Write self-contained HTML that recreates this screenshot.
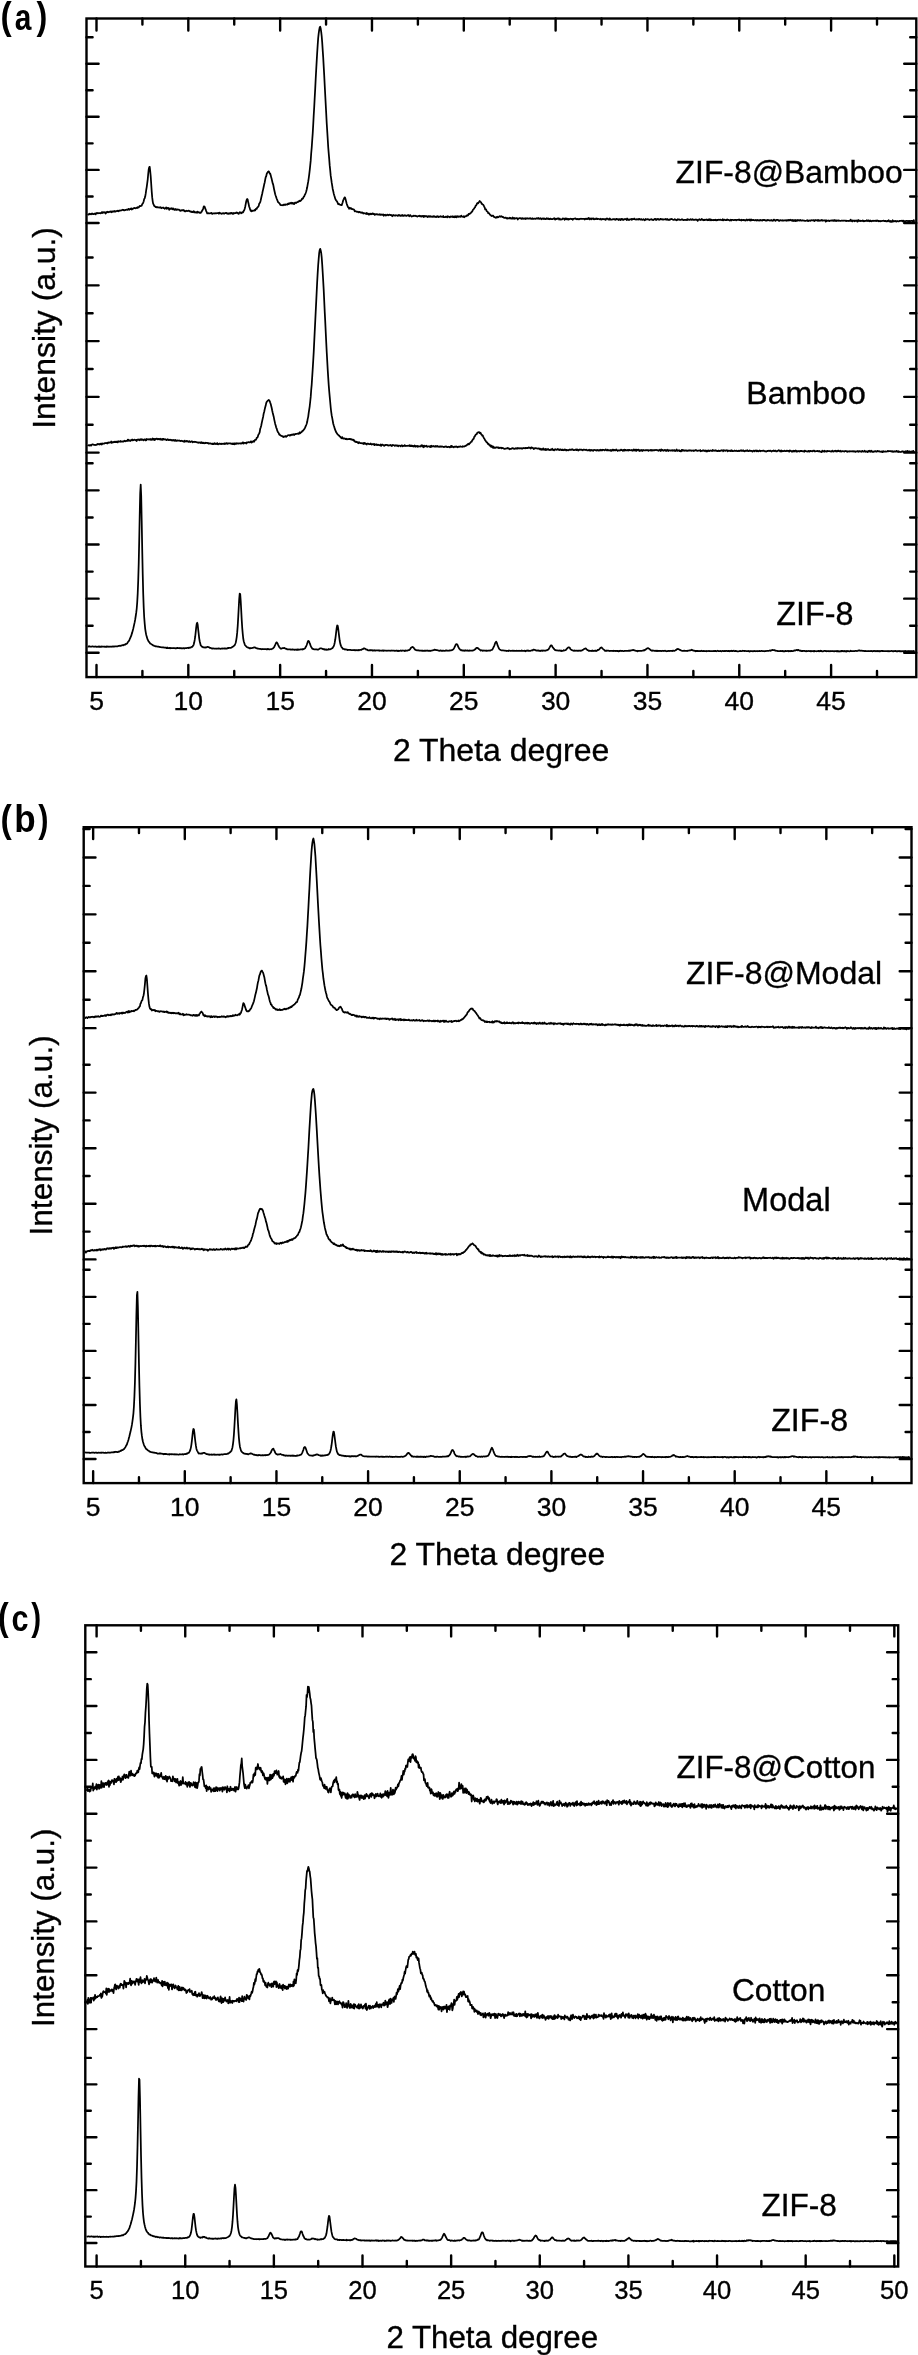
<!DOCTYPE html>
<html><head><meta charset="utf-8"><style>
html,body{margin:0;padding:0;background:#fff;}
svg{display:block;will-change:transform;}
text{font-family:"Liberation Sans",sans-serif;fill:#000;stroke:#000;stroke-width:0.35px;}
.tag{stroke-width:0;}
.tl{font-size:24.2px;text-anchor:middle;}
.ti{font-size:31.2px;}
.lb{font-size:31.2px;}
.tag{font-size:100px;font-weight:bold;}
</style></head><body>
<svg width="918" height="2355" viewBox="0 0 918 2355">
<rect x="86.5" y="18.5" width="829.8" height="658.6" fill="none" stroke="#000" stroke-width="2.4"/>
<path d="M96.5 677.1v-12.1M96.5 18.5v12.1M142.41 677.1v-6.1M142.41 18.5v6.1M188.32 677.1v-12.1M188.32 18.5v12.1M234.24 677.1v-6.1M234.24 18.5v6.1M280.15 677.1v-12.1M280.15 18.5v12.1M326.06 677.1v-6.1M326.06 18.5v6.1M371.97 677.1v-12.1M371.97 18.5v12.1M417.89 677.1v-6.1M417.89 18.5v6.1M463.8 677.1v-12.1M463.8 18.5v12.1M509.71 677.1v-6.1M509.71 18.5v6.1M555.62 677.1v-12.1M555.62 18.5v12.1M601.54 677.1v-6.1M601.54 18.5v6.1M647.45 677.1v-12.1M647.45 18.5v12.1M693.36 677.1v-6.1M693.36 18.5v6.1M739.27 677.1v-12.1M739.27 18.5v12.1M785.19 677.1v-6.1M785.19 18.5v6.1M831.1 677.1v-12.1M831.1 18.5v12.1M877.01 677.1v-6.1M877.01 18.5v6.1M86.5 37.2h6.1M916.3 37.2h-6.1M86.5 63.74h12.1M916.3 63.74h-12.1M86.5 90.28h6.1M916.3 90.28h-6.1M86.5 116.82h12.1M916.3 116.82h-12.1M86.5 143.36h6.1M916.3 143.36h-6.1M86.5 169.9h12.1M916.3 169.9h-12.1M86.5 196.44h6.1M916.3 196.44h-6.1M86.5 222.98h12.1M916.3 222.98h-12.1M86.5 257.5h6.1M916.3 257.5h-6.1M86.5 285.37h12.1M916.3 285.37h-12.1M86.5 313.24h6.1M916.3 313.24h-6.1M86.5 341.11h12.1M916.3 341.11h-12.1M86.5 368.98h6.1M916.3 368.98h-6.1M86.5 396.85h12.1M916.3 396.85h-12.1M86.5 424.72h6.1M916.3 424.72h-6.1M86.5 452.59h12.1M916.3 452.59h-12.1M86.5 463.3h6.1M916.3 463.3h-6.1M86.5 490.37h12.1M916.3 490.37h-12.1M86.5 517.44h6.1M916.3 517.44h-6.1M86.5 544.51h12.1M916.3 544.51h-12.1M86.5 571.58h6.1M916.3 571.58h-6.1M86.5 598.65h12.1M916.3 598.65h-12.1M86.5 625.72h6.1M916.3 625.72h-6.1M86.5 652.79h12.1M916.3 652.79h-12.1" stroke="#000" stroke-width="2.4" fill="none" stroke-linecap="round"/>
<text x="96.5" y="710.1" class="tl" style="font-size:26.5px">5</text>
<text x="188.32" y="710.1" class="tl" style="font-size:26.5px">10</text>
<text x="280.15" y="710.1" class="tl" style="font-size:26.5px">15</text>
<text x="371.97" y="710.1" class="tl" style="font-size:26.5px">20</text>
<text x="463.8" y="710.1" class="tl" style="font-size:26.5px">25</text>
<text x="555.62" y="710.1" class="tl" style="font-size:26.5px">30</text>
<text x="647.45" y="710.1" class="tl" style="font-size:26.5px">35</text>
<text x="739.27" y="710.1" class="tl" style="font-size:26.5px">40</text>
<text x="831.1" y="710.1" class="tl" style="font-size:26.5px">45</text>
<text x="392.9" y="761" class="ti" style="font-size:32.0px">2 Theta degree</text>
<text transform="translate(54.5 428.8) rotate(-90)" class="ti" style="font-size:31.85px">Intensity (a.u.)</text>
<text transform="translate(0.62 28.90) scale(0.3357 0.3856)" class="tag">(</text>
<text transform="translate(14.80 29.74) scale(0.2991 0.3636)" class="tag">a</text>
<text transform="translate(36.44 28.90) scale(0.3250 0.3856)" class="tag">)</text>
<rect x="83.7" y="827.2" width="827.8" height="655.9" fill="none" stroke="#000" stroke-width="2.4"/>
<path d="M93.15 1483.1v-11.8M93.15 827.2v11.8M138.97 1483.1v-5.9M138.97 827.2v5.9M184.8 1483.1v-11.8M184.8 827.2v11.8M230.62 1483.1v-5.9M230.62 827.2v5.9M276.45 1483.1v-11.8M276.45 827.2v11.8M322.27 1483.1v-5.9M322.27 827.2v5.9M368.1 1483.1v-11.8M368.1 827.2v11.8M413.92 1483.1v-5.9M413.92 827.2v5.9M459.75 1483.1v-11.8M459.75 827.2v11.8M505.57 1483.1v-5.9M505.57 827.2v5.9M551.4 1483.1v-11.8M551.4 827.2v11.8M597.22 1483.1v-5.9M597.22 827.2v5.9M643.05 1483.1v-11.8M643.05 827.2v11.8M688.87 1483.1v-5.9M688.87 827.2v5.9M734.7 1483.1v-11.8M734.7 827.2v11.8M780.52 1483.1v-5.9M780.52 827.2v5.9M826.35 1483.1v-11.8M826.35 827.2v11.8M872.17 1483.1v-5.9M872.17 827.2v5.9M83.7 829h5.9M911.5 829h-5.9M83.7 857.45h11.8M911.5 857.45h-11.8M83.7 885.9h5.9M911.5 885.9h-5.9M83.7 914.35h11.8M911.5 914.35h-11.8M83.7 942.8h5.9M911.5 942.8h-5.9M83.7 971.25h11.8M911.5 971.25h-11.8M83.7 999.7h5.9M911.5 999.7h-5.9M83.7 1028.15h11.8M911.5 1028.15h-11.8M83.7 1064.8h5.9M911.5 1064.8h-5.9M83.7 1092.6h11.8M911.5 1092.6h-11.8M83.7 1120.4h5.9M911.5 1120.4h-5.9M83.7 1148.2h11.8M911.5 1148.2h-11.8M83.7 1176h5.9M911.5 1176h-5.9M83.7 1203.8h11.8M911.5 1203.8h-11.8M83.7 1231.6h5.9M911.5 1231.6h-5.9M83.7 1259.4h11.8M911.5 1259.4h-11.8M83.7 1269.8h5.9M911.5 1269.8h-5.9M83.7 1296.83h11.8M911.5 1296.83h-11.8M83.7 1323.86h5.9M911.5 1323.86h-5.9M83.7 1350.89h11.8M911.5 1350.89h-11.8M83.7 1377.92h5.9M911.5 1377.92h-5.9M83.7 1404.95h11.8M911.5 1404.95h-11.8M83.7 1431.98h5.9M911.5 1431.98h-5.9M83.7 1459.01h11.8M911.5 1459.01h-11.8" stroke="#000" stroke-width="2.4" fill="none" stroke-linecap="round"/>
<text x="93.15" y="1515.6" class="tl" style="font-size:26.5px">5</text>
<text x="184.8" y="1515.6" class="tl" style="font-size:26.5px">10</text>
<text x="276.45" y="1515.6" class="tl" style="font-size:26.5px">15</text>
<text x="368.1" y="1515.6" class="tl" style="font-size:26.5px">20</text>
<text x="459.75" y="1515.6" class="tl" style="font-size:26.5px">25</text>
<text x="551.4" y="1515.6" class="tl" style="font-size:26.5px">30</text>
<text x="643.05" y="1515.6" class="tl" style="font-size:26.5px">35</text>
<text x="734.7" y="1515.6" class="tl" style="font-size:26.5px">40</text>
<text x="826.35" y="1515.6" class="tl" style="font-size:26.5px">45</text>
<text x="389.6" y="1565.3" class="ti" style="font-size:31.9px">2 Theta degree</text>
<text transform="translate(51.8 1235.5) rotate(-90)" class="ti" style="font-size:31.6px">Intensity (a.u.)</text>
<text transform="translate(0.60 831.58) scale(0.3393 0.3818)" class="tag">(</text>
<text transform="translate(14.32 832.32) scale(0.3505 0.3837)" class="tag">b</text>
<text transform="translate(38.35 831.58) scale(0.3071 0.3818)" class="tag">)</text>
<rect x="85.3" y="1625.3" width="812.9" height="641.2" fill="none" stroke="#000" stroke-width="2.4"/>
<path d="M96.6 2266.5v-11.1M96.6 1625.3v11.1M140.92 2266.5v-5.5M140.92 1625.3v5.5M185.24 2266.5v-11.1M185.24 1625.3v11.1M229.55 2266.5v-5.5M229.55 1625.3v5.5M273.87 2266.5v-11.1M273.87 1625.3v11.1M318.19 2266.5v-5.5M318.19 1625.3v5.5M362.5 2266.5v-11.1M362.5 1625.3v11.1M406.82 2266.5v-5.5M406.82 1625.3v5.5M451.14 2266.5v-11.1M451.14 1625.3v11.1M495.46 2266.5v-5.5M495.46 1625.3v5.5M539.77 2266.5v-11.1M539.77 1625.3v11.1M584.09 2266.5v-5.5M584.09 1625.3v5.5M628.41 2266.5v-11.1M628.41 1625.3v11.1M672.73 2266.5v-5.5M672.73 1625.3v5.5M717.05 2266.5v-11.1M717.05 1625.3v11.1M761.36 2266.5v-5.5M761.36 1625.3v5.5M805.68 2266.5v-11.1M805.68 1625.3v11.1M850 2266.5v-5.5M850 1625.3v5.5M894.32 2266.5v-11.1M894.32 1625.3v11.1M85.3 1652.22h11.1M898.2 1652.22h-11.1M85.3 1679.14h5.5M898.2 1679.14h-5.5M85.3 1706.06h11.1M898.2 1706.06h-11.1M85.3 1732.98h5.5M898.2 1732.98h-5.5M85.3 1759.9h11.1M898.2 1759.9h-11.1M85.3 1786.82h5.5M898.2 1786.82h-5.5M85.3 1813.74h11.1M898.2 1813.74h-11.1M85.3 1840.66h5.5M898.2 1840.66h-5.5M85.3 1867.58h11.1M898.2 1867.58h-11.1M85.3 1894.5h5.5M898.2 1894.5h-5.5M85.3 1921.42h11.1M898.2 1921.42h-11.1M85.3 1948.34h5.5M898.2 1948.34h-5.5M85.3 1975.26h11.1M898.2 1975.26h-11.1M85.3 2002.18h5.5M898.2 2002.18h-5.5M85.3 2029.1h11.1M898.2 2029.1h-11.1M85.3 2057.9h5.5M898.2 2057.9h-5.5M85.3 2084.35h11.1M898.2 2084.35h-11.1M85.3 2110.8h5.5M898.2 2110.8h-5.5M85.3 2137.25h11.1M898.2 2137.25h-11.1M85.3 2163.7h5.5M898.2 2163.7h-5.5M85.3 2190.15h11.1M898.2 2190.15h-11.1M85.3 2216.6h5.5M898.2 2216.6h-5.5M85.3 2243.05h11.1M898.2 2243.05h-11.1" stroke="#000" stroke-width="2.4" fill="none" stroke-linecap="round"/>
<text x="96.6" y="2299.1" class="tl" style="font-size:25.6px">5</text>
<text x="185.24" y="2299.1" class="tl" style="font-size:25.6px">10</text>
<text x="273.87" y="2299.1" class="tl" style="font-size:25.6px">15</text>
<text x="362.5" y="2299.1" class="tl" style="font-size:25.6px">20</text>
<text x="451.14" y="2299.1" class="tl" style="font-size:25.6px">25</text>
<text x="539.77" y="2299.1" class="tl" style="font-size:25.6px">30</text>
<text x="628.41" y="2299.1" class="tl" style="font-size:25.6px">35</text>
<text x="717.05" y="2299.1" class="tl" style="font-size:25.6px">40</text>
<text x="805.68" y="2299.1" class="tl" style="font-size:25.6px">45</text>
<text x="894.32" y="2299.1" class="tl" style="font-size:25.6px">50</text>
<text x="386.4" y="2348" class="ti" style="font-size:31.3px">2 Theta degree</text>
<text transform="translate(53.6 2026.9) rotate(-90)" class="ti" style="font-size:31.3px">Intensity (a.u.)</text>
<text transform="translate(-2.11 1629.58) scale(0.3214 0.3818)" class="tag">(</text>
<text transform="translate(11.48 1630.63) scale(0.3052 0.3691)" class="tag">c</text>
<text transform="translate(31.15 1629.58) scale(0.2964 0.3818)" class="tag">)</text>
<path d="M87.7 213.92 88.2 214.43 88.7 214.59 89.2 214.01 89.7 213.67 90.2 214.06 90.7 214.19 91.2 214.36 91.7 213.49 92.2 213.41 92.7 214.06 93.2 213.92 93.7 214.24 94.2 213.99 94.7 213.56 95.2 213.44 95.7 214.38 96.2 213.33 96.7 213.1 97.2 212.92 97.7 213.3 98.2 213.26 98.7 213.03 99.2 213.08 99.7 213.14 100.2 213.23 100.7 213.32 101.2 212.96 101.7 212.2 102.2 213.02 102.7 212.21 103.2 212.58 103.7 212.07 104.2 212.52 104.7 212.18 105.2 212.47 105.7 213.49 106.2 212.25 106.7 212.5 107.2 211.68 107.7 211.98 108.2 212.25 108.7 211.92 109.2 212.02 109.7 211.86 110.2 211.41 110.7 211.89 111.2 211.35 111.7 212.23 112.2 211.33 112.7 211.68 113.2 211.38 113.7 211.65 114.2 211.04 114.7 211.54 115.2 211.08 115.7 211.5 116.2 211.21 116.7 210.98 117.2 210.59 117.7 211.07 118.2 210.9 118.7 211.24 119.2 210.47 119.7 210.72 120.2 210.63 120.7 210.47 121.2 210.37 121.7 210.29 122.2 209.94 122.7 209.72 123.2 209.86 123.7 210.13 124.2 210.37 124.7 210.11 125.2 210.06 125.7 209.88 126.2 209.78 126.7 209.52 127.2 209.64 127.7 209.91 128.2 209.09 128.7 208.88 129.2 209.73 129.7 209.04 130.2 209.22 130.7 209.11 131.2 208.33 131.7 209.5 132.2 209.19 132.7 208.54 133.2 208.66 133.7 208.35 134.2 207.91 134.7 208.08 135.2 208.15 135.7 208.3 136.2 208.04 136.7 207.69 137.2 208.01 137.7 207.13 138.2 207.51 138.7 207.44 139.2 206.75 139.7 205.98 140.2 206.02 140.7 206.11 141.2 205.81 141.7 205.66 142.2 204.1 142.7 203.61 143.2 202.79 143.7 201.21 144.2 198.89 144.7 198.18 145.2 196.59 145.7 193.69 146.2 190.2 146.7 187.09 147.2 183.4 147.7 179.61 148.2 173.99 148.7 169.34 149.2 167.17 149.7 166.84 150.2 171.04 150.7 176.3 151.2 183.77 151.7 191.33 152.2 197.44 152.7 201.34 153.2 203.85 153.7 204.62 154.2 205.81 154.7 206.27 155.2 206.54 155.7 207.09 156.2 206.89 156.7 207.38 157.2 207.21 157.7 207.14 158.2 207.36 158.7 207.53 159.2 207.73 159.7 207.31 160.2 207.46 160.7 207.13 161.2 208.24 161.7 208.25 162.2 207.75 162.7 207.7 163.2 207.5 163.7 208.05 164.2 208.12 164.7 208.87 165.2 208.24 165.7 207.94 166.2 207.41 166.7 208.81 167.2 208.43 167.7 207.85 168.2 208.54 168.7 207.98 169.2 209.84 169.7 209.08 170.2 208.96 170.7 208.77 171.2 208.16 171.7 208.93 172.2 208.5 172.7 209.33 173.2 208.44 173.7 208.94 174.2 209.75 174.7 209.97 175.2 209.05 175.7 209 176.2 209.91 176.7 209.97 177.2 209.39 177.7 209.56 178.2 209.63 178.7 209.52 179.2 209.77 179.7 210.51 180.2 210.38 180.7 210.93 181.2 210.25 181.7 210.3 182.2 210.07 182.7 210.43 183.2 210.08 183.7 209.99 184.2 210.92 184.7 211.25 185.2 211.1 185.7 211.34 186.2 211.03 186.7 210.75 187.2 211.1 187.7 211 188.2 210.81 188.7 210.67 189.2 210.81 189.7 211.39 190.2 211.51 190.7 211.36 191.2 212.09 191.7 211.71 192.2 211.92 192.7 212.21 193.2 211.56 193.7 211.22 194.2 212.24 194.7 211.8 195.2 212.56 195.7 212.28 196.2 212.58 196.7 212.56 197.2 211.62 197.7 212.64 198.2 212.19 198.7 212.2 199.2 212.35 199.7 212.81 200.2 212.87 200.7 212.9 201.2 211.83 201.7 211.83 202.2 210.4 202.7 209.89 203.2 208.52 203.7 206.6 204.2 206.32 204.7 206.81 205.2 208.48 205.7 209.56 206.2 211.03 206.7 212.03 207.2 213.44 207.7 213.45 208.2 213.14 208.7 213.32 209.2 213.33 209.7 213.4 210.2 213.28 210.7 213.23 211.2 212.91 211.7 213.13 212.2 213.94 212.7 213.55 213.2 213.39 213.7 213.29 214.2 213.39 214.7 213.5 215.2 213.15 215.7 213.45 216.2 213.46 216.7 213.12 217.2 213.11 217.7 213.04 218.2 213.02 218.7 213.7 219.2 212.57 219.7 213.3 220.2 213.18 220.7 213.18 221.2 213.43 221.7 213.8 222.2 213.43 222.7 213.36 223.2 213.19 223.7 213.36 224.2 213.73 224.7 213.27 225.2 213.01 225.7 212.97 226.2 213.03 226.7 212.93 227.2 213.8 227.7 213.54 228.2 213.34 228.7 213.93 229.2 213.19 229.7 213.69 230.2 213.7 230.7 212.88 231.2 212.88 231.7 213.1 232.2 213.74 232.7 213.88 233.2 212.98 233.7 213.74 234.2 213.19 234.7 213.15 235.2 213.05 235.7 213.09 236.2 212.52 236.7 212.77 237.2 212.64 237.7 213.21 238.2 213.72 238.7 213.91 239.2 212.79 239.7 212.26 240.2 212.67 240.7 212.41 241.2 213.35 241.7 212.78 242.2 212.21 242.7 212.63 243.2 212.19 243.7 210.87 244.2 210.27 244.7 208.81 245.2 206.73 245.7 204.2 246.2 201.51 246.7 199.86 247.2 198.95 247.7 199.59 248.2 202.31 248.7 204.33 249.2 206.73 249.7 207.92 250.2 209.7 250.7 210.77 251.2 210.36 251.7 211.29 252.2 210.74 252.7 210.92 253.2 210.6 253.7 210.56 254.2 210.71 254.7 209.92 255.2 210.33 255.7 209.18 256.2 208.72 256.7 208.81 257.2 207.6 257.7 207.14 258.2 206.76 258.7 205.89 259.2 203.71 259.7 203.2 260.2 202.2 260.7 200.29 261.2 197.95 261.7 195.81 262.2 193.76 262.7 191.18 263.2 189.12 263.7 186.73 264.2 184.33 264.7 182.44 265.2 179.71 265.7 177.21 266.2 176.25 266.7 173.96 267.2 172.95 267.7 172.2 268.2 171.66 268.7 171.36 269.2 171.95 269.7 173.53 270.2 173.63 270.7 175.21 271.2 177.33 271.7 179.11 272.2 181.19 272.7 183.41 273.2 184.65 273.7 187.27 274.2 189.8 274.7 192.02 275.2 194.26 275.7 195.78 276.2 197.17 276.7 198.73 277.2 199.93 277.7 201.19 278.2 202.27 278.7 202.69 279.2 203.15 279.7 203.64 280.2 204.7 280.7 205.05 281.2 205.15 281.7 205.24 282.2 205.3 282.7 205.04 283.2 205.26 283.7 204.62 284.2 204.85 284.7 204.58 285.2 204.99 285.7 204.43 286.2 204.47 286.7 204.52 287.2 204.72 287.7 203.83 288.2 203.63 288.7 204.09 289.2 203.27 289.7 203.65 290.2 203.18 290.7 203.3 291.2 202.65 291.7 203.48 292.2 202.99 292.7 202.78 293.2 203.75 293.7 203.19 294.2 204.08 294.7 202.9 295.2 202.53 295.7 202.57 296.2 202.97 296.7 202.26 297.2 202.27 297.7 202.13 298.2 201.45 298.7 201.61 299.2 201.17 299.7 200.66 300.2 201.12 300.7 200.73 301.2 200.16 301.7 199.41 302.2 198.55 302.7 198.88 303.2 198.04 303.7 196.75 304.2 196.46 304.7 194.94 305.2 194.29 305.7 192.97 306.2 191.43 306.7 189.5 307.2 187.29 307.7 184.3 308.2 181.65 308.7 178.26 309.2 174.55 309.7 170.42 310.2 165.71 310.7 160.68 311.2 153.25 311.7 147.76 312.2 140.45 312.7 133.67 313.2 125.05 313.7 115.55 314.2 107.3 314.7 97.72 315.2 88.85 315.7 78.71 316.2 69.77 316.7 60.84 317.2 52.5 317.7 44.77 318.2 37.82 318.7 33.39 319.2 29.84 319.7 27.37 320.2 26.7 320.7 28.55 321.2 31.81 321.7 36.25 322.2 42.38 322.7 50.11 323.2 57.36 323.7 66.36 324.2 75.13 324.7 85.04 325.2 94.57 325.7 103.94 326.2 113.25 326.7 123.01 327.2 130.78 327.7 138.79 328.2 147.05 328.7 153.16 329.2 158.89 329.7 165.39 330.2 170.11 330.7 175.66 331.2 178.79 331.7 182.68 332.2 185.53 332.7 188.94 333.2 190.99 333.7 193.45 334.2 195.18 334.7 196.68 335.2 198.6 335.7 199.78 336.2 200.51 336.7 201.07 337.2 201.79 337.7 202.94 338.2 204.29 338.7 203.83 339.2 204.19 339.7 204.61 340.2 204.75 340.7 204.92 341.2 205.06 341.7 205.15 342.2 203.74 342.7 202.23 343.2 200.25 343.7 199.33 344.2 198.11 344.7 197.32 345.2 197.91 345.7 199.63 346.2 201.84 346.7 203.65 347.2 205.22 347.7 206.33 348.2 207.4 348.7 207.76 349.2 208.75 349.7 207.68 350.2 208 350.7 208.65 351.2 208.26 351.7 209.07 352.2 208.85 352.7 209.25 353.2 209.42 353.7 209.41 354.2 209.88 354.7 211.3 355.2 211.02 355.7 211.24 356.2 211.58 356.7 211.63 357.2 211.96 357.7 211.66 358.2 211.81 358.7 212.36 359.2 212.02 359.7 211.79 360.2 212.29 360.7 212.29 361.2 212.8 361.7 212.43 362.2 212.41 362.7 212.76 363.2 213.52 363.7 213.05 364.2 213.22 364.7 213.26 365.2 213.44 365.7 213.72 366.2 213.94 366.7 212.93 367.2 214.04 367.7 213.61 368.2 213.56 368.7 214.56 369.2 213.71 369.7 214.5 370.2 214.21 370.7 213.56 371.2 214.14 371.7 214.27 372.2 214.02 372.7 213.3 373.2 214.04 373.7 214.13 374.2 213.86 374.7 214.93 375.2 214.25 375.7 214.24 376.2 214.31 376.7 214.19 377.2 214.23 377.7 214.58 378.2 214.7 378.7 214.45 379.2 214.63 379.7 214.22 380.2 214.92 380.7 214.5 381.2 214.86 381.7 214.49 382.2 214.65 382.7 214.93 383.2 214.46 383.7 215.77 384.2 214.91 384.7 214.92 385.2 214.71 385.7 215.55 386.2 215.49 386.7 215.13 387.2 214.57 387.7 214.89 388.2 215.31 388.7 214.93 389.2 214.72 389.7 214.73 390.2 214.9 390.7 215.19 391.2 214.98 391.7 215.23 392.2 216.22 392.7 215.88 393.2 214.92 393.7 215.42 394.2 215.35 394.7 215.29 395.2 215.72 395.7 215.25 396.2 215.27 396.7 215.27 397.2 215.39 397.7 215.89 398.2 215.73 398.7 215 399.2 215.33 399.7 215.23 400.2 215.81 400.7 215.62 401.2 215.87 401.7 215.55 402.2 214.93 402.7 215.77 403.2 215.71 403.7 215.82 404.2 215.21 404.7 215.71 405.2 215.46 405.7 215.47 406.2 215.86 406.7 215.87 407.2 215.45 407.7 215.18 408.2 214.93 408.7 215.61 409.2 216.22 409.7 215.83 410.2 215.08 410.7 215.58 411.2 216.04 411.7 216.5 412.2 216.34 412.7 216.07 413.2 216.03 413.7 215.6 414.2 215.83 414.7 215.89 415.2 215.75 415.7 216.06 416.2 215.91 416.7 216.18 417.2 216.58 417.7 216.36 418.2 216.26 418.7 216.04 419.2 215.61 419.7 216.12 420.2 216.36 420.7 215.83 421.2 216.64 421.7 216.1 422.2 216.36 422.7 216.13 423.2 215.82 423.7 217 424.2 215.88 424.7 216.62 425.2 216.12 425.7 216.42 426.2 216.06 426.7 216.21 427.2 216.69 427.7 217.06 428.2 216.1 428.7 216.41 429.2 216.75 429.7 216.21 430.2 216.7 430.7 216.19 431.2 216.68 431.7 216.64 432.2 216.92 432.7 216.64 433.2 216.11 433.7 216.77 434.2 216.16 434.7 216.82 435.2 217.1 435.7 216.79 436.2 216.4 436.7 217.03 437.2 216.68 437.7 216.19 438.2 216.52 438.7 217.15 439.2 216.56 439.7 216.72 440.2 216.57 440.7 216.11 441.2 216.53 441.7 216.84 442.2 216.8 442.7 216.67 443.2 216 443.7 217.18 444.2 217.01 444.7 217.13 445.2 217.23 445.7 216.63 446.2 216.58 446.7 216.91 447.2 217.39 447.7 216.22 448.2 216.73 448.7 216.57 449.2 217.02 449.7 217.34 450.2 216.73 450.7 216.4 451.2 216.85 451.7 216.74 452.2 216.3 452.7 217.15 453.2 216.65 453.7 217.08 454.2 216.37 454.7 217.22 455.2 216.32 455.7 217.19 456.2 216.19 456.7 217.3 457.2 216.67 457.7 216.25 458.2 216.7 458.7 216.89 459.2 216.41 459.7 216.56 460.2 216.81 460.7 216.63 461.2 215.59 461.7 216.48 462.2 216.73 462.7 216.64 463.2 216.83 463.7 216.17 464.2 217.22 464.7 216.51 465.2 216.23 465.7 216.37 466.2 216.17 466.7 215.69 467.2 215.23 467.7 215.56 468.2 215.07 468.7 213.94 469.2 213.86 469.7 214.01 470.2 213.43 470.7 212.99 471.2 212.57 471.7 211.8 472.2 211.66 472.7 210.21 473.2 209.55 473.7 209.04 474.2 208.4 474.7 207.61 475.2 207.05 475.7 205.56 476.2 205.36 476.7 204.38 477.2 203.18 477.7 202.91 478.2 203.21 478.7 202.4 479.2 201.75 479.7 201 480.2 201.68 480.7 201.93 481.2 202.58 481.7 203.86 482.2 203.92 482.7 204.47 483.2 204.78 483.7 205.5 484.2 206.66 484.7 207.4 485.2 209.45 485.7 209.07 486.2 209.78 486.7 211.14 487.2 211.48 487.7 211.69 488.2 213.19 488.7 213.2 489.2 213.37 489.7 214.42 490.2 214.9 490.7 214.99 491.2 215.69 491.7 216.03 492.2 215.7 492.7 215.52 493.2 215.6 493.7 216.57 494.2 217.19 494.7 217.24 495.2 217.48 495.7 217.73 496.2 217.15 496.7 217.55 497.2 216.65 497.7 217.4 498.2 217.21 498.7 216.91 499.2 216.61 499.7 216.18 500.2 216.44 500.7 216.74 501.2 216.22 501.7 216.73 502.2 216.57 502.7 217.17 503.2 216.98 503.7 217.67 504.2 217.62 504.7 217.93 505.2 217.69 505.7 217.56 506.2 217.9 506.7 218.42 507.2 218.65 507.7 218.01 508.2 218.44 508.7 218.45 509.2 218.35 509.7 217.7 510.2 218.37 510.7 217.94 511.2 218.7 511.7 218.58 512.2 218.53 512.7 217.44 513.2 218.56 513.7 218.6 514.2 217.91 514.7 218.71 515.2 218.41 515.7 218.33 516.2 218.15 516.7 218.05 517.2 218.27 517.7 219.51 518.2 218.51 518.7 218.52 519.2 218.23 519.7 218.24 520.2 218.27 520.7 218.17 521.2 218.79 521.7 218.4 522.2 218.8 522.7 218.1 523.2 218.84 523.7 218.51 524.2 218.76 524.7 218.49 525.2 218.23 525.7 218.97 526.2 218.4 526.7 218.5 527.2 218.25 527.7 218.64 528.2 218.44 528.7 218.68 529.2 218.7 529.7 218.35 530.2 218.1 530.7 218.75 531.2 218.93 531.7 218.85 532.2 218.21 532.7 218.83 533.2 218.76 533.7 218.73 534.2 218.79 534.7 218.53 535.2 218.72 535.7 218.97 536.2 218.48 536.7 218.16 537.2 218.63 537.7 218.74 538.2 218.03 538.7 218.44 539.2 218.89 539.7 218.63 540.2 218.72 540.7 218.25 541.2 219.02 541.7 219.32 542.2 218.64 542.7 218.46 543.2 218.31 543.7 219.03 544.2 218.76 544.7 218.45 545.2 219.16 545.7 219.01 546.2 218.95 546.7 218.13 547.2 218.71 547.7 218.97 548.2 218.33 548.7 219.09 549.2 219.27 549.7 219.13 550.2 218.52 550.7 218.53 551.2 219.11 551.7 219.13 552.2 219.22 552.7 219.21 553.2 218.76 553.7 218.66 554.2 218.16 554.7 219.08 555.2 219.61 555.7 218.65 556.2 218.65 556.7 219.05 557.2 218.96 557.7 218.35 558.2 218.58 558.7 218.45 559.2 219.55 559.7 218.59 560.2 219.15 560.7 219.52 561.2 219.52 561.7 219.36 562.2 219.43 562.7 218.44 563.2 218.75 563.7 218.62 564.2 218.78 564.7 219.8 565.2 218.3 565.7 219.08 566.2 218.46 566.7 219.36 567.2 219.35 567.7 218.72 568.2 219.63 568.7 218.94 569.2 219.37 569.7 219.03 570.2 218.72 570.7 218.79 571.2 218.89 571.7 219.15 572.2 218.98 572.7 219.76 573.2 218.87 573.7 218.78 574.2 218.7 574.7 218.68 575.2 218.45 575.7 218.61 576.2 219.28 576.7 218.99 577.2 218.91 577.7 219.09 578.2 219.35 578.7 219.19 579.2 219.25 579.7 218.79 580.2 218.9 580.7 218.72 581.2 218.96 581.7 218.71 582.2 218.87 582.7 218.94 583.2 218.93 583.7 218.92 584.2 218.84 584.7 219.48 585.2 218.9 585.7 218.67 586.2 219.1 586.7 218.65 587.2 218.66 587.7 219.07 588.2 218.46 588.7 217.92 589.2 219.15 589.7 219.41 590.2 218.47 590.7 218.74 591.2 219.26 591.7 218.37 592.2 218.76 592.7 218.65 593.2 219 593.7 218.39 594.2 219.39 594.7 219.03 595.2 219.19 595.7 218.98 596.2 218.35 596.7 219.04 597.2 218.63 597.7 219.11 598.2 218.81 598.7 219 599.2 219.04 599.7 219.39 600.2 219.39 600.7 218.77 601.2 219.12 601.7 219.64 602.2 219.31 602.7 218.88 603.2 219.1 603.7 219.02 604.2 219.47 604.7 219.16 605.2 219.28 605.7 219.93 606.2 218.68 606.7 218.81 607.2 218.56 607.7 218.61 608.2 219.47 608.7 219.28 609.2 219.75 609.7 218.49 610.2 218.87 610.7 219.69 611.2 219.55 611.7 219.5 612.2 219.5 612.7 219.21 613.2 219.2 613.7 219.22 614.2 219.5 614.7 219.15 615.2 219.33 615.7 219.73 616.2 218.83 616.7 218.96 617.2 219.42 617.7 219.14 618.2 219.18 618.7 219.97 619.2 219.38 619.7 219.1 620.2 219.63 620.7 220.13 621.2 218.86 621.7 219.02 622.2 219.3 622.7 219.04 623.2 220.02 623.7 219.45 624.2 219.13 624.7 219.45 625.2 219 625.7 219.07 626.2 219.32 626.7 220.12 627.2 218.5 627.7 219.44 628.2 219.77 628.7 219.56 629.2 219.97 629.7 219.46 630.2 219.36 630.7 219.26 631.2 219.01 631.7 219.89 632.2 218.91 632.7 219.28 633.2 219.14 633.7 219.05 634.2 218.55 634.7 219.2 635.2 219.39 635.7 219.39 636.2 219.64 636.7 219.29 637.2 219.13 637.7 219.46 638.2 219.59 638.7 219.04 639.2 218.83 639.7 219.01 640.2 219.74 640.7 219.72 641.2 219.06 641.7 219.42 642.2 219.67 642.7 219.85 643.2 219.16 643.7 219.31 644.2 219.89 644.7 220.24 645.2 219.94 645.7 219 646.2 219.56 646.7 219.3 647.2 219.39 647.7 219.18 648.2 219.25 648.7 219.42 649.2 220.06 649.7 219.67 650.2 219.58 650.7 219.44 651.2 219.17 651.7 219.36 652.2 219.88 652.7 219.74 653.2 220.14 653.7 219.54 654.2 219.45 654.7 218.89 655.2 219.6 655.7 218.86 656.2 220 656.7 219.25 657.2 219.47 657.7 219 658.2 219.31 658.7 219.16 659.2 219.88 659.7 219.57 660.2 219.08 660.7 218.82 661.2 219.47 661.7 219.33 662.2 219.11 662.7 219.71 663.2 219.44 663.7 219.55 664.2 219.31 664.7 219.32 665.2 219.36 665.7 218.96 666.2 219.75 666.7 219.67 667.2 218.93 667.7 219.57 668.2 219.94 668.7 219.63 669.2 220 669.7 219.45 670.2 219.55 670.7 219.1 671.2 219.24 671.7 218.92 672.2 219.25 672.7 219.65 673.2 219.75 673.7 219.98 674.2 219.62 674.7 219.23 675.2 219.73 675.7 219.53 676.2 220.21 676.7 220.28 677.2 219.93 677.7 219.2 678.2 219.42 678.7 219.67 679.2 219.36 679.7 219.79 680.2 219.85 680.7 219.91 681.2 219.7 681.7 219.31 682.2 219.33 682.7 219.59 683.2 220.1 683.7 220.19 684.2 219.98 684.7 219.77 685.2 219.88 685.7 219.94 686.2 220.11 686.7 219.96 687.2 219.12 687.7 220 688.2 219.8 688.7 219.51 689.2 219.86 689.7 219.78 690.2 219.66 690.7 219.09 691.2 219.73 691.7 219.89 692.2 219.68 692.7 219.14 693.2 219.86 693.7 219.96 694.2 219.77 694.7 219.86 695.2 219.59 695.7 219.49 696.2 219.91 696.7 219.6 697.2 219.79 697.7 220.87 698.2 219.99 698.7 219.79 699.2 219.18 699.7 219.78 700.2 220.02 700.7 219.51 701.2 219.68 701.7 218.97 702.2 219.96 702.7 219.56 703.2 220.01 703.7 220.25 704.2 219.72 704.7 220.13 705.2 219.87 705.7 219.72 706.2 219.7 706.7 219.5 707.2 220.25 707.7 220.11 708.2 219.46 708.7 220.11 709.2 219.56 709.7 219.29 710.2 220.24 710.7 219.38 711.2 220.24 711.7 219.9 712.2 220.15 712.7 220.02 713.2 220.25 713.7 219.97 714.2 220.05 714.7 219.94 715.2 220.24 715.7 219.72 716.2 220.22 716.7 220.39 717.2 219.85 717.7 220.03 718.2 219.7 718.7 219.78 719.2 219.98 719.7 219.77 720.2 219.58 720.7 219.88 721.2 219.97 721.7 220.01 722.2 220.15 722.7 219.29 723.2 220.41 723.7 219.86 724.2 219.65 724.7 219.79 725.2 220.08 725.7 220.23 726.2 219.8 726.7 219.99 727.2 219.38 727.7 220 728.2 219.91 728.7 219.8 729.2 220.26 729.7 220.58 730.2 220.32 730.7 219.69 731.2 220.5 731.7 219.85 732.2 219.96 732.7 219.78 733.2 220.14 733.7 220.18 734.2 220.04 734.7 219.92 735.2 219.95 735.7 219.86 736.2 220.34 736.7 219.82 737.2 219.96 737.7 219.94 738.2 219.75 738.7 219.94 739.2 219.51 739.7 220.17 740.2 220.22 740.7 219.93 741.2 220.58 741.7 219.75 742.2 220.24 742.7 220.21 743.2 219.86 743.7 219.97 744.2 220.37 744.7 220.08 745.2 220.16 745.7 220.56 746.2 220.15 746.7 219.49 747.2 219.82 747.7 220.37 748.2 220.04 748.7 219.71 749.2 219.4 749.7 220.21 750.2 220.62 750.7 219.67 751.2 219.35 751.7 220.28 752.2 219.92 752.7 220.01 753.2 220.01 753.7 219.81 754.2 220.28 754.7 220.45 755.2 220.26 755.7 219.94 756.2 220.5 756.7 220.11 757.2 220.35 757.7 219.83 758.2 220.38 758.7 220.42 759.2 220.61 759.7 220.17 760.2 220.32 760.7 219.97 761.2 220.48 761.7 220.45 762.2 220.56 762.7 220.05 763.2 219.77 763.7 220.17 764.2 220.12 764.7 219.94 765.2 220.41 765.7 220.54 766.2 220.35 766.7 220.6 767.2 220.35 767.7 219.88 768.2 220.02 768.7 220.11 769.2 220.47 769.7 220.55 770.2 220.29 770.7 220.59 771.2 219.96 771.7 220.21 772.2 220.77 772.7 220.41 773.2 220.62 773.7 219.61 774.2 219.69 774.7 219.97 775.2 220.62 775.7 220.84 776.2 220.07 776.7 219.94 777.2 219.94 777.7 219.98 778.2 220.49 778.7 220.19 779.2 220.95 779.7 220.55 780.2 220.07 780.7 220.39 781.2 220.26 781.7 220.59 782.2 220.63 782.7 220.2 783.2 220.64 783.7 220.53 784.2 220.31 784.7 220.43 785.2 220.58 785.7 220.24 786.2 220.12 786.7 220.79 787.2 220.36 787.7 220.15 788.2 220.52 788.7 219.86 789.2 220.39 789.7 219.9 790.2 220.23 790.7 219.77 791.2 220.14 791.7 220.7 792.2 220.33 792.7 219.98 793.2 221 793.7 220.18 794.2 220.92 794.7 220.23 795.2 219.91 795.7 221.05 796.2 220.27 796.7 220.68 797.2 220.84 797.7 219.98 798.2 220.46 798.7 220.24 799.2 220.65 799.7 220.44 800.2 220.01 800.7 220.47 801.2 220.72 801.7 220.36 802.2 220.65 802.7 220.28 803.2 220.45 803.7 220.59 804.2 220.52 804.7 220.91 805.2 220.81 805.7 220.77 806.2 220.74 806.7 220.54 807.2 220.1 807.7 220.86 808.2 221.1 808.7 220.58 809.2 220.42 809.7 220.5 810.2 220.93 810.7 220.62 811.2 220.19 811.7 220.47 812.2 220.27 812.7 220.46 813.2 220.23 813.7 220.24 814.2 221.05 814.7 220.91 815.2 220 815.7 220.22 816.2 220.4 816.7 220.43 817.2 220.09 817.7 220.87 818.2 220.02 818.7 220.81 819.2 220.82 819.7 220.46 820.2 220.36 820.7 220.61 821.2 220.64 821.7 219.88 822.2 220.17 822.7 220.78 823.2 220.57 823.7 220.47 824.2 220.27 824.7 220.37 825.2 220.36 825.7 221.58 826.2 220.2 826.7 221.15 827.2 220.8 827.7 220.71 828.2 220.71 828.7 220.51 829.2 221.2 829.7 220.82 830.2 220.64 830.7 220.62 831.2 220.73 831.7 220.27 832.2 220.56 832.7 220.46 833.2 220.89 833.7 220.88 834.2 220.04 834.7 220.61 835.2 221.03 835.7 220.25 836.2 220.29 836.7 221.04 837.2 220.66 837.7 220.55 838.2 220.29 838.7 220.77 839.2 220.53 839.7 220.79 840.2 220.87 840.7 220.97 841.2 220.62 841.7 220.55 842.2 220.75 842.7 220.71 843.2 220.8 843.7 220.57 844.2 220.67 844.7 220.55 845.2 220.56 845.7 220.81 846.2 221.16 846.7 220.58 847.2 220.97 847.7 220.89 848.2 220.82 848.7 221.01 849.2 220.59 849.7 220.98 850.2 220.89 850.7 219.6 851.2 220.92 851.7 221.01 852.2 221.47 852.7 220.45 853.2 220.85 853.7 220.94 854.2 220.49 854.7 221.23 855.2 220.98 855.7 220.56 856.2 220.42 856.7 220.69 857.2 221.65 857.7 221.58 858.2 220 858.7 220.23 859.2 221.08 859.7 220.82 860.2 220.64 860.7 221.07 861.2 220.9 861.7 220.97 862.2 220.96 862.7 220.5 863.2 221.33 863.7 220.73 864.2 221.28 864.7 221.13 865.2 220.91 865.7 220.95 866.2 220.89 866.7 220.27 867.2 220.8 867.7 221.06 868.2 220.36 868.7 220.41 869.2 221.29 869.7 221.2 870.2 220.4 870.7 221.09 871.2 220.92 871.7 221.27 872.2 220.83 872.7 220.87 873.2 220.69 873.7 221.01 874.2 220.91 874.7 220.73 875.2 220.84 875.7 220.71 876.2 221.18 876.7 220.62 877.2 220.44 877.7 220.65 878.2 221.36 878.7 220.81 879.2 221.21 879.7 221.25 880.2 220.82 880.7 221.26 881.2 221.18 881.7 220.99 882.2 220.77 882.7 220.99 883.2 220.58 883.7 220.93 884.2 220.82 884.7 221.18 885.2 221.15 885.7 220.81 886.2 221.34 886.7 221.45 887.2 221.07 887.7 220.79 888.2 221.23 888.7 220.21 889.2 220.86 889.7 221.26 890.2 221.76 890.7 220.81 891.2 221.6 891.7 221.88 892.2 221.73 892.7 220.27 893.2 221.47 893.7 221.16 894.2 221.44 894.7 221.03 895.2 220.89 895.7 221.02 896.2 221.63 896.7 221.4 897.2 221.01 897.7 221.25 898.2 221.42 898.7 221.32 899.2 221.11 899.7 220.9 900.2 220.88 900.7 220.99 901.2 220.95 901.7 220.6 902.2 220.66 902.7 221.45 903.2 220.77 903.7 220.7 904.2 221.15 904.7 221.67 905.2 221.6 905.7 221.03 906.2 220.82 906.7 220.99 907.2 220.87 907.7 220.99 908.2 221.35 908.7 220.82 909.2 220.92 909.7 221.11 910.2 221.19 910.7 220.94 911.2 220.93 911.7 220.82 912.2 220.95 912.7 221.4 913.2 221.14 913.7 220.15 914.2 221.44 914.7 221.21" stroke="#000" stroke-width="1.75" fill="none" stroke-linejoin="round"/>
<path d="M87.7 444.94 88.2 445.46 88.7 445.22 89.2 445.08 89.7 445.53 90.2 445.15 90.7 444.96 91.2 445.62 91.7 444.76 92.2 444.42 92.7 444.32 93.2 444.55 93.7 444.9 94.2 444.9 94.7 444.94 95.2 445.12 95.7 445.01 96.2 444.58 96.7 444.76 97.2 444.46 97.7 443.97 98.2 444.39 98.7 444.06 99.2 443.9 99.7 444.61 100.2 444.12 100.7 443.61 101.2 443.69 101.7 444.48 102.2 443.5 102.7 443.78 103.2 443.68 103.7 443.57 104.2 443.54 104.7 443.09 105.2 443.03 105.7 443.08 106.2 442.94 106.7 443.29 107.2 443.48 107.7 442.56 108.2 443 108.7 442.4 109.2 442.43 109.7 442.53 110.2 442.59 110.7 442.33 111.2 441.5 111.7 442.86 112.2 442.22 112.7 442.04 113.2 442.45 113.7 441.95 114.2 441.6 114.7 442.23 115.2 442.15 115.7 441.65 116.2 442.19 116.7 441.97 117.2 441.38 117.7 442.35 118.2 441.77 118.7 441.22 119.2 441.73 119.7 441.57 120.2 441.81 120.7 440.94 121.2 441.73 121.7 441.64 122.2 441.5 122.7 441.42 123.2 441.61 123.7 441.35 124.2 441.09 124.7 440.69 125.2 441.33 125.7 441.23 126.2 440.93 126.7 440.83 127.2 440.98 127.7 439.78 128.2 440.73 128.7 439.68 129.2 440.59 129.7 440.83 130.2 441.07 130.7 440.18 131.2 440.45 131.7 440.22 132.2 439.4 132.7 440.39 133.2 440.08 133.7 440.05 134.2 439.64 134.7 439.91 135.2 439.9 135.7 440.27 136.2 439.88 136.7 441 137.2 439.61 137.7 439.65 138.2 439.71 138.7 439.43 139.2 440.24 139.7 439.92 140.2 439.23 140.7 439.71 141.2 440.06 141.7 439.14 142.2 439.68 142.7 439.53 143.2 440.43 143.7 439.74 144.2 439.44 144.7 439.37 145.2 440.23 145.7 439.38 146.2 440.34 146.7 438.97 147.2 439.44 147.7 439.41 148.2 439.23 148.7 439.4 149.2 439.7 149.7 439.21 150.2 438.93 150.7 439.9 151.2 439.93 151.7 439.15 152.2 439.49 152.7 438.46 153.2 439.73 153.7 438.87 154.2 439.14 154.7 440.09 155.2 438.86 155.7 439.3 156.2 438.91 156.7 438.62 157.2 438.85 157.7 439.34 158.2 438.77 158.7 439.01 159.2 439.47 159.7 439.14 160.2 438.72 160.7 439.7 161.2 439.23 161.7 439.72 162.2 438.9 162.7 439.91 163.2 438.87 163.7 438.78 164.2 439.29 164.7 439.35 165.2 439.62 165.7 439.37 166.2 439.83 166.7 440.13 167.2 439.46 167.7 439.25 168.2 439.64 168.7 440.11 169.2 440.15 169.7 439.78 170.2 439.6 170.7 439.99 171.2 440.38 171.7 439.82 172.2 440.58 172.7 440.24 173.2 440.31 173.7 440.02 174.2 440.77 174.7 440.35 175.2 439.85 175.7 440.71 176.2 440.31 176.7 440.88 177.2 440.6 177.7 440.36 178.2 440.69 178.7 440.5 179.2 440.42 179.7 440.76 180.2 441.09 180.7 440.87 181.2 440.85 181.7 440.73 182.2 441.17 182.7 441.11 183.2 441.39 183.7 441.22 184.2 441.89 184.7 440.62 185.2 441.2 185.7 441.45 186.2 441.63 186.7 440.81 187.2 440.97 187.7 441.43 188.2 441.86 188.7 441.93 189.2 441.05 189.7 441.68 190.2 442.09 190.7 441.73 191.2 441.4 191.7 441.56 192.2 441.39 192.7 442.33 193.2 441.86 193.7 441.84 194.2 441.73 194.7 442.04 195.2 441.81 195.7 441.83 196.2 442.21 196.7 442.19 197.2 442.48 197.7 442.41 198.2 442.83 198.7 442.44 199.2 442.59 199.7 442.62 200.2 442.3 200.7 443.06 201.2 442.48 201.7 442.17 202.2 443.21 202.7 443.05 203.2 442.66 203.7 443.25 204.2 443.3 204.7 443.25 205.2 442.63 205.7 443.15 206.2 442.77 206.7 442.96 207.2 443.03 207.7 442.97 208.2 443.49 208.7 443.08 209.2 443.63 209.7 443.51 210.2 443.28 210.7 443.6 211.2 443.81 211.7 443.98 212.2 443.49 212.7 444.2 213.2 443.79 213.7 444.04 214.2 443.12 214.7 443.23 215.2 444.04 215.7 443.54 216.2 443.78 216.7 444.05 217.2 443.12 217.7 443.79 218.2 444.32 218.7 443.93 219.2 443.68 219.7 443.85 220.2 443.66 220.7 443.93 221.2 444.13 221.7 443.59 222.2 443.88 222.7 443.78 223.2 443.94 223.7 443.98 224.2 443.31 224.7 444.1 225.2 444 225.7 443.32 226.2 443.6 226.7 443.19 227.2 443.61 227.7 443.83 228.2 443.31 228.7 443.45 229.2 443.42 229.7 443.48 230.2 443.46 230.7 443.36 231.2 443.94 231.7 443.67 232.2 443.46 232.7 444.1 233.2 443.55 233.7 444.07 234.2 443.32 234.7 444.26 235.2 443.6 235.7 443.43 236.2 443.89 236.7 443.22 237.2 443.26 237.7 443.68 238.2 443.37 238.7 443.63 239.2 443.49 239.7 443.48 240.2 443.39 240.7 443.54 241.2 443.24 241.7 443.57 242.2 443.47 242.7 442.39 243.2 442.41 243.7 443.53 244.2 442.77 244.7 442.94 245.2 442.78 245.7 442.86 246.2 443.49 246.7 442.41 247.2 442.62 247.7 442.55 248.2 442.11 248.7 442.12 249.2 442.27 249.7 442.29 250.2 442.36 250.7 441.45 251.2 441.49 251.7 442.5 252.2 441.71 252.7 441.91 253.2 441.28 253.7 440.95 254.2 441.67 254.7 440.16 255.2 439.89 255.7 439.97 256.2 439.18 256.7 437.92 257.2 437.76 257.7 437.04 258.2 435.17 258.7 434.28 259.2 433.35 259.7 432.16 260.2 428.92 260.7 427.57 261.2 425.74 261.7 423.19 262.2 420.85 262.7 418.58 263.2 416.47 263.7 413.45 264.2 411.72 264.7 409.4 265.2 407.26 265.7 405.56 266.2 403.16 266.7 401.95 267.2 401.29 267.7 400.73 268.2 400.35 268.7 399.99 269.2 400.49 269.7 401.08 270.2 402.62 270.7 403.99 271.2 405.92 271.7 407.96 272.2 410.54 272.7 412.8 273.2 414.79 273.7 416.7 274.2 419.34 274.7 421.68 275.2 423.88 275.7 425.56 276.2 427.52 276.7 428.58 277.2 430.44 277.7 431.7 278.2 432.38 278.7 433.13 279.2 434.58 279.7 434.41 280.2 435.49 280.7 435.54 281.2 435.8 281.7 436.05 282.2 436.13 282.7 436.36 283.2 437.04 283.7 436.93 284.2 436.35 284.7 436.52 285.2 436.6 285.7 436.05 286.2 436.75 286.7 436.01 287.2 436.1 287.7 435.42 288.2 435.24 288.7 435.15 289.2 435.13 289.7 435.58 290.2 435 290.7 435.38 291.2 434.87 291.7 434.63 292.2 434.97 292.7 434.71 293.2 434.19 293.7 434.71 294.2 435.03 294.7 434.45 295.2 434 295.7 434.05 296.2 433.77 296.7 433.99 297.2 433.6 297.7 433.74 298.2 433.67 298.7 433.89 299.2 432.82 299.7 432.29 300.2 433.33 300.7 432.64 301.2 432.05 301.7 432.01 302.2 431.11 302.7 430.87 303.2 430.7 303.7 429.75 304.2 429.2 304.7 428.48 305.2 427.39 305.7 426.12 306.2 425.03 306.7 423.71 307.2 421.81 307.7 418.85 308.2 416.85 308.7 412.91 309.2 409.61 309.7 406.26 310.2 401.75 310.7 396.89 311.2 390.02 311.7 384.56 312.2 376.88 312.7 369.15 313.2 361.07 313.7 352.42 314.2 342.09 314.7 331.89 315.2 322.05 315.7 311.82 316.2 301.91 316.7 291.48 317.2 281.58 317.7 272.59 318.2 264.72 318.7 258.67 319.2 252.8 319.7 250.01 320.2 248.8 320.7 250.4 321.2 252.95 321.7 257.44 322.2 264.34 322.7 272.54 323.2 281.07 323.7 289.92 324.2 300.48 324.7 311.4 325.2 320.87 325.7 331.45 326.2 341.82 326.7 351.83 327.2 360.54 327.7 369.48 328.2 377.34 328.7 384.83 329.2 390.95 329.7 396.59 330.2 401.97 330.7 407.53 331.2 411.99 331.7 415.47 332.2 417.92 332.7 420.62 333.2 423.49 333.7 425.3 334.2 426.72 334.7 428.65 335.2 429.86 335.7 431.19 336.2 432.32 336.7 433.07 337.2 433.79 337.7 434.54 338.2 434.88 338.7 435.26 339.2 435.74 339.7 436.69 340.2 436.55 340.7 437.27 341.2 437.89 341.7 438.21 342.2 437.12 342.7 438.18 343.2 438.71 343.7 438.42 344.2 438.53 344.7 438.45 345.2 438.86 345.7 439.2 346.2 438.62 346.7 439.32 347.2 439.04 347.7 439.32 348.2 438.88 348.7 439.22 349.2 439.18 349.7 438.82 350.2 438.82 350.7 439.45 351.2 439.49 351.7 439.23 352.2 439.95 352.7 439.72 353.2 440.27 353.7 439.75 354.2 440.87 354.7 441.57 355.2 441.4 355.7 441.98 356.2 441.73 356.7 442.22 357.2 442.21 357.7 442.04 358.2 443.23 358.7 442.31 359.2 442.23 359.7 442.84 360.2 443.05 360.7 443.09 361.2 443.02 361.7 443.3 362.2 443.54 362.7 443.49 363.2 442.86 363.7 444.01 364.2 443.46 364.7 442.81 365.2 443.88 365.7 443.59 366.2 443.8 366.7 444.45 367.2 443.62 367.7 443.64 368.2 443.57 368.7 444.03 369.2 444.25 369.7 444.2 370.2 444.18 370.7 443.42 371.2 444.31 371.7 444.64 372.2 444.13 372.7 444.17 373.2 444.05 373.7 444.53 374.2 443.94 374.7 445.2 375.2 444.51 375.7 444.41 376.2 444.24 376.7 444.89 377.2 445.08 377.7 444.59 378.2 444.88 378.7 444.95 379.2 445.2 379.7 445.1 380.2 445.34 380.7 444.44 381.2 445.87 381.7 444.8 382.2 444.6 382.7 444.69 383.2 445.17 383.7 445.33 384.2 445.93 384.7 445.53 385.2 444.85 385.7 445.01 386.2 444.99 386.7 444.96 387.2 445.13 387.7 444.99 388.2 445.64 388.7 445.36 389.2 445.48 389.7 445.22 390.2 444.89 390.7 445.47 391.2 445.19 391.7 446.04 392.2 445.79 392.7 444.96 393.2 445.05 393.7 445.22 394.2 445.35 394.7 445.84 395.2 445.4 395.7 445.63 396.2 445.38 396.7 445.43 397.2 445.95 397.7 445.54 398.2 446.24 398.7 445.55 399.2 445.72 399.7 445.73 400.2 445.84 400.7 446.3 401.2 445.4 401.7 445.47 402.2 445.34 402.7 446.31 403.2 445.86 403.7 445.86 404.2 445.88 404.7 445.09 405.2 446.02 405.7 445.8 406.2 445.88 406.7 445.82 407.2 445.77 407.7 445.79 408.2 445.63 408.7 445.76 409.2 446.07 409.7 445.12 410.2 446.16 410.7 446.11 411.2 445.53 411.7 446.09 412.2 446.03 412.7 445.76 413.2 446.54 413.7 446.02 414.2 445.93 414.7 445.53 415.2 446.76 415.7 446.08 416.2 446.13 416.7 445.95 417.2 446.77 417.7 446 418.2 446.62 418.7 446.45 419.2 446.43 419.7 446.32 420.2 446.52 420.7 446.08 421.2 445.41 421.7 445.21 422.2 446.56 422.7 445.46 423.2 446.66 423.7 447.29 424.2 445.56 424.7 446.45 425.2 446.42 425.7 446.02 426.2 445.59 426.7 446.26 427.2 446.9 427.7 446.28 428.2 446.33 428.7 446.38 429.2 446.37 429.7 446.47 430.2 447.18 430.7 446.09 431.2 445.77 431.7 446.72 432.2 446.25 432.7 446.27 433.2 445.97 433.7 446.41 434.2 446.33 434.7 446.65 435.2 446.37 435.7 446.01 436.2 446.7 436.7 446.51 437.2 445.89 437.7 446.45 438.2 446.84 438.7 446.57 439.2 446.48 439.7 446.82 440.2 446.39 440.7 446.39 441.2 446.82 441.7 446.59 442.2 446.44 442.7 446.75 443.2 446.77 443.7 447.01 444.2 447.05 444.7 446.73 445.2 446.7 445.7 446.39 446.2 446.8 446.7 446.61 447.2 447.03 447.7 447.03 448.2 446.98 448.7 446.74 449.2 446.88 449.7 447.3 450.2 447.37 450.7 446.57 451.2 445.8 451.7 447 452.2 446.25 452.7 446.81 453.2 446.95 453.7 447.31 454.2 446.73 454.7 446.75 455.2 446.59 455.7 446.89 456.2 446.35 456.7 446.97 457.2 446.88 457.7 447.22 458.2 446.64 458.7 446.84 459.2 446.78 459.7 446.69 460.2 446.34 460.7 446.45 461.2 446.63 461.7 446.75 462.2 446.89 462.7 446.26 463.2 446.49 463.7 446.54 464.2 446.53 464.7 446.2 465.2 446.06 465.7 445.71 466.2 445.65 466.7 445.36 467.2 444.58 467.7 444.66 468.2 443.75 468.7 444.4 469.2 444.13 469.7 443.24 470.2 442.93 470.7 442.38 471.2 441.64 471.7 441.61 472.2 440.35 472.7 439.81 473.2 438.93 473.7 438.88 474.2 436.84 474.7 436.7 475.2 435.4 475.7 434.88 476.2 434.11 476.7 434.09 477.2 432.92 477.7 432.54 478.2 432.48 478.7 432.12 479.2 432.1 479.7 433.15 480.2 432.66 480.7 433.03 481.2 434.32 481.7 434.5 482.2 435.56 482.7 435.36 483.2 436.62 483.7 437.69 484.2 438.41 484.7 439.33 485.2 440.35 485.7 440.87 486.2 441.77 486.7 442.32 487.2 442.43 487.7 443.35 488.2 444.27 488.7 443.98 489.2 444.94 489.7 445.37 490.2 445.98 490.7 445.25 491.2 446.94 491.7 445.82 492.2 446.57 492.7 447.65 493.2 446.46 493.7 447.86 494.2 447.3 494.7 447.99 495.2 447.92 495.7 447.56 496.2 447.31 496.7 447.54 497.2 447.27 497.7 447.29 498.2 447.96 498.7 447.37 499.2 448.05 499.7 447.94 500.2 447.96 500.7 447.68 501.2 447.64 501.7 448.39 502.2 447.81 502.7 447.97 503.2 448.14 503.7 448.47 504.2 448.95 504.7 448.97 505.2 448.59 505.7 448.57 506.2 448.59 506.7 448.31 507.2 448.34 507.7 447.83 508.2 448.64 508.7 448.3 509.2 448.62 509.7 449.29 510.2 448.83 510.7 448.94 511.2 448.86 511.7 448.37 512.2 448.35 512.7 448.08 513.2 448.4 513.7 448.66 514.2 448.85 514.7 448.82 515.2 448.5 515.7 448.23 516.2 448.64 516.7 448.72 517.2 447.92 517.7 448.63 518.2 448.09 518.7 448.41 519.2 448.5 519.7 448.19 520.2 448.33 520.7 448.48 521.2 448.09 521.7 448.65 522.2 448.6 522.7 448.52 523.2 447.92 523.7 448.17 524.2 448.07 524.7 448.18 525.2 448.35 525.7 447.85 526.2 447.99 526.7 448.22 527.2 447.78 527.7 448.1 528.2 447.81 528.7 447.3 529.2 447.76 529.7 447.82 530.2 447.63 530.7 448.46 531.2 447.68 531.7 447.34 532.2 447.84 532.7 447.88 533.2 448.2 533.7 448.97 534.2 448.21 534.7 448.52 535.2 448.07 535.7 448.07 536.2 448.23 536.7 448.48 537.2 448.47 537.7 448.7 538.2 448.55 538.7 448.43 539.2 448.64 539.7 449.25 540.2 448.64 540.7 449.37 541.2 449.72 541.7 448.88 542.2 449.56 542.7 449.59 543.2 448.41 543.7 449.67 544.2 449.64 544.7 449.17 545.2 450.09 545.7 448.87 546.2 449.97 546.7 449.62 547.2 449.19 547.7 449.6 548.2 449.04 548.7 449.8 549.2 449.79 549.7 450.04 550.2 450.11 550.7 449.39 551.2 449.82 551.7 449.44 552.2 448.65 552.7 450 553.2 450.09 553.7 449.76 554.2 450.3 554.7 449.68 555.2 449.1 555.7 449.55 556.2 449.62 556.7 449.82 557.2 449.59 557.7 448.96 558.2 449.31 558.7 449.7 559.2 450.15 559.7 449.53 560.2 449.31 560.7 449.61 561.2 450.1 561.7 450.22 562.2 449.45 562.7 450.04 563.2 450.27 563.7 450.09 564.2 449.43 564.7 450.03 565.2 449.65 565.7 449.65 566.2 450.51 566.7 449.83 567.2 450.02 567.7 450.28 568.2 450.43 568.7 449.96 569.2 449.65 569.7 449.85 570.2 449.64 570.7 449.84 571.2 449.85 571.7 449.37 572.2 449.62 572.7 449.4 573.2 449.89 573.7 450.19 574.2 450.17 574.7 449.99 575.2 449.59 575.7 449.91 576.2 449.46 576.7 450.14 577.2 449.4 577.7 449.72 578.2 450.56 578.7 450.1 579.2 449.62 579.7 449.89 580.2 449.61 580.7 449.7 581.2 449.83 581.7 449.69 582.2 450.06 582.7 450.37 583.2 449.7 583.7 449.68 584.2 449.72 584.7 449.8 585.2 450.06 585.7 449.79 586.2 449.72 586.7 449.79 587.2 450.38 587.7 450.38 588.2 450.41 588.7 450.11 589.2 449.72 589.7 450.54 590.2 450.84 590.7 449.84 591.2 449.85 591.7 450.45 592.2 450.32 592.7 450.22 593.2 450.82 593.7 450.03 594.2 449.81 594.7 449.97 595.2 450.18 595.7 450.17 596.2 450.55 596.7 450.38 597.2 449.87 597.7 450.38 598.2 450.06 598.7 450.66 599.2 450.54 599.7 449.93 600.2 450.34 600.7 449.69 601.2 450.31 601.7 450.18 602.2 450.31 602.7 449.73 603.2 449.86 603.7 449.97 604.2 450.08 604.7 450.4 605.2 449.88 605.7 449.46 606.2 449.98 606.7 450.45 607.2 450.48 607.7 449.74 608.2 450.41 608.7 450.22 609.2 450.44 609.7 450.25 610.2 450.63 610.7 449.94 611.2 450.96 611.7 450.59 612.2 449.79 612.7 449.66 613.2 450.57 613.7 449.66 614.2 449.94 614.7 450.38 615.2 450.17 615.7 450.27 616.2 449.47 616.7 449.96 617.2 450.41 617.7 450.96 618.2 450.38 618.7 450.25 619.2 450.28 619.7 450.6 620.2 450.46 620.7 449.93 621.2 449.55 621.7 450.16 622.2 450.11 622.7 450.89 623.2 449.95 623.7 450.52 624.2 449.56 624.7 450.53 625.2 449.81 625.7 450.28 626.2 450.2 626.7 450.31 627.2 450.27 627.7 449.87 628.2 450.49 628.7 449.96 629.2 450.26 629.7 449.98 630.2 450.27 630.7 450.25 631.2 450.22 631.7 450.01 632.2 450.72 632.7 450.23 633.2 450.32 633.7 449.53 634.2 450.51 634.7 449.75 635.2 450.23 635.7 449.59 636.2 450.98 636.7 449.69 637.2 450.22 637.7 449.88 638.2 449.87 638.7 449.7 639.2 450.84 639.7 451.08 640.2 450.28 640.7 450.62 641.2 450.16 641.7 449.95 642.2 450.97 642.7 450.56 643.2 449.94 643.7 450.3 644.2 450.34 644.7 450.25 645.2 450.32 645.7 450.12 646.2 450.33 646.7 450.21 647.2 450.24 647.7 450.09 648.2 450.91 648.7 450.21 649.2 450.29 649.7 450.46 650.2 450.38 650.7 449.92 651.2 450.68 651.7 449.95 652.2 450.15 652.7 450.53 653.2 450.31 653.7 450.14 654.2 450.39 654.7 450.09 655.2 450.18 655.7 449.98 656.2 449.96 656.7 450.05 657.2 450.41 657.7 450.22 658.2 450.35 658.7 450.72 659.2 450.25 659.7 449.76 660.2 450.44 660.7 451.04 661.2 449.39 661.7 450.33 662.2 450.03 662.7 449.9 663.2 450.71 663.7 450.41 664.2 450.42 664.7 449.97 665.2 450.26 665.7 450.04 666.2 450.97 666.7 450.42 667.2 449.74 667.7 450.33 668.2 450.97 668.7 450.18 669.2 450.35 669.7 450.43 670.2 450.62 670.7 450.63 671.2 450.24 671.7 450.33 672.2 450.71 672.7 450.11 673.2 450.35 673.7 450.59 674.2 450.39 674.7 450.13 675.2 451.06 675.7 450.54 676.2 450.38 676.7 449.47 677.2 450.88 677.7 450.82 678.2 450.48 678.7 450.51 679.2 450.21 679.7 451.21 680.2 450.82 680.7 451.3 681.2 451.3 681.7 449.88 682.2 450.74 682.7 449.79 683.2 450.65 683.7 450.54 684.2 450.33 684.7 450.76 685.2 450.58 685.7 450.42 686.2 450.45 686.7 450.86 687.2 450.71 687.7 450.84 688.2 450.66 688.7 450.39 689.2 450.38 689.7 450.64 690.2 450.31 690.7 450.34 691.2 450.84 691.7 450.64 692.2 450.49 692.7 450.64 693.2 450.44 693.7 451.03 694.2 450.51 694.7 450.59 695.2 450.17 695.7 450.34 696.2 450.13 696.7 450.74 697.2 450.79 697.7 450.81 698.2 450.48 698.7 450.62 699.2 450.73 699.7 450.48 700.2 450.02 700.7 451.3 701.2 450.78 701.7 450.93 702.2 450.9 702.7 450.36 703.2 450.61 703.7 450.45 704.2 451 704.7 450.69 705.2 450.38 705.7 450.75 706.2 451.6 706.7 450.63 707.2 450.81 707.7 451.38 708.2 450.32 708.7 450.75 709.2 451.08 709.7 450.88 710.2 450.44 710.7 450.65 711.2 450.7 711.7 451 712.2 451.02 712.7 449.98 713.2 450.69 713.7 450.42 714.2 450.78 714.7 450.53 715.2 450.81 715.7 450.16 716.2 450.76 716.7 450.88 717.2 451.12 717.7 451.24 718.2 450.69 718.7 450.49 719.2 451.16 719.7 450.84 720.2 450.82 720.7 450.91 721.2 450.2 721.7 450.4 722.2 450.4 722.7 450.33 723.2 451.26 723.7 450.08 724.2 450.67 724.7 450.7 725.2 450.42 725.7 450.86 726.2 450.44 726.7 450.24 727.2 450.29 727.7 451.21 728.2 450.6 728.7 450.81 729.2 450.95 729.7 450.9 730.2 450.49 730.7 451.04 731.2 451.13 731.7 450.26 732.2 451.05 732.7 450.95 733.2 451.15 733.7 450.98 734.2 450.71 734.7 450.51 735.2 451 735.7 450.91 736.2 450.93 736.7 450.61 737.2 451.19 737.7 451.11 738.2 451.17 738.7 450.59 739.2 451.01 739.7 451.14 740.2 450.34 740.7 450.55 741.2 450.9 741.7 450.3 742.2 450.78 742.7 450.85 743.2 450.3 743.7 451.02 744.2 450.82 744.7 451.26 745.2 450.81 745.7 450.65 746.2 450.81 746.7 450.98 747.2 450.19 747.7 450.73 748.2 451.1 748.7 451.11 749.2 450.97 749.7 450.46 750.2 450.82 750.7 451.01 751.2 450.86 751.7 450.91 752.2 451.51 752.7 451.54 753.2 450.71 753.7 450.53 754.2 450.88 754.7 451.33 755.2 450.51 755.7 450.54 756.2 450.44 756.7 451.27 757.2 450.71 757.7 450.86 758.2 451.45 758.7 451.11 759.2 450.78 759.7 450.45 760.2 451.29 760.7 450.93 761.2 450.79 761.7 450.99 762.2 450.66 762.7 450.98 763.2 450.98 763.7 450.53 764.2 451 764.7 451.13 765.2 451.42 765.7 451.23 766.2 451.66 766.7 451.24 767.2 450.92 767.7 451.06 768.2 450.95 768.7 450.61 769.2 450.86 769.7 451 770.2 450.58 770.7 450.93 771.2 451.15 771.7 451.54 772.2 450.92 772.7 450.84 773.2 450.73 773.7 450.4 774.2 451.16 774.7 450.79 775.2 450.73 775.7 450.58 776.2 451.48 776.7 451.44 777.2 451.14 777.7 450.86 778.2 450.57 778.7 450.22 779.2 450.72 779.7 450.72 780.2 451.5 780.7 450.89 781.2 450.42 781.7 451.48 782.2 451.21 782.7 450.86 783.2 451.13 783.7 451.23 784.2 450.85 784.7 450.71 785.2 451.07 785.7 451.23 786.2 451.2 786.7 450.63 787.2 450.69 787.7 451.01 788.2 450.82 788.7 450.92 789.2 451.67 789.7 450.46 790.2 450.94 790.7 450.67 791.2 451.12 791.7 451.69 792.2 451.17 792.7 451.5 793.2 450.73 793.7 451.15 794.2 451.53 794.7 450.93 795.2 450.79 795.7 450.53 796.2 451.57 796.7 451.02 797.2 451.54 797.7 451.13 798.2 451.08 798.7 451.35 799.2 451.15 799.7 451.48 800.2 450.87 800.7 450.88 801.2 451.1 801.7 450.91 802.2 451.02 802.7 451.37 803.2 451.21 803.7 451.06 804.2 451.7 804.7 450.63 805.2 450.9 805.7 451.03 806.2 451.44 806.7 451.32 807.2 451.29 807.7 451.63 808.2 451.09 808.7 450.85 809.2 451.53 809.7 451.66 810.2 450.78 810.7 450.92 811.2 451.09 811.7 451.25 812.2 451.17 812.7 451.39 813.2 450.58 813.7 450.96 814.2 450.6 814.7 451.43 815.2 451.49 815.7 451.23 816.2 451.15 816.7 451.12 817.2 451.12 817.7 450.87 818.2 451.32 818.7 451.38 819.2 450.92 819.7 451.31 820.2 451.67 820.7 451.72 821.2 451.97 821.7 452.12 822.2 450.67 822.7 451.01 823.2 451.03 823.7 451.35 824.2 451.71 824.7 450.67 825.2 451.39 825.7 451.3 826.2 451.63 826.7 451.37 827.2 450.97 827.7 451.29 828.2 451.03 828.7 451.15 829.2 451.11 829.7 451.21 830.2 451.34 830.7 451.35 831.2 451.62 831.7 451.46 832.2 450.62 832.7 451.44 833.2 451.08 833.7 451.56 834.2 451.08 834.7 450.95 835.2 450.74 835.7 451.19 836.2 451.52 836.7 450.94 837.2 451.36 837.7 451.15 838.2 450.55 838.7 451.19 839.2 451.15 839.7 451.43 840.2 450.68 840.7 451.48 841.2 451.23 841.7 451.58 842.2 451.12 842.7 451.04 843.2 451.19 843.7 451.26 844.2 451.64 844.7 451.02 845.2 451.17 845.7 450.93 846.2 451.16 846.7 451.38 847.2 451.78 847.7 451.25 848.2 451.37 848.7 451.31 849.2 451.66 849.7 451.2 850.2 451.21 850.7 451.41 851.2 451.21 851.7 451.38 852.2 451.28 852.7 451.2 853.2 451.61 853.7 451.24 854.2 451.18 854.7 451.49 855.2 451.95 855.7 451.42 856.2 451.26 856.7 451.59 857.2 451.51 857.7 450.99 858.2 451.74 858.7 451.8 859.2 451.16 859.7 451.22 860.2 451.56 860.7 451.46 861.2 451.4 861.7 451.8 862.2 450.82 862.7 451.18 863.2 451.54 863.7 451.52 864.2 451.17 864.7 450.76 865.2 451.77 865.7 451.69 866.2 451.42 866.7 451.49 867.2 451.73 867.7 452.18 868.2 451.03 868.7 451.39 869.2 450.7 869.7 450.97 870.2 451.79 870.7 451.29 871.2 450.64 871.7 450.94 872.2 451.91 872.7 451.57 873.2 451.83 873.7 451.95 874.2 451.22 874.7 451.42 875.2 451.19 875.7 451.1 876.2 451.74 876.7 451.5 877.2 451.17 877.7 450.86 878.2 451.28 878.7 451.32 879.2 451.18 879.7 451.7 880.2 451.62 880.7 451.59 881.2 451.86 881.7 451.33 882.2 451.42 882.7 452.16 883.2 451.14 883.7 451.54 884.2 451.71 884.7 451.54 885.2 451.43 885.7 451.63 886.2 451.74 886.7 451.53 887.2 451.36 887.7 450.88 888.2 451.36 888.7 451.2 889.2 451.2 889.7 451.15 890.2 451.03 890.7 451.2 891.2 451.51 891.7 451.05 892.2 451.02 892.7 451.9 893.2 451.78 893.7 451.31 894.2 451.59 894.7 451.43 895.2 451.61 895.7 451.7 896.2 451.1 896.7 450.86 897.2 451.78 897.7 451.67 898.2 451.2 898.7 451.97 899.2 451.61 899.7 451.57 900.2 452 900.7 452.03 901.2 451.89 901.7 451.66 902.2 451.35 902.7 451.6 903.2 451.39 903.7 451.82 904.2 451.89 904.7 451.57 905.2 451.89 905.7 451.14 906.2 451.98 906.7 451.66 907.2 450.83 907.7 451.57 908.2 451.83 908.7 451.73 909.2 451.25 909.7 451.87 910.2 451.84 910.7 451.6 911.2 452.06 911.7 451.4 912.2 451.69 912.7 451.58 913.2 450.84 913.7 451.72 914.2 451.78 914.7 451.38" stroke="#000" stroke-width="1.75" fill="none" stroke-linejoin="round"/>
<path d="M87.7 646.48 88.2 646.73 88.7 646.39 89.2 646.25 89.7 646.57 90.2 646.64 90.7 646.61 91.2 646.64 91.7 646.55 92.2 646.49 92.7 646.48 93.2 646.57 93.7 646.55 94.2 646.75 94.7 646.72 95.2 646.44 95.7 646.74 96.2 646.64 96.7 646.82 97.2 646.88 97.7 646.75 98.2 646.4 98.7 646.77 99.2 646.44 99.7 646.92 100.2 646.59 100.7 646.66 101.2 646.97 101.7 646.43 102.2 646.71 102.7 646.54 103.2 646.63 103.7 646.59 104.2 646.81 104.7 646.67 105.2 646.76 105.7 646.81 106.2 646.45 106.7 646.92 107.2 646.67 107.7 646.45 108.2 646.6 108.7 646.83 109.2 646.84 109.7 646.58 110.2 646.68 110.7 646.68 111.2 646.78 111.7 646.58 112.2 646.72 112.7 646.41 113.2 646.4 113.7 646.58 114.2 646.56 114.7 646.41 115.2 646.47 115.7 646.37 116.2 646.42 116.7 646.43 117.2 646.29 117.7 646.28 118.2 646.04 118.7 645.96 119.2 645.62 119.7 645.98 120.2 645.84 120.7 645.84 121.2 645.38 121.7 645.5 122.2 645.38 122.7 645.07 123.2 645.35 123.7 645.24 124.2 644.68 124.7 644.74 125.2 644.7 125.7 643.99 126.2 644.01 126.7 643.73 127.2 643.33 127.7 642.31 128.2 641.75 128.7 641.23 129.2 640.55 129.7 639.22 130.2 638.21 130.7 636.93 131.2 635.89 131.7 634.11 132.2 632.61 132.7 630.79 133.2 628.9 133.7 626.68 134.2 624.41 134.7 622.13 135.2 619.42 135.7 616.25 136.2 612.92 136.7 608.74 137.2 602.53 137.7 593.66 138.2 581.07 138.7 563.99 139.2 540.93 139.7 515.48 140.2 493.26 140.7 484.65 141.2 496.07 141.7 520.85 142.2 548.77 142.7 573.29 143.2 593.19 143.7 607.38 144.2 617.23 144.7 623.68 145.2 628.83 145.7 632.04 146.2 634.72 146.7 636.64 147.2 638.15 147.7 639.7 148.2 640.61 148.7 641.65 149.2 642.04 149.7 642.77 150.2 643.54 150.7 643.83 151.2 644.06 151.7 644.37 152.2 644.72 152.7 645.06 153.2 645.42 153.7 645.55 154.2 645.84 154.7 646.02 155.2 646.07 155.7 646.4 156.2 646.45 156.7 646.43 157.2 646.54 157.7 646.67 158.2 646.66 158.7 646.66 159.2 646.96 159.7 646.95 160.2 647.2 160.7 647.09 161.2 647.26 161.7 647.34 162.2 647.3 162.7 647.46 163.2 647.38 163.7 647.47 164.2 647.71 164.7 647.7 165.2 647.68 165.7 647.61 166.2 647.88 166.7 648.12 167.2 647.51 167.7 648.05 168.2 647.96 168.7 648.13 169.2 648.17 169.7 647.87 170.2 648.32 170.7 647.98 171.2 648.05 171.7 648.2 172.2 648.11 172.7 648.18 173.2 648.07 173.7 648 174.2 648.18 174.7 648.02 175.2 648.4 175.7 648.25 176.2 648.43 176.7 648.03 177.2 647.91 177.7 647.89 178.2 648.19 178.7 648.05 179.2 648.31 179.7 648.03 180.2 648.05 180.7 648.3 181.2 648.2 181.7 648.36 182.2 648.38 182.7 648.3 183.2 648.05 183.7 648.1 184.2 648.57 184.7 648.17 185.2 648.23 185.7 648.18 186.2 648.13 186.7 648.08 187.2 647.98 187.7 647.94 188.2 647.66 188.7 648.16 189.2 647.81 189.7 647.53 190.2 647.69 190.7 647.57 191.2 647.07 191.7 646.97 192.2 646.95 192.7 646.32 193.2 645.57 193.7 644.51 194.2 642.58 194.7 639.97 195.2 636.73 195.7 632.08 196.2 627.44 196.7 623.86 197.2 622.76 197.7 624.82 198.2 629.59 198.7 633.95 199.2 638.31 199.7 641.26 200.2 643.28 200.7 645.15 201.2 645.85 201.7 646.36 202.2 646.89 202.7 646.84 203.2 647.42 203.7 647.37 204.2 647.51 204.7 647.42 205.2 647.6 205.7 647.43 206.2 647.37 206.7 647.28 207.2 646.92 207.7 646.86 208.2 647.01 208.7 647.07 209.2 647.38 209.7 647.85 210.2 647.83 210.7 647.84 211.2 648.22 211.7 648.41 212.2 648.66 212.7 648.37 213.2 648.37 213.7 648.55 214.2 648.53 214.7 648.61 215.2 648.51 215.7 648.63 216.2 648.52 216.7 648.76 217.2 648.66 217.7 648.71 218.2 648.55 218.7 648.4 219.2 648.62 219.7 648.61 220.2 648.78 220.7 648.76 221.2 648.59 221.7 648.58 222.2 648.43 222.7 648.56 223.2 648.58 223.7 648.47 224.2 648.34 224.7 648.68 225.2 648.32 225.7 648.68 226.2 648.57 226.7 648.59 227.2 648.17 227.7 648.35 228.2 647.98 228.7 648.06 229.2 647.8 229.7 647.83 230.2 647.76 230.7 647.86 231.2 647.73 231.7 647.33 232.2 647.13 232.7 646.78 233.2 646.44 233.7 645.96 234.2 645.7 234.7 645.15 235.2 643.99 235.7 642.75 236.2 640.36 236.7 637.12 237.2 632.44 237.7 626.12 238.2 617.58 238.7 608.3 239.2 599.17 239.7 593.57 240.2 594.1 240.7 600.79 241.2 609.99 241.7 619.63 242.2 627.56 242.7 633.42 243.2 638.23 243.7 641.2 244.2 642.67 244.7 644.27 245.2 645.36 245.7 645.72 246.2 646.33 246.7 646.9 247.2 647.16 247.7 647.44 248.2 647.67 248.7 647.62 249.2 648.25 249.7 648.08 250.2 648.41 250.7 648.09 251.2 648.22 251.7 648.14 252.2 647.97 252.7 647.9 253.2 647.7 253.7 647.6 254.2 647.4 254.7 647.36 255.2 647.56 255.7 647.95 256.2 648.02 256.7 648.37 257.2 648.52 257.7 648.38 258.2 648.67 258.7 648.76 259.2 648.75 259.7 648.92 260.2 648.78 260.7 649.12 261.2 649.03 261.7 649.31 262.2 649.21 262.7 648.97 263.2 649.15 263.7 649.2 264.2 649.1 264.7 649.16 265.2 649.06 265.7 649.11 266.2 649.27 266.7 649.18 267.2 649.41 267.7 648.9 268.2 649.1 268.7 649.15 269.2 649.41 269.7 649.33 270.2 649.25 270.7 649.24 271.2 649.27 271.7 649.04 272.2 648.76 272.7 648.59 273.2 648.1 273.7 647.65 274.2 647.01 274.7 645.93 275.2 644.92 275.7 643.71 276.2 642.68 276.7 642.31 277.2 642.98 277.7 643.78 278.2 645.03 278.7 645.99 279.2 646.93 279.7 647.68 280.2 648.07 280.7 648.61 281.2 648.66 281.7 648.55 282.2 648.22 282.7 648.13 283.2 648.07 283.7 648.11 284.2 647.95 284.7 648.11 285.2 648.44 285.7 648.65 286.2 648.86 286.7 648.92 287.2 649.43 287.7 649.35 288.2 649.36 288.7 649.48 289.2 649.33 289.7 649.31 290.2 649.32 290.7 649.66 291.2 649.42 291.7 649.65 292.2 649.46 292.7 649.38 293.2 649.57 293.7 649.55 294.2 649.57 294.7 649.93 295.2 649.71 295.7 649.59 296.2 649.81 296.7 649.63 297.2 649.86 297.7 649.44 298.2 649.83 298.7 649.49 299.2 649.54 299.7 649.66 300.2 649.45 300.7 649.34 301.2 649.49 301.7 649.47 302.2 649.21 302.7 649.53 303.2 649.16 303.7 649.05 304.2 648.87 304.7 648.56 305.2 648.17 305.7 646.9 306.2 646.17 306.7 644.99 307.2 643.42 307.7 641.99 308.2 640.91 308.7 641.04 309.2 641.7 309.7 643.12 310.2 644.42 310.7 645.89 311.2 647.02 311.7 647.66 312.2 648.63 312.7 648.84 313.2 648.92 313.7 649.24 314.2 649.4 314.7 649.4 315.2 649.34 315.7 649.49 316.2 649.32 316.7 649.26 317.2 649.64 317.7 649.64 318.2 649.53 318.7 649.41 319.2 649.05 319.7 648.47 320.2 648.32 320.7 648.47 321.2 648.28 321.7 648.47 322.2 648.76 322.7 649.06 323.2 649 323.7 649.37 324.2 649.55 324.7 649.23 325.2 649.75 325.7 649.71 326.2 649.47 326.7 649.85 327.2 649.61 327.7 649.58 328.2 649.7 328.7 649.02 329.2 649.34 329.7 649.41 330.2 649.36 330.7 649.01 331.2 648.82 331.7 648.52 332.2 648.28 332.7 647.78 333.2 646.93 333.7 646.24 334.2 644.72 334.7 642.67 335.2 639.77 335.7 636.06 336.2 631.92 336.7 627.9 337.2 625.41 337.7 625.67 338.2 628.63 338.7 632.74 339.2 636.95 339.7 640.75 340.2 643.34 340.7 645.23 341.2 646.33 341.7 647.31 342.2 647.67 342.7 648.65 343.2 648.98 343.7 648.97 344.2 649.13 344.7 649.41 345.2 649.54 345.7 649.29 346.2 649.6 346.7 649.66 347.2 649.58 347.7 650.04 348.2 649.98 348.7 649.82 349.2 649.94 349.7 649.9 350.2 649.93 350.7 649.98 351.2 650.21 351.7 650.08 352.2 650.03 352.7 650.02 353.2 650.17 353.7 650.02 354.2 649.92 354.7 650.15 355.2 650.42 355.7 650.09 356.2 650.22 356.7 650.17 357.2 650.39 357.7 650.27 358.2 650 358.7 650.44 359.2 650.16 359.7 649.99 360.2 649.98 360.7 649.96 361.2 649.96 361.7 649.54 362.2 649.2 362.7 649.19 363.2 648.92 363.7 648.41 364.2 648.42 364.7 648.61 365.2 648.79 365.7 649.03 366.2 649.64 366.7 649.59 367.2 649.68 367.7 650.19 368.2 650.38 368.7 650.4 369.2 650.2 369.7 650.31 370.2 650.21 370.7 650.32 371.2 650.04 371.7 650.3 372.2 650.65 372.7 650.27 373.2 650.72 373.7 650.5 374.2 650.18 374.7 650.63 375.2 650.35 375.7 650.59 376.2 650.48 376.7 650.46 377.2 650.5 377.7 650.33 378.2 650.42 378.7 650.48 379.2 650.82 379.7 650.47 380.2 650.61 380.7 650.63 381.2 650.76 381.7 650.54 382.2 650.61 382.7 650.45 383.2 650.97 383.7 650.37 384.2 650.64 384.7 650.55 385.2 650.64 385.7 650.54 386.2 650.55 386.7 650.77 387.2 650.77 387.7 650.62 388.2 650.62 388.7 650.67 389.2 650.63 389.7 650.72 390.2 650.77 390.7 650.73 391.2 650.42 391.7 650.66 392.2 650.51 392.7 650.74 393.2 650.63 393.7 650.72 394.2 650.67 394.7 650.83 395.2 650.89 395.7 650.72 396.2 650.47 396.7 650.7 397.2 651 397.7 650.6 398.2 650.69 398.7 651.07 399.2 650.96 399.7 650.8 400.2 650.74 400.7 650.5 401.2 650.94 401.7 650.83 402.2 650.43 402.7 650.66 403.2 650.65 403.7 650.65 404.2 650.55 404.7 651.01 405.2 650.49 405.7 650.82 406.2 650.67 406.7 650.54 407.2 650.56 407.7 650.53 408.2 650.19 408.7 650.07 409.2 650.05 409.7 649.64 410.2 649.06 410.7 648.22 411.2 647.5 411.7 647.38 412.2 647.02 412.7 646.92 413.2 647.32 413.7 647.83 414.2 648.6 414.7 649.29 415.2 649.7 415.7 649.85 416.2 650.23 416.7 650.26 417.2 650.43 417.7 650.34 418.2 650.2 418.7 650.43 419.2 650.64 419.7 650.52 420.2 650.73 420.7 650.58 421.2 650.72 421.7 650.62 422.2 650.91 422.7 650.64 423.2 650.71 423.7 650.88 424.2 650.94 424.7 650.54 425.2 650.94 425.7 650.56 426.2 650.58 426.7 650.6 427.2 650.87 427.7 650.56 428.2 650.81 428.7 650.78 429.2 650.68 429.7 650.77 430.2 651 430.7 650.91 431.2 650.51 431.7 650.63 432.2 650.46 432.7 650.4 433.2 650.21 433.7 650.22 434.2 649.85 434.7 649.65 435.2 649.77 435.7 649.85 436.2 650.1 436.7 650.17 437.2 650.1 437.7 650.23 438.2 650.53 438.7 650.6 439.2 650.73 439.7 650.85 440.2 650.34 440.7 650.59 441.2 650.78 441.7 650.54 442.2 650.95 442.7 650.69 443.2 650.79 443.7 650.67 444.2 650.75 444.7 650.75 445.2 650.77 445.7 650.47 446.2 650.38 446.7 650.65 447.2 650.76 447.7 650.59 448.2 650.59 448.7 650.75 449.2 650.66 449.7 650.38 450.2 650.51 450.7 650.39 451.2 650.35 451.7 650.21 452.2 650.13 452.7 649.76 453.2 649.39 453.7 648.73 454.2 647.87 454.7 646.8 455.2 645.78 455.7 644.73 456.2 644.18 456.7 644.24 457.2 644.38 457.7 645.41 458.2 646.81 458.7 647.65 459.2 648.6 459.7 649.04 460.2 649.78 460.7 649.78 461.2 650.34 461.7 650.2 462.2 650.44 462.7 650.61 463.2 650.39 463.7 650.53 464.2 650.89 464.7 650.39 465.2 650.63 465.7 650.33 466.2 650.69 466.7 650.62 467.2 650.49 467.7 650.48 468.2 650.85 468.7 650.76 469.2 650.47 469.7 650.77 470.2 650.5 470.7 650.51 471.2 650.67 471.7 650.56 472.2 650.61 472.7 650.63 473.2 650.26 473.7 650.27 474.2 649.99 474.7 649.36 475.2 649.31 475.7 648.86 476.2 648.03 476.7 647.83 477.2 647.93 477.7 648.13 478.2 648.36 478.7 648.87 479.2 649.32 479.7 649.57 480.2 650.06 480.7 650.57 481.2 650.18 481.7 650.48 482.2 650.4 482.7 650.8 483.2 650.35 483.7 650.74 484.2 650.68 484.7 650.49 485.2 650.57 485.7 650.62 486.2 650.86 486.7 650.64 487.2 650.76 487.7 650.72 488.2 650.55 488.7 650.51 489.2 650.45 489.7 650.66 490.2 650.53 490.7 650.39 491.2 649.99 491.7 649.82 492.2 649.61 492.7 648.93 493.2 647.97 493.7 646.89 494.2 645.87 494.7 644.45 495.2 643.03 495.7 642.26 496.2 641.7 496.7 642.45 497.2 644.06 497.7 645.65 498.2 646.75 498.7 648.03 499.2 648.89 499.7 649.36 500.2 649.7 500.7 650.03 501.2 650.23 501.7 650.47 502.2 650.4 502.7 650.36 503.2 650.39 503.7 650.52 504.2 650.7 504.7 650.52 505.2 650.62 505.7 650.77 506.2 650.75 506.7 651.03 507.2 650.81 507.7 650.84 508.2 651.08 508.7 650.49 509.2 650.52 509.7 650.67 510.2 650.81 510.7 650.97 511.2 650.91 511.7 650.73 512.2 650.6 512.7 650.87 513.2 650.78 513.7 650.68 514.2 650.64 514.7 650.93 515.2 650.79 515.7 650.86 516.2 650.82 516.7 650.72 517.2 650.77 517.7 650.75 518.2 650.83 518.7 650.74 519.2 650.94 519.7 650.7 520.2 650.88 520.7 650.87 521.2 650.94 521.7 650.4 522.2 650.94 522.7 650.9 523.2 650.78 523.7 650.79 524.2 650.78 524.7 650.62 525.2 651.28 525.7 650.8 526.2 650.9 526.7 650.65 527.2 650.76 527.7 650.46 528.2 650.79 528.7 650.67 529.2 650.79 529.7 650.83 530.2 650.94 530.7 650.69 531.2 650.45 531.7 650.44 532.2 650.47 532.7 650.5 533.2 649.69 533.7 649.73 534.2 649.74 534.7 649.85 535.2 650.09 535.7 650.36 536.2 650.4 536.7 650.66 537.2 650.46 537.7 650.51 538.2 650.44 538.7 650.6 539.2 650.84 539.7 650.74 540.2 651.05 540.7 650.7 541.2 650.59 541.7 650.82 542.2 650.42 542.7 650.84 543.2 650.76 543.7 650.47 544.2 650.73 544.7 650.67 545.2 650.78 545.7 650.5 546.2 650.39 546.7 650.36 547.2 650.17 547.7 649.77 548.2 649.68 548.7 649.14 549.2 648.17 549.7 647.34 550.2 646.37 550.7 645.69 551.2 645.28 551.7 645.55 552.2 646.29 552.7 647.29 553.2 647.81 553.7 648.61 554.2 649.16 554.7 649.77 555.2 650.2 555.7 650.15 556.2 650.41 556.7 650.35 557.2 650.34 557.7 650.51 558.2 650.74 558.7 650.59 559.2 650.39 559.7 650.51 560.2 650.62 560.7 650.97 561.2 650.49 561.7 651.09 562.2 650.8 562.7 650.82 563.2 650.74 563.7 650.17 564.2 650.51 564.7 650.39 565.2 650.23 565.7 650.07 566.2 649.48 566.7 648.88 567.2 648.51 567.7 647.91 568.2 647.54 568.7 647.3 569.2 647.61 569.7 647.64 570.2 648.71 570.7 649.38 571.2 649.69 571.7 650.01 572.2 650.36 572.7 650.39 573.2 650.51 573.7 650.87 574.2 650.92 574.7 650.42 575.2 650.62 575.7 650.77 576.2 650.85 576.7 650.56 577.2 650.66 577.7 650.84 578.2 650.92 578.7 650.59 579.2 650.67 579.7 650.65 580.2 650.83 580.7 650.67 581.2 650.56 581.7 650.64 582.2 650.26 582.7 649.87 583.2 649.73 583.7 649.33 584.2 648.92 584.7 648.72 585.2 648.48 585.7 648.33 586.2 648.95 586.7 649.45 587.2 649.79 587.7 650.22 588.2 650.38 588.7 650.8 589.2 650.7 589.7 650.82 590.2 650.9 590.7 650.97 591.2 650.69 591.7 651 592.2 650.78 592.7 650.48 593.2 651.05 593.7 650.83 594.2 650.96 594.7 650.6 595.2 650.84 595.7 650.61 596.2 651.04 596.7 650.84 597.2 650.49 597.7 649.97 598.2 650.1 598.7 649.8 599.2 649.29 599.7 648.81 600.2 648.14 600.7 647.8 601.2 647.53 601.7 647.45 602.2 648.11 602.7 648.62 603.2 649.08 603.7 649.49 604.2 649.85 604.7 650.63 605.2 650.83 605.7 650.73 606.2 650.62 606.7 650.86 607.2 650.67 607.7 650.65 608.2 650.53 608.7 650.76 609.2 650.76 609.7 651.04 610.2 650.94 610.7 650.79 611.2 650.85 611.7 650.89 612.2 650.9 612.7 650.92 613.2 651.1 613.7 650.7 614.2 650.96 614.7 650.95 615.2 651.06 615.7 650.93 616.2 650.82 616.7 651.07 617.2 651.12 617.7 650.83 618.2 651.11 618.7 651.34 619.2 650.87 619.7 651.05 620.2 650.56 620.7 650.99 621.2 650.81 621.7 651.02 622.2 650.92 622.7 650.99 623.2 651.12 623.7 651.09 624.2 651.08 624.7 650.84 625.2 650.91 625.7 650.93 626.2 650.86 626.7 650.79 627.2 650.9 627.7 650.95 628.2 650.81 628.7 650.62 629.2 650.9 629.7 650.57 630.2 650.84 630.7 650.52 631.2 650.41 631.7 650.46 632.2 650.21 632.7 649.99 633.2 650.22 633.7 649.96 634.2 650.42 634.7 650.48 635.2 650.65 635.7 650.65 636.2 651 636.7 650.8 637.2 650.75 637.7 651.29 638.2 650.86 638.7 650.99 639.2 650.85 639.7 650.83 640.2 650.86 640.7 650.77 641.2 650.84 641.7 650.79 642.2 650.73 642.7 650.64 643.2 650.66 643.7 650.25 644.2 650.52 644.7 649.87 645.2 649.91 645.7 649.56 646.2 649.01 646.7 648.62 647.2 648.49 647.7 648.02 648.2 648.02 648.7 648.5 649.2 648.81 649.7 649.12 650.2 649.71 650.7 650.25 651.2 650.37 651.7 650.66 652.2 650.79 652.7 650.46 653.2 650.58 653.7 650.7 654.2 650.66 654.7 650.97 655.2 650.75 655.7 650.73 656.2 651.12 656.7 650.71 657.2 650.73 657.7 651.12 658.2 650.95 658.7 650.92 659.2 651.03 659.7 650.85 660.2 650.9 660.7 650.9 661.2 651.14 661.7 650.95 662.2 650.75 662.7 650.77 663.2 651.03 663.7 650.75 664.2 650.74 664.7 650.86 665.2 650.72 665.7 651 666.2 651.27 666.7 651.25 667.2 650.99 667.7 651.18 668.2 650.99 668.7 650.96 669.2 651.05 669.7 650.96 670.2 650.87 670.7 650.92 671.2 650.88 671.7 650.96 672.2 651.05 672.7 650.69 673.2 650.76 673.7 650.61 674.2 650.95 674.7 650.7 675.2 650.44 675.7 650.03 676.2 650.03 676.7 649.39 677.2 649.01 677.7 648.93 678.2 649.21 678.7 649.18 679.2 649.42 679.7 649.72 680.2 650.25 680.7 650.23 681.2 650.46 681.7 650.76 682.2 650.86 682.7 650.81 683.2 650.93 683.7 650.94 684.2 650.59 684.7 650.91 685.2 650.82 685.7 650.89 686.2 650.9 686.7 650.95 687.2 651.01 687.7 650.71 688.2 650.72 688.7 650.68 689.2 650.65 689.7 650.29 690.2 650.39 690.7 650.33 691.2 649.99 691.7 649.74 692.2 650.15 692.7 650.37 693.2 650.39 693.7 650.72 694.2 650.8 694.7 650.73 695.2 650.79 695.7 651.24 696.2 651.03 696.7 650.89 697.2 651.16 697.7 650.86 698.2 650.92 698.7 651.2 699.2 651.15 699.7 650.93 700.2 651.15 700.7 651.13 701.2 650.69 701.7 650.99 702.2 651.16 702.7 651.06 703.2 650.87 703.7 651.15 704.2 650.94 704.7 651.15 705.2 651.08 705.7 651.2 706.2 650.92 706.7 651.32 707.2 651 707.7 651 708.2 650.96 708.7 651.02 709.2 651.06 709.7 650.99 710.2 651.14 710.7 651.13 711.2 651.02 711.7 651.03 712.2 651.08 712.7 651.18 713.2 651.24 713.7 650.91 714.2 651.15 714.7 651.15 715.2 650.85 715.7 651.11 716.2 651.3 716.7 650.98 717.2 650.87 717.7 650.72 718.2 651.06 718.7 651.02 719.2 651.03 719.7 651.18 720.2 650.87 720.7 651.03 721.2 651.32 721.7 651.28 722.2 650.96 722.7 650.78 723.2 651.1 723.7 651.11 724.2 651.09 724.7 650.91 725.2 651.17 725.7 650.93 726.2 650.89 726.7 650.92 727.2 651.05 727.7 651.05 728.2 650.88 728.7 651.12 729.2 651.26 729.7 650.81 730.2 651.14 730.7 650.94 731.2 650.65 731.7 651.08 732.2 650.89 732.7 651.01 733.2 650.96 733.7 650.63 734.2 650.92 734.7 651.19 735.2 651.18 735.7 650.86 736.2 651.17 736.7 651.16 737.2 651.28 737.7 651.37 738.2 651.32 738.7 651.26 739.2 651.18 739.7 651.07 740.2 650.88 740.7 651.06 741.2 651.22 741.7 651.2 742.2 650.97 742.7 650.73 743.2 650.93 743.7 650.8 744.2 651.1 744.7 650.85 745.2 650.91 745.7 651.02 746.2 651.02 746.7 651.09 747.2 651.2 747.7 651.11 748.2 651.27 748.7 650.95 749.2 651.15 749.7 651.51 750.2 651.13 750.7 650.98 751.2 651.09 751.7 651.04 752.2 651.02 752.7 651.3 753.2 651.36 753.7 651.01 754.2 650.95 754.7 651.24 755.2 651.26 755.7 651.08 756.2 651.21 756.7 651.04 757.2 651.28 757.7 651.08 758.2 651.12 758.7 651.18 759.2 650.92 759.7 651.11 760.2 651.11 760.7 651.22 761.2 650.97 761.7 650.76 762.2 650.97 762.7 651.13 763.2 651.07 763.7 651.12 764.2 651.28 764.7 651.2 765.2 651.17 765.7 651.08 766.2 650.89 766.7 651 767.2 650.97 767.7 650.85 768.2 650.98 768.7 650.85 769.2 650.73 769.7 650.63 770.2 650.43 770.7 650.84 771.2 650.35 771.7 650.23 772.2 649.85 772.7 650.1 773.2 650.11 773.7 650.18 774.2 650.08 774.7 650.15 775.2 650.78 775.7 650.53 776.2 650.75 776.7 650.81 777.2 650.86 777.7 651.14 778.2 651.04 778.7 651.1 779.2 651.22 779.7 651.15 780.2 651.04 780.7 650.88 781.2 651.18 781.7 651.04 782.2 650.83 782.7 651.16 783.2 651.34 783.7 651.22 784.2 651.12 784.7 651.31 785.2 651.15 785.7 650.91 786.2 651.09 786.7 651.17 787.2 651.02 787.7 650.93 788.2 650.87 788.7 651.29 789.2 651.17 789.7 650.92 790.2 651.25 790.7 651.04 791.2 650.89 791.7 650.89 792.2 651.08 792.7 651.11 793.2 651.02 793.7 650.78 794.2 650.38 794.7 650.48 795.2 650.6 795.7 650.24 796.2 650.08 796.7 649.98 797.2 649.79 797.7 650.33 798.2 649.87 798.7 650.13 799.2 650.5 799.7 650.65 800.2 650.84 800.7 650.64 801.2 650.85 801.7 651.2 802.2 650.84 802.7 651.06 803.2 650.91 803.7 650.78 804.2 650.91 804.7 650.91 805.2 651.2 805.7 651.2 806.2 651.41 806.7 650.94 807.2 651.02 807.7 651.17 808.2 651 808.7 650.95 809.2 651.07 809.7 651.24 810.2 651 810.7 651.37 811.2 651.01 811.7 651.26 812.2 651.24 812.7 651.02 813.2 651.12 813.7 651.31 814.2 650.92 814.7 651.28 815.2 651.08 815.7 651.25 816.2 651.29 816.7 651.18 817.2 651.02 817.7 651.13 818.2 650.95 818.7 650.8 819.2 651.4 819.7 650.99 820.2 650.74 820.7 651.17 821.2 650.84 821.7 651.18 822.2 651.36 822.7 651.33 823.2 651.27 823.7 651.07 824.2 650.98 824.7 650.79 825.2 650.94 825.7 651.08 826.2 651.01 826.7 651.38 827.2 651.07 827.7 651.08 828.2 651.28 828.7 651.04 829.2 651.26 829.7 651.21 830.2 651.01 830.7 651.25 831.2 651.09 831.7 651.05 832.2 651.23 832.7 651.15 833.2 651.06 833.7 651.28 834.2 651.36 834.7 651.13 835.2 651.05 835.7 651.09 836.2 651.16 836.7 651.31 837.2 650.88 837.7 651.39 838.2 651.2 838.7 651.14 839.2 651.56 839.7 651.34 840.2 651.43 840.7 651.08 841.2 651.32 841.7 650.88 842.2 651.05 842.7 650.98 843.2 651.34 843.7 651.2 844.2 650.92 844.7 651.29 845.2 651.19 845.7 651.22 846.2 651.62 846.7 650.86 847.2 651.28 847.7 651.03 848.2 651.19 848.7 651.22 849.2 651.35 849.7 651.26 850.2 651.23 850.7 650.76 851.2 651.05 851.7 651.15 852.2 651.06 852.7 651.01 853.2 651.23 853.7 651.1 854.2 651.01 854.7 651.02 855.2 650.92 855.7 650.89 856.2 650.87 856.7 651.03 857.2 651.08 857.7 650.81 858.2 650.52 858.7 650.48 859.2 650.56 859.7 650.36 860.2 650.59 860.7 650.77 861.2 650.84 861.7 650.59 862.2 650.83 862.7 650.86 863.2 651.02 863.7 650.84 864.2 651.06 864.7 651.1 865.2 650.95 865.7 651.12 866.2 651.2 866.7 651.09 867.2 651.04 867.7 651.16 868.2 651.18 868.7 651 869.2 651.1 869.7 651.13 870.2 651 870.7 651.21 871.2 651.05 871.7 650.96 872.2 651.32 872.7 651.33 873.2 650.95 873.7 651.08 874.2 650.99 874.7 650.85 875.2 651.31 875.7 651.08 876.2 651.29 876.7 651.08 877.2 650.98 877.7 651.27 878.2 651.08 878.7 651.27 879.2 650.94 879.7 651.38 880.2 651.41 880.7 651.05 881.2 650.83 881.7 650.86 882.2 651.12 882.7 650.85 883.2 651.09 883.7 651.2 884.2 651.07 884.7 651.23 885.2 651.11 885.7 651.03 886.2 651.16 886.7 651.05 887.2 651.21 887.7 651.09 888.2 651.4 888.7 651.02 889.2 651.28 889.7 651.22 890.2 651.24 890.7 651.12 891.2 651.03 891.7 650.87 892.2 651.04 892.7 651.27 893.2 651.23 893.7 651.3 894.2 650.98 894.7 651.2 895.2 651.09 895.7 650.91 896.2 651.3 896.7 651.41 897.2 651.13 897.7 651.31 898.2 651.15 898.7 651 899.2 650.87 899.7 651.28 900.2 651.35 900.7 651.11 901.2 651.35 901.7 651.3 902.2 651.07 902.7 651.31 903.2 651.3 903.7 651.08 904.2 651.12 904.7 651.22 905.2 651.06 905.7 650.99 906.2 651.21 906.7 651.5 907.2 651.24 907.7 651.1 908.2 651.1 908.7 651.4 909.2 651.05 909.7 651.04 910.2 651.08 910.7 651.15 911.2 651.09 911.7 651.15 912.2 651.19 912.7 651.38 913.2 651.25 913.7 650.9 914.2 651.14 914.7 651.03" stroke="#000" stroke-width="1.75" fill="none" stroke-linejoin="round"/>
<path d="M84.9 1017.91 85.4 1018.1 85.9 1017.34 86.4 1017.25 86.9 1017.63 87.4 1018.06 87.9 1017.55 88.4 1016.96 88.9 1017.04 89.4 1017.24 89.9 1017.54 90.4 1017.16 90.9 1016.99 91.4 1016.98 91.9 1017.07 92.4 1016.71 92.9 1016.91 93.4 1016.95 93.9 1017.38 94.4 1016.74 94.9 1017.04 95.4 1016.31 95.9 1016.91 96.4 1016.62 96.9 1016.33 97.4 1016.45 97.9 1016.72 98.4 1016.25 98.9 1016.66 99.4 1016.78 99.9 1016.75 100.4 1016.68 100.9 1015.62 101.4 1016.11 101.9 1015.69 102.4 1016.18 102.9 1015.82 103.4 1015.8 103.9 1015.81 104.4 1015.39 104.9 1015.55 105.4 1015.21 105.9 1016.1 106.4 1015.16 106.9 1015.26 107.4 1014.58 107.9 1014.61 108.4 1014.76 108.9 1015.26 109.4 1015.18 109.9 1014.94 110.4 1014.56 110.9 1015.35 111.4 1014.29 111.9 1014.28 112.4 1014.67 112.9 1014.09 113.4 1014.46 113.9 1014.63 114.4 1014.21 114.9 1014.3 115.4 1014.11 115.9 1013.79 116.4 1012.85 116.9 1013.44 117.4 1013.77 117.9 1013.13 118.4 1013.42 118.9 1013.6 119.4 1013.91 119.9 1012.89 120.4 1013.1 120.9 1013.27 121.4 1013.29 121.9 1012.55 122.4 1013.58 122.9 1012.58 123.4 1013.15 123.9 1012.62 124.4 1012.74 124.9 1013.09 125.4 1012.67 125.9 1012.38 126.4 1011.9 126.9 1011.93 127.4 1011.57 127.9 1012.66 128.4 1011.33 128.9 1010.88 129.4 1012.24 129.9 1012.01 130.4 1011.33 130.9 1011.64 131.4 1010.95 131.9 1010.92 132.4 1011.2 132.9 1011.06 133.4 1010.66 133.9 1011.27 134.4 1010.84 134.9 1010.49 135.4 1009.86 135.9 1010.13 136.4 1009.74 136.9 1009.53 137.4 1009.47 137.9 1008.54 138.4 1008.27 138.9 1007.74 139.4 1006.73 139.9 1006.37 140.4 1003.82 140.9 1003.13 141.4 1001.4 141.9 1000.47 142.4 1000.1 142.9 997.34 143.4 996.03 143.9 993.58 144.4 989.24 144.9 984.34 145.4 978.43 145.9 976.09 146.4 975.53 146.9 979.18 147.4 986.06 147.9 993.04 148.4 998.84 148.9 1003.43 149.4 1006.59 149.9 1008.31 150.4 1009.14 150.9 1009.31 151.4 1009.11 151.9 1010.54 152.4 1010.28 152.9 1009.91 153.4 1009.9 153.9 1010.29 154.4 1010.48 154.9 1009.97 155.4 1011.27 155.9 1011.01 156.4 1010.82 156.9 1011.12 157.4 1011.14 157.9 1011.49 158.4 1011.24 158.9 1011.68 159.4 1011.84 159.9 1011.25 160.4 1011.25 160.9 1011.16 161.4 1011.44 161.9 1011.32 162.4 1011.62 162.9 1011.78 163.4 1011.91 163.9 1011.37 164.4 1012.2 164.9 1011.77 165.4 1011.91 165.9 1011.84 166.4 1011.39 166.9 1012.25 167.4 1011.61 167.9 1012.68 168.4 1012.38 168.9 1012.98 169.4 1012.73 169.9 1012.81 170.4 1013.12 170.9 1012.69 171.4 1013.31 171.9 1012.79 172.4 1013 172.9 1012.74 173.4 1013.23 173.9 1013.34 174.4 1013 174.9 1012.79 175.4 1013.29 175.9 1013.52 176.4 1013.38 176.9 1013.16 177.4 1013.32 177.9 1013.54 178.4 1012.79 178.9 1013.56 179.4 1014.33 179.9 1013.45 180.4 1013.88 180.9 1014.61 181.4 1014.33 181.9 1014.46 182.4 1014.14 182.9 1013.79 183.4 1015.31 183.9 1014.46 184.4 1014.5 184.9 1015.04 185.4 1014.8 185.9 1014.6 186.4 1014.25 186.9 1014.63 187.4 1014.69 187.9 1014.55 188.4 1014.54 188.9 1014.55 189.4 1014.91 189.9 1014.79 190.4 1015.19 190.9 1015.46 191.4 1015.26 191.9 1015.21 192.4 1015.79 192.9 1015.53 193.4 1014.83 193.9 1015.14 194.4 1015.5 194.9 1015.17 195.4 1015.77 195.9 1014.93 196.4 1014.9 196.9 1015.91 197.4 1015.75 197.9 1014.89 198.4 1015.29 198.9 1015.41 199.4 1014.07 199.9 1013.41 200.4 1012.68 200.9 1012.12 201.4 1011.55 201.9 1012.18 202.4 1012.45 202.9 1013.76 203.4 1015.28 203.9 1014.76 204.4 1015.9 204.9 1016.3 205.4 1015.29 205.9 1016.25 206.4 1016.27 206.9 1016.2 207.4 1016.63 207.9 1016.23 208.4 1016.53 208.9 1016.29 209.4 1016.4 209.9 1016.19 210.4 1017.27 210.9 1016.47 211.4 1016.12 211.9 1017.2 212.4 1017.08 212.9 1016.47 213.4 1016.32 213.9 1016.3 214.4 1017 214.9 1016.46 215.4 1016.34 215.9 1016.88 216.4 1016.5 216.9 1016.58 217.4 1017.28 217.9 1016.92 218.4 1017.05 218.9 1016.77 219.4 1017.08 219.9 1016.57 220.4 1016.97 220.9 1017 221.4 1016.49 221.9 1016.19 222.4 1016.8 222.9 1016.54 223.4 1016.77 223.9 1016.32 224.4 1016.68 224.9 1016.8 225.4 1017.26 225.9 1017.02 226.4 1016.5 226.9 1016.83 227.4 1016.08 227.9 1016.67 228.4 1016.27 228.9 1016.64 229.4 1016.25 229.9 1016.02 230.4 1015.8 230.9 1016.44 231.4 1015.98 231.9 1016.16 232.4 1016.03 232.9 1015.09 233.4 1015.95 233.9 1015.53 234.4 1015.72 234.9 1015.67 235.4 1014.79 235.9 1015.21 236.4 1015.21 236.9 1015.26 237.4 1015.33 237.9 1014.64 238.4 1014.65 238.9 1014.77 239.4 1013.68 239.9 1014.6 240.4 1013.07 240.9 1012.97 241.4 1011.23 241.9 1010.02 242.4 1007.57 242.9 1005.08 243.4 1003.05 243.9 1003.54 244.4 1004.75 244.9 1006.65 245.4 1007.86 245.9 1009.5 246.4 1010.5 246.9 1011.39 247.4 1011.14 247.9 1011.32 248.4 1011.43 248.9 1010.6 249.4 1010.75 249.9 1009.83 250.4 1008.99 250.9 1008.69 251.4 1007.59 251.9 1006.3 252.4 1005.04 252.9 1003.92 253.4 1002.6 253.9 1001.25 254.4 999.15 254.9 996.89 255.4 994.53 255.9 992.83 256.4 990.51 256.9 988.29 257.4 985.19 257.9 982.38 258.4 980.63 258.9 977.91 259.4 975.37 259.9 974.48 260.4 972.7 260.9 971.36 261.4 970.9 261.9 970.56 262.4 971.72 262.9 972.29 263.4 973.78 263.9 975.7 264.4 977.53 264.9 980.6 265.4 983.23 265.9 985.36 266.4 986.8 266.9 989.77 267.4 991.9 267.9 994.38 268.4 995.49 268.9 997.3 269.4 999.55 269.9 1001.55 270.4 1002.48 270.9 1004.49 271.4 1004.46 271.9 1005.66 272.4 1006.37 272.9 1006.79 273.4 1008.02 273.9 1007.63 274.4 1008.11 274.9 1008.67 275.4 1008.89 275.9 1009.66 276.4 1009.25 276.9 1009.74 277.4 1009.5 277.9 1010.18 278.4 1009.77 278.9 1009.9 279.4 1009.25 279.9 1010.06 280.4 1009.57 280.9 1010.07 281.4 1009.89 281.9 1009.85 282.4 1009.98 282.9 1009.64 283.4 1009.12 283.9 1009.38 284.4 1009.27 284.9 1008.69 285.4 1009.2 285.9 1009.39 286.4 1008.84 286.9 1008.67 287.4 1008.64 287.9 1008.7 288.4 1007.96 288.9 1008.29 289.4 1007.5 289.9 1007.72 290.4 1007.48 290.9 1006.6 291.4 1007 291.9 1006.55 292.4 1005.57 292.9 1005.64 293.4 1005.2 293.9 1004.7 294.4 1004.7 294.9 1003.79 295.4 1003.54 295.9 1002.55 296.4 1002.17 296.9 1002.16 297.4 1000.84 297.9 999.23 298.4 998.39 298.9 997.48 299.4 995.61 299.9 994.97 300.4 992.85 300.9 990.82 301.4 988.56 301.9 985.67 302.4 982.52 302.9 978.43 303.4 975.1 303.9 971.41 304.4 966.71 304.9 961 305.4 954.45 305.9 948.41 306.4 941.39 306.9 933.2 307.4 925.85 307.9 916.22 308.4 907.44 308.9 897.59 309.4 888.68 309.9 878.39 310.4 869.3 310.9 861.4 311.4 852.94 311.9 846.88 312.4 842.61 312.9 839.83 313.4 838.5 313.9 840.88 314.4 844.17 314.9 850.14 315.4 856.07 315.9 865.06 316.4 873.87 316.9 883.03 317.4 892.64 317.9 902.52 318.4 911.53 318.9 920.69 319.4 929.14 319.9 937.53 320.4 945.23 320.9 951.38 321.4 958.28 321.9 964.14 322.4 969.75 322.9 973.63 323.4 978.48 323.9 981.58 324.4 985.16 324.9 987.93 325.4 990.47 325.9 992.47 326.4 994.19 326.9 996.75 327.4 998.23 327.9 999 328.4 1000.15 328.9 1001.17 329.4 1001.7 329.9 1002.6 330.4 1003.9 330.9 1004.79 331.4 1005.03 331.9 1005.38 332.4 1005.87 332.9 1006.54 333.4 1007.47 333.9 1007.69 334.4 1007.59 334.9 1008.07 335.4 1008.95 335.9 1009.27 336.4 1010.07 336.9 1010.17 337.4 1009.8 337.9 1009.34 338.4 1009.2 338.9 1008 339.4 1007.27 339.9 1007.12 340.4 1006.69 340.9 1007.12 341.4 1008.23 341.9 1008.77 342.4 1010.41 342.9 1011.15 343.4 1011.92 343.9 1012.28 344.4 1012.59 344.9 1012 345.4 1012.02 345.9 1012.53 346.4 1012.67 346.9 1012.37 347.4 1012.59 347.9 1012.29 348.4 1013.33 348.9 1013.41 349.4 1014.06 349.9 1013.68 350.4 1014.06 350.9 1014.37 351.4 1015.05 351.9 1014.97 352.4 1015.1 352.9 1014.56 353.4 1014.97 353.9 1014.89 354.4 1015.46 354.9 1015.93 355.4 1015.75 355.9 1015.51 356.4 1016.63 356.9 1015.64 357.4 1016.58 357.9 1016.59 358.4 1016.36 358.9 1016.82 359.4 1016.05 359.9 1016.31 360.4 1016.48 360.9 1016.79 361.4 1016.67 361.9 1017.39 362.4 1016.74 362.9 1016.86 363.4 1016.59 363.9 1017.24 364.4 1017.42 364.9 1016.95 365.4 1016.83 365.9 1016.85 366.4 1017.8 366.9 1017.73 367.4 1017.62 367.9 1017.84 368.4 1017.81 368.9 1017.86 369.4 1017.19 369.9 1017.99 370.4 1018.1 370.9 1018.29 371.4 1018.27 371.9 1017.74 372.4 1018.11 372.9 1017.56 373.4 1018.59 373.9 1017.66 374.4 1018.41 374.9 1017.93 375.4 1017.96 375.9 1017.97 376.4 1018.2 376.9 1018.48 377.4 1018.77 377.9 1018.31 378.4 1018.75 378.9 1018.79 379.4 1019.23 379.9 1018.34 380.4 1018.69 380.9 1018.86 381.4 1018.7 381.9 1018.9 382.4 1018.48 382.9 1018.62 383.4 1018.56 383.9 1018.58 384.4 1018.53 384.9 1018.83 385.4 1018.47 385.9 1018.73 386.4 1019.16 386.9 1018.44 387.4 1018.65 387.9 1018.9 388.4 1018.7 388.9 1018.75 389.4 1019.78 389.9 1019.27 390.4 1019.03 390.9 1018.96 391.4 1018.7 391.9 1018.87 392.4 1018.49 392.9 1019.52 393.4 1019.17 393.9 1019.69 394.4 1019.4 394.9 1018.74 395.4 1020.12 395.9 1019.66 396.4 1019.82 396.9 1019.34 397.4 1019.37 397.9 1019.53 398.4 1020.24 398.9 1019.2 399.4 1019.29 399.9 1019.87 400.4 1019.03 400.9 1020.26 401.4 1019.37 401.9 1020.2 402.4 1019.76 402.9 1019.72 403.4 1019.47 403.9 1020.39 404.4 1019.82 404.9 1019.47 405.4 1020.19 405.9 1019.94 406.4 1020.19 406.9 1019.89 407.4 1020.18 407.9 1020.23 408.4 1020.1 408.9 1019.54 409.4 1020.3 409.9 1020.63 410.4 1020.32 410.9 1020.51 411.4 1020.48 411.9 1020.13 412.4 1020.62 412.9 1020.19 413.4 1019.94 413.9 1019.87 414.4 1020.69 414.9 1020.59 415.4 1020.59 415.9 1020.19 416.4 1019.78 416.9 1020.7 417.4 1020.41 417.9 1020.25 418.4 1020.27 418.9 1020.3 419.4 1019.88 419.9 1020.76 420.4 1020.8 420.9 1020.88 421.4 1020.47 421.9 1020.18 422.4 1020.16 422.9 1020.54 423.4 1021.27 423.9 1021.01 424.4 1020.71 424.9 1020.89 425.4 1021.02 425.9 1020.78 426.4 1020.86 426.9 1020.87 427.4 1020.61 427.9 1020.43 428.4 1020.65 428.9 1021.26 429.4 1020.33 429.9 1020.74 430.4 1020.77 430.9 1020.94 431.4 1020.79 431.9 1021.23 432.4 1020.85 432.9 1020.99 433.4 1021.26 433.9 1020.53 434.4 1021.42 434.9 1021.41 435.4 1020.62 435.9 1021.05 436.4 1020.84 436.9 1020.99 437.4 1021.4 437.9 1020.49 438.4 1021.45 438.9 1021.32 439.4 1021.18 439.9 1021.96 440.4 1021.04 440.9 1020.7 441.4 1021.37 441.9 1021.3 442.4 1021.04 442.9 1020.53 443.4 1020.63 443.9 1021.86 444.4 1020.78 444.9 1021.79 445.4 1021.6 445.9 1020.56 446.4 1021.39 446.9 1021.55 447.4 1021.71 447.9 1021.79 448.4 1021.77 448.9 1021.32 449.4 1021.24 449.9 1021.26 450.4 1021.51 450.9 1021 451.4 1020.94 451.9 1022.1 452.4 1021.63 452.9 1021.65 453.4 1021.19 453.9 1020.96 454.4 1021.08 454.9 1020.93 455.4 1020.96 455.9 1020.59 456.4 1021.3 456.9 1021.15 457.4 1021.24 457.9 1020.91 458.4 1020.54 458.9 1021.37 459.4 1020.85 459.9 1020.56 460.4 1020.48 460.9 1019.84 461.4 1019.93 461.9 1019.12 462.4 1019.38 462.9 1018.97 463.4 1018.5 463.9 1017.86 464.4 1017.24 464.9 1016.69 465.4 1016.24 465.9 1015.18 466.4 1014.89 466.9 1014.2 467.4 1012.77 467.9 1011.89 468.4 1011.87 468.9 1010.98 469.4 1010.21 469.9 1009.52 470.4 1009.12 470.9 1008.62 471.4 1008.89 471.9 1008.44 472.4 1008.5 472.9 1009.31 473.4 1010.27 473.9 1010.68 474.4 1010.79 474.9 1011.65 475.4 1012.15 475.9 1012.93 476.4 1013.46 476.9 1014.48 477.4 1014.84 477.9 1015.66 478.4 1016.53 478.9 1017.18 479.4 1018.5 479.9 1018.03 480.4 1018.44 480.9 1019.49 481.4 1019.86 481.9 1020.25 482.4 1020.28 482.9 1020.08 483.4 1020.71 483.9 1020.6 484.4 1021.2 484.9 1021.98 485.4 1021.4 485.9 1021.66 486.4 1022.1 486.9 1021.35 487.4 1022.14 487.9 1021.83 488.4 1021.77 488.9 1021.93 489.4 1021.76 489.9 1022.43 490.4 1022.21 490.9 1022.04 491.4 1022.39 491.9 1021.72 492.4 1021.29 492.9 1022.68 493.4 1021.99 493.9 1022.37 494.4 1021.67 494.9 1021.19 495.4 1021.23 495.9 1021.71 496.4 1021.34 496.9 1020.91 497.4 1021.42 497.9 1021.28 498.4 1021.69 498.9 1021.52 499.4 1021.33 499.9 1022.33 500.4 1022.66 500.9 1022.22 501.4 1023.14 501.9 1022.74 502.4 1023.28 502.9 1022.94 503.4 1023.16 503.9 1022.67 504.4 1022.26 504.9 1023.55 505.4 1023.25 505.9 1023.06 506.4 1022.51 506.9 1023.15 507.4 1022.5 507.9 1023.05 508.4 1023.19 508.9 1023.07 509.4 1022.56 509.9 1023.12 510.4 1022.98 510.9 1023.12 511.4 1023.38 511.9 1022.72 512.4 1022.67 512.9 1022.24 513.4 1023.5 513.9 1022.71 514.4 1023.44 514.9 1023.13 515.4 1023.42 515.9 1023.1 516.4 1023.19 516.9 1022.95 517.4 1023.2 517.9 1022.68 518.4 1023.41 518.9 1022.48 519.4 1022.89 519.9 1022.94 520.4 1023.12 520.9 1023.05 521.4 1022.76 521.9 1023.13 522.4 1022.18 522.9 1022.87 523.4 1023.1 523.9 1022.89 524.4 1023.48 524.9 1023.1 525.4 1023.32 525.9 1022.77 526.4 1023.49 526.9 1023.43 527.4 1022.66 527.9 1023.68 528.4 1022.8 528.9 1022.8 529.4 1023.5 529.9 1023.83 530.4 1023.45 530.9 1023.18 531.4 1022.99 531.9 1022.99 532.4 1023.32 532.9 1023.38 533.4 1022.93 533.9 1023.45 534.4 1022.52 534.9 1023.37 535.4 1022.98 535.9 1022.86 536.4 1024.04 536.9 1023.52 537.4 1023.21 537.9 1022.95 538.4 1023.83 538.9 1023.37 539.4 1023.08 539.9 1022.53 540.4 1023.68 540.9 1023.63 541.4 1023.55 541.9 1023.01 542.4 1022.75 542.9 1023.79 543.4 1023.29 543.9 1023.66 544.4 1022.53 544.9 1023.32 545.4 1023.67 545.9 1023.42 546.4 1024.07 546.9 1023.75 547.4 1023.81 547.9 1023.69 548.4 1023.39 548.9 1023.2 549.4 1023.19 549.9 1023.92 550.4 1023.42 550.9 1022.76 551.4 1023.57 551.9 1023.54 552.4 1023.35 552.9 1023.68 553.4 1023.24 553.9 1024.46 554.4 1023.42 554.9 1023.24 555.4 1023.63 555.9 1023.66 556.4 1023.91 556.9 1023.7 557.4 1023.86 557.9 1023.65 558.4 1023.56 558.9 1023.3 559.4 1023.42 559.9 1023.66 560.4 1023.26 560.9 1023.98 561.4 1023.61 561.9 1024.13 562.4 1024.01 562.9 1023.64 563.4 1024.81 563.9 1024.26 564.4 1023.55 564.9 1023.94 565.4 1023.59 565.9 1023.49 566.4 1023.87 566.9 1023.66 567.4 1024.14 567.9 1023.36 568.4 1023.95 568.9 1024.32 569.4 1023.97 569.9 1024.55 570.4 1024.58 570.9 1023.49 571.4 1023.79 571.9 1023.73 572.4 1024.46 572.9 1023.78 573.4 1023.24 573.9 1023.75 574.4 1023.87 574.9 1023.93 575.4 1023.94 575.9 1024.02 576.4 1023.74 576.9 1024.02 577.4 1023.88 577.9 1023.9 578.4 1023.96 578.9 1024.36 579.4 1024.17 579.9 1024.31 580.4 1023.84 580.9 1023.52 581.4 1024.06 581.9 1024.42 582.4 1024.13 582.9 1023.96 583.4 1023.61 583.9 1024.28 584.4 1023.89 584.9 1023.61 585.4 1024.32 585.9 1024.23 586.4 1024.65 586.9 1023.8 587.4 1023.76 587.9 1024.29 588.4 1024.8 588.9 1024.34 589.4 1024.5 589.9 1023.81 590.4 1024.4 590.9 1023.79 591.4 1023.69 591.9 1024.58 592.4 1024.73 592.9 1024.11 593.4 1024.42 593.9 1024.56 594.4 1024.31 594.9 1024.41 595.4 1024.53 595.9 1024.12 596.4 1024.04 596.9 1024.59 597.4 1025.24 597.9 1024.32 598.4 1024.31 598.9 1025.14 599.4 1024.26 599.9 1024.24 600.4 1025.17 600.9 1024.76 601.4 1024.78 601.9 1023.79 602.4 1024.99 602.9 1024.47 603.4 1024.92 603.9 1024.77 604.4 1025.23 604.9 1024.89 605.4 1025.25 605.9 1024.4 606.4 1025.02 606.9 1024.85 607.4 1024.47 607.9 1024.19 608.4 1024.6 608.9 1024.38 609.4 1024.54 609.9 1024.53 610.4 1024.48 610.9 1024.76 611.4 1024.78 611.9 1024.4 612.4 1024.48 612.9 1024.84 613.4 1024.59 613.9 1024.62 614.4 1024.46 614.9 1024.16 615.4 1024.72 615.9 1024.46 616.4 1024.8 616.9 1024.73 617.4 1024.71 617.9 1025.17 618.4 1024.58 618.9 1025.28 619.4 1025.01 619.9 1025.83 620.4 1024.6 620.9 1024.69 621.4 1025.07 621.9 1025.22 622.4 1024.85 622.9 1025.24 623.4 1025.01 623.9 1024.48 624.4 1025.1 624.9 1025.3 625.4 1025.15 625.9 1024.99 626.4 1024.73 626.9 1025.3 627.4 1025.56 627.9 1024.58 628.4 1025.29 628.9 1024.46 629.4 1025.17 629.9 1024.17 630.4 1025.05 630.9 1025.35 631.4 1024.63 631.9 1024.67 632.4 1025.19 632.9 1025.07 633.4 1025.28 633.9 1025.67 634.4 1024.78 634.9 1025.29 635.4 1024.53 635.9 1024.16 636.4 1024.89 636.9 1024.28 637.4 1025.43 637.9 1025.57 638.4 1025.45 638.9 1024.71 639.4 1025.02 639.9 1024.7 640.4 1025.24 640.9 1024.96 641.4 1025.72 641.9 1025.49 642.4 1024.91 642.9 1025.88 643.4 1025.45 643.9 1025.69 644.4 1025.4 644.9 1025.86 645.4 1025.81 645.9 1025.7 646.4 1025.93 646.9 1025.66 647.4 1025.56 647.9 1025.2 648.4 1024.73 648.9 1025.92 649.4 1025.71 649.9 1025.12 650.4 1025.81 650.9 1025.59 651.4 1025.57 651.9 1026.2 652.4 1025.91 652.9 1025.09 653.4 1025.61 653.9 1025.94 654.4 1025.99 654.9 1025.8 655.4 1025.48 655.9 1025.76 656.4 1024.97 656.9 1026.1 657.4 1025.64 657.9 1025.47 658.4 1025.42 658.9 1025.75 659.4 1025.4 659.9 1025.36 660.4 1025.37 660.9 1026.34 661.4 1025.69 661.9 1025.93 662.4 1025.88 662.9 1025.55 663.4 1026.05 663.9 1025.72 664.4 1025.52 664.9 1025.43 665.4 1025.66 665.9 1025.63 666.4 1026.28 666.9 1024.92 667.4 1026.22 667.9 1026.34 668.4 1026.38 668.9 1025.59 669.4 1025.55 669.9 1026.3 670.4 1026.1 670.9 1025.97 671.4 1025.57 671.9 1025.78 672.4 1025.47 672.9 1026.48 673.4 1026.27 673.9 1025.75 674.4 1026.28 674.9 1025.97 675.4 1025.21 675.9 1026.13 676.4 1025.67 676.9 1026.06 677.4 1025.78 677.9 1025.6 678.4 1025.84 678.9 1026.34 679.4 1025.55 679.9 1025.63 680.4 1025.45 680.9 1025.77 681.4 1026.31 681.9 1026.26 682.4 1026.2 682.9 1026.19 683.4 1026.56 683.9 1026.56 684.4 1026.6 684.9 1025.73 685.4 1025.82 685.9 1026.33 686.4 1026.32 686.9 1025.88 687.4 1025.99 687.9 1026.4 688.4 1026.03 688.9 1025.83 689.4 1026.21 689.9 1025.9 690.4 1026.31 690.9 1026.2 691.4 1026.01 691.9 1025.81 692.4 1026.49 692.9 1025.83 693.4 1026.18 693.9 1026.03 694.4 1026.17 694.9 1026.03 695.4 1026.52 695.9 1026.21 696.4 1025.81 696.9 1025.75 697.4 1026.45 697.9 1026.13 698.4 1026.64 698.9 1026.38 699.4 1026.67 699.9 1025.73 700.4 1026.11 700.9 1026.68 701.4 1025.8 701.9 1026.5 702.4 1026.24 702.9 1026.63 703.4 1026.16 703.9 1026.02 704.4 1026.57 704.9 1027.05 705.4 1025.88 705.9 1026.4 706.4 1026.03 706.9 1026.48 707.4 1026.48 707.9 1026.07 708.4 1025.85 708.9 1026.36 709.4 1026.35 709.9 1026.67 710.4 1026.34 710.9 1026.74 711.4 1026.47 711.9 1026.9 712.4 1026.75 712.9 1025.91 713.4 1026.3 713.9 1026.56 714.4 1026.32 714.9 1026.54 715.4 1027.02 715.9 1026.13 716.4 1026.19 716.9 1026.13 717.4 1026.82 717.9 1027.25 718.4 1026.16 718.9 1027.3 719.4 1025.98 719.9 1026.53 720.4 1026.54 720.9 1026.61 721.4 1026.26 721.9 1026.11 722.4 1026.45 722.9 1026.88 723.4 1026.45 723.9 1026.68 724.4 1026.7 724.9 1027.06 725.4 1026.17 725.9 1027.12 726.4 1027.24 726.9 1026.17 727.4 1026.97 727.9 1025.93 728.4 1026.3 728.9 1026.5 729.4 1026.59 729.9 1025.95 730.4 1026.36 730.9 1026.05 731.4 1026.96 731.9 1026.31 732.4 1026.73 732.9 1026.47 733.4 1026.83 733.9 1025.76 734.4 1026.65 734.9 1026.15 735.4 1026.34 735.9 1026.81 736.4 1026.98 736.9 1026.38 737.4 1026.52 737.9 1027.4 738.4 1026.74 738.9 1027.06 739.4 1027.08 739.9 1027 740.4 1026.69 740.9 1026.69 741.4 1027.05 741.9 1025.8 742.4 1026.49 742.9 1026.91 743.4 1026.97 743.9 1026.99 744.4 1026.6 744.9 1026.5 745.4 1026.3 745.9 1026.87 746.4 1026.8 746.9 1026.85 747.4 1026.03 747.9 1026.68 748.4 1026.45 748.9 1027.17 749.4 1027.09 749.9 1027.08 750.4 1027.04 750.9 1027.26 751.4 1026.95 751.9 1026.58 752.4 1026.93 752.9 1026.9 753.4 1027.01 753.9 1027.07 754.4 1026.93 754.9 1026.99 755.4 1026.9 755.9 1026.83 756.4 1026.54 756.9 1026.67 757.4 1026.78 757.9 1027.57 758.4 1026.87 758.9 1026.64 759.4 1027.17 759.9 1027.14 760.4 1026.87 760.9 1027.32 761.4 1026.63 761.9 1026.59 762.4 1026.82 762.9 1026.87 763.4 1026.92 763.9 1027.01 764.4 1027.34 764.9 1027.05 765.4 1027.17 765.9 1026.95 766.4 1026.69 766.9 1027.03 767.4 1026.71 767.9 1027.3 768.4 1026.97 768.9 1026.71 769.4 1027.05 769.9 1027.13 770.4 1026.91 770.9 1026.73 771.4 1026.99 771.9 1026.93 772.4 1026.94 772.9 1026.14 773.4 1026.86 773.9 1027.88 774.4 1027.7 774.9 1027.52 775.4 1027.07 775.9 1027.52 776.4 1027.36 776.9 1027.19 777.4 1027.17 777.9 1027.19 778.4 1026.58 778.9 1027.55 779.4 1027.52 779.9 1027.3 780.4 1027.34 780.9 1026.93 781.4 1027.19 781.9 1027 782.4 1026.88 782.9 1027.35 783.4 1028.03 783.9 1027.89 784.4 1027.29 784.9 1027.12 785.4 1028.01 785.9 1026.98 786.4 1027.04 786.9 1027.44 787.4 1027.97 787.9 1027.86 788.4 1026.62 788.9 1026.64 789.4 1026.9 789.9 1027.74 790.4 1027.02 790.9 1027.09 791.4 1027.75 791.9 1027 792.4 1027.89 792.9 1026.7 793.4 1027.14 793.9 1027.83 794.4 1027.02 794.9 1027.48 795.4 1027.7 795.9 1027.67 796.4 1027.57 796.9 1027.58 797.4 1027.67 797.9 1027.48 798.4 1027.26 798.9 1028.13 799.4 1027.06 799.9 1027.49 800.4 1027.2 800.9 1027.37 801.4 1027.84 801.9 1026.89 802.4 1026.94 802.9 1027.64 803.4 1027.51 803.9 1027.53 804.4 1027.44 804.9 1027.69 805.4 1027.38 805.9 1027.92 806.4 1027.47 806.9 1027.02 807.4 1027.14 807.9 1027.71 808.4 1027.23 808.9 1026.96 809.4 1027.72 809.9 1027.56 810.4 1027.88 810.9 1028.08 811.4 1027.07 811.9 1027.75 812.4 1027.32 812.9 1027.52 813.4 1027.75 813.9 1027.68 814.4 1027.53 814.9 1027.67 815.4 1027.71 815.9 1026.54 816.4 1027.96 816.9 1027.9 817.4 1027.78 817.9 1027.61 818.4 1028.22 818.9 1027.55 819.4 1027.86 819.9 1027.43 820.4 1027 820.9 1027.77 821.4 1027.82 821.9 1027.04 822.4 1028.18 822.9 1027.91 823.4 1027.81 823.9 1027.38 824.4 1027.28 824.9 1027.66 825.4 1027.8 825.9 1027.62 826.4 1027.73 826.9 1027.89 827.4 1027.84 827.9 1027.94 828.4 1027.74 828.9 1027.16 829.4 1027.91 829.9 1027.92 830.4 1028.16 830.9 1027.95 831.4 1027.4 831.9 1027.99 832.4 1028.26 832.9 1028.5 833.4 1027.84 833.9 1027.94 834.4 1027.86 834.9 1028.27 835.4 1028.03 835.9 1028.79 836.4 1027.97 836.9 1027.79 837.4 1028.34 837.9 1028.18 838.4 1027.67 838.9 1027.95 839.4 1027.73 839.9 1027.41 840.4 1028.14 840.9 1027.73 841.4 1028 841.9 1028.17 842.4 1027.72 842.9 1028.24 843.4 1027.82 843.9 1028.07 844.4 1027.84 844.9 1027.61 845.4 1027.24 845.9 1027.76 846.4 1027.76 846.9 1028.93 847.4 1027.92 847.9 1028.15 848.4 1027.82 848.9 1028.46 849.4 1028.31 849.9 1028.15 850.4 1028.16 850.9 1027.28 851.4 1027.79 851.9 1028 852.4 1028.74 852.9 1028.91 853.4 1027.9 853.9 1028.28 854.4 1028.21 854.9 1029 855.4 1027.88 855.9 1028.24 856.4 1028.34 856.9 1028.11 857.4 1028 857.9 1028.32 858.4 1028.29 858.9 1027.88 859.4 1028.02 859.9 1028.3 860.4 1028.02 860.9 1028.69 861.4 1027.83 861.9 1027.87 862.4 1028.55 862.9 1028.14 863.4 1028.07 863.9 1028.58 864.4 1028.08 864.9 1027.56 865.4 1028.19 865.9 1028.53 866.4 1028.3 866.9 1028.83 867.4 1028.39 867.9 1028.39 868.4 1028.83 868.9 1028.06 869.4 1027.17 869.9 1028.46 870.4 1028.64 870.9 1028.41 871.4 1027.96 871.9 1028.57 872.4 1028.81 872.9 1028.45 873.4 1027.98 873.9 1028.22 874.4 1028.49 874.9 1027.81 875.4 1028.75 875.9 1027.85 876.4 1029.07 876.9 1028.14 877.4 1028.71 877.9 1028.54 878.4 1027.65 878.9 1028.62 879.4 1028.12 879.9 1028.25 880.4 1028.49 880.9 1027.81 881.4 1028.29 881.9 1028.56 882.4 1028.74 882.9 1028.82 883.4 1028.63 883.9 1027.42 884.4 1028.61 884.9 1028.11 885.4 1027.81 885.9 1028.62 886.4 1028.87 886.9 1028.47 887.4 1028.39 887.9 1028.08 888.4 1028.32 888.9 1028.77 889.4 1028.58 889.9 1028.6 890.4 1028.35 890.9 1028.33 891.4 1028.29 891.9 1028.03 892.4 1029.04 892.9 1028.01 893.4 1029.03 893.9 1028.79 894.4 1028.2 894.9 1028.87 895.4 1028.81 895.9 1028.89 896.4 1028.55 896.9 1028.44 897.4 1028.52 897.9 1028.59 898.4 1028.12 898.9 1029.02 899.4 1028.37 899.9 1029.15 900.4 1029.08 900.9 1027.94 901.4 1028.3 901.9 1028.39 902.4 1028.67 902.9 1028.29 903.4 1028.87 903.9 1028.56 904.4 1028.26 904.9 1029.01 905.4 1028.41 905.9 1028.94 906.4 1029.42 906.9 1028.71 907.4 1028.57 907.9 1028.11 908.4 1028.94 908.9 1028.62 909.4 1028.71 909.9 1029.17" stroke="#000" stroke-width="1.75" fill="none" stroke-linejoin="round"/>
<path d="M84.9 1251.57 85.4 1251.33 85.9 1252.59 86.4 1251.46 86.9 1251.28 87.4 1251.31 87.9 1250.9 88.4 1250.76 88.9 1251.16 89.4 1250.74 89.9 1251.14 90.4 1250.7 90.9 1250.06 91.4 1250.17 91.9 1250.28 92.4 1249.8 92.9 1250.44 93.4 1250.3 93.9 1250.69 94.4 1249.96 94.9 1250.13 95.4 1250.37 95.9 1250.37 96.4 1249.66 96.9 1250.53 97.4 1249.68 97.9 1250.29 98.4 1249.68 98.9 1249.57 99.4 1249.2 99.9 1249.55 100.4 1250.41 100.9 1249.24 101.4 1249.98 101.9 1249.84 102.4 1249.14 102.9 1249.64 103.4 1249.67 103.9 1248.99 104.4 1248.84 104.9 1249.39 105.4 1249.05 105.9 1249.63 106.4 1248.95 106.9 1248.31 107.4 1248.65 107.9 1248.17 108.4 1248.83 108.9 1248.76 109.4 1248.29 109.9 1248.07 110.4 1248.67 110.9 1248.15 111.4 1248.68 111.9 1247.82 112.4 1248.02 112.9 1247.87 113.4 1247.64 113.9 1248.96 114.4 1248.53 114.9 1247.63 115.4 1248.1 115.9 1247.09 116.4 1248.16 116.9 1248.04 117.4 1247.47 117.9 1247.41 118.4 1247.57 118.9 1247.6 119.4 1247.24 119.9 1247.01 120.4 1247.18 120.9 1247.06 121.4 1247.45 121.9 1247.14 122.4 1247.15 122.9 1246.39 123.4 1246.81 123.9 1246.75 124.4 1246.65 124.9 1246.75 125.4 1246.63 125.9 1246.13 126.4 1246.98 126.9 1246.92 127.4 1246.34 127.9 1246.7 128.4 1246.08 128.9 1245.9 129.4 1246.24 129.9 1246.83 130.4 1246.17 130.9 1245.59 131.4 1246.19 131.9 1245.84 132.4 1245.73 132.9 1246.07 133.4 1245.29 133.9 1245.28 134.4 1245.4 134.9 1246.34 135.4 1245.98 135.9 1245.72 136.4 1245.7 136.9 1246.19 137.4 1246.41 137.9 1245.69 138.4 1246.06 138.9 1246.83 139.4 1246.19 139.9 1245.85 140.4 1246.09 140.9 1246.01 141.4 1246.22 141.9 1246.11 142.4 1245.8 142.9 1245.94 143.4 1246.12 143.9 1245.73 144.4 1246.01 144.9 1245.65 145.4 1246.45 145.9 1246.57 146.4 1245.68 146.9 1246.31 147.4 1246.06 147.9 1246.04 148.4 1245.91 148.9 1246.11 149.4 1246.38 149.9 1245.56 150.4 1246.39 150.9 1245.92 151.4 1245.61 151.9 1246 152.4 1246.25 152.9 1245.99 153.4 1246.13 153.9 1245.9 154.4 1245.83 154.9 1246.4 155.4 1245.69 155.9 1246.4 156.4 1246.16 156.9 1245.94 157.4 1245.96 157.9 1245.94 158.4 1246.06 158.9 1246.1 159.4 1246.11 159.9 1245.49 160.4 1245.47 160.9 1246.4 161.4 1246.09 161.9 1246.15 162.4 1246.34 162.9 1246.04 163.4 1247.05 163.9 1246.52 164.4 1246.5 164.9 1246.22 165.4 1246.97 165.9 1246.95 166.4 1247.27 166.9 1247.1 167.4 1246.51 167.9 1246.39 168.4 1247.39 168.9 1246.69 169.4 1246.93 169.9 1246.96 170.4 1247.24 170.9 1247.29 171.4 1246.76 171.9 1246.94 172.4 1246.59 172.9 1247.46 173.4 1247.24 173.9 1246.73 174.4 1247.76 174.9 1247.42 175.4 1247.09 175.9 1247.35 176.4 1247.33 176.9 1247.62 177.4 1247.7 177.9 1247.45 178.4 1247.86 178.9 1246.8 179.4 1247.66 179.9 1248.06 180.4 1248.21 180.9 1248.2 181.4 1247.57 181.9 1247.38 182.4 1247.9 182.9 1248.89 183.4 1248.2 183.9 1247.87 184.4 1247.56 184.9 1248.25 185.4 1248.07 185.9 1248.44 186.4 1248.37 186.9 1247.48 187.4 1248.32 187.9 1248.68 188.4 1248.21 188.9 1248.03 189.4 1248.07 189.9 1248.05 190.4 1249.35 190.9 1249.1 191.4 1248.4 191.9 1249.15 192.4 1248.3 192.9 1248.52 193.4 1248.48 193.9 1248.72 194.4 1249.05 194.9 1249.58 195.4 1249.15 195.9 1248.87 196.4 1249 196.9 1248.9 197.4 1249.14 197.9 1248.73 198.4 1249.17 198.9 1249.27 199.4 1249.48 199.9 1248.87 200.4 1249.36 200.9 1249.34 201.4 1248.98 201.9 1248.59 202.4 1249.13 202.9 1249.68 203.4 1249.3 203.9 1250.24 204.4 1249.66 204.9 1249.23 205.4 1249.49 205.9 1249.72 206.4 1249.76 206.9 1249.53 207.4 1249.82 207.9 1250.74 208.4 1250.01 208.9 1249.73 209.4 1249.49 209.9 1249.01 210.4 1249.7 210.9 1249.48 211.4 1249.6 211.9 1249.41 212.4 1249.87 212.9 1249.96 213.4 1249.32 213.9 1249.07 214.4 1249.66 214.9 1250.03 215.4 1249.67 215.9 1249.68 216.4 1249 216.9 1249.29 217.4 1249.68 217.9 1249.59 218.4 1249.45 218.9 1249.64 219.4 1249.73 219.9 1249.45 220.4 1249.15 220.9 1248.89 221.4 1249.45 221.9 1249.31 222.4 1249.29 222.9 1249.74 223.4 1249.09 223.9 1249.22 224.4 1249.54 224.9 1248.98 225.4 1248.51 225.9 1249.07 226.4 1249.54 226.9 1249.03 227.4 1249.14 227.9 1248.55 228.4 1249.63 228.9 1248.57 229.4 1248.94 229.9 1249.1 230.4 1249.84 230.9 1249.17 231.4 1248.86 231.9 1248.57 232.4 1248.98 232.9 1248.64 233.4 1248.82 233.9 1249.01 234.4 1249.38 234.9 1248.51 235.4 1249.34 235.9 1248.11 236.4 1249.45 236.9 1248.48 237.4 1248.53 237.9 1248.44 238.4 1248.65 238.9 1248.49 239.4 1248.34 239.9 1248.16 240.4 1248.15 240.9 1248.31 241.4 1248.03 241.9 1247.91 242.4 1247.56 242.9 1247.99 243.4 1248.05 243.9 1247.4 244.4 1247.97 244.9 1247.44 245.4 1247.28 245.9 1246.4 246.4 1246.94 246.9 1246.83 247.4 1246.67 247.9 1245.28 248.4 1244.91 248.9 1244.53 249.4 1243.69 249.9 1242.38 250.4 1241.61 250.9 1240.79 251.4 1239.35 251.9 1237.69 252.4 1236.51 252.9 1233.9 253.4 1232.75 253.9 1230.41 254.4 1228.48 254.9 1226.79 255.4 1224.97 255.9 1222.36 256.4 1220.13 256.9 1218.62 257.4 1216.36 257.9 1213.53 258.4 1212.49 258.9 1211.1 259.4 1209.97 259.9 1208.85 260.4 1209.06 260.9 1208.67 261.4 1209.32 261.9 1209.01 262.4 1209.87 262.9 1210.55 263.4 1212.42 263.9 1213.98 264.4 1215.79 264.9 1217.38 265.4 1218.75 265.9 1221.38 266.4 1222.66 266.9 1224.8 267.4 1226.94 267.9 1229.66 268.4 1230.51 268.9 1232.13 269.4 1234.16 269.9 1235.95 270.4 1237.05 270.9 1238.22 271.4 1238.77 271.9 1239.83 272.4 1241.18 272.9 1241.42 273.4 1241.69 273.9 1242.24 274.4 1243.18 274.9 1243.59 275.4 1243.34 275.9 1243.06 276.4 1244.03 276.9 1243.28 277.4 1243.57 277.9 1243.67 278.4 1243.5 278.9 1243.39 279.4 1243.95 279.9 1243.42 280.4 1242.72 280.9 1242.92 281.4 1243.48 281.9 1242.85 282.4 1242.43 282.9 1242.98 283.4 1242.7 283.9 1242.41 284.4 1242.45 284.9 1241.97 285.4 1242.01 285.9 1241.99 286.4 1241.43 286.9 1241.88 287.4 1240.9 287.9 1241.8 288.4 1240.9 288.9 1240.79 289.4 1240.02 289.9 1240.49 290.4 1239.76 290.9 1240.06 291.4 1239.71 291.9 1239.23 292.4 1239.92 292.9 1239.13 293.4 1238.64 293.9 1238.42 294.4 1238.35 294.9 1237.91 295.4 1237.8 295.9 1236.88 296.4 1236.66 296.9 1235.86 297.4 1235.15 297.9 1234.95 298.4 1233.54 298.9 1232.27 299.4 1231.93 299.9 1230.19 300.4 1229.01 300.9 1227.19 301.4 1225.09 301.9 1222.5 302.4 1220.21 302.9 1216.08 303.4 1213.17 303.9 1208.54 304.4 1204 304.9 1198.5 305.4 1193.14 305.9 1186.63 306.4 1179.38 306.9 1172.09 307.4 1164.31 307.9 1155.75 308.4 1148.02 308.9 1138.55 309.4 1129.4 309.9 1121.27 310.4 1112.85 310.9 1105.14 311.4 1098.81 311.9 1093.31 312.4 1090.68 312.9 1089.31 313.4 1089.04 313.9 1090.98 314.4 1094.61 314.9 1100.3 315.4 1107.5 315.9 1115.02 316.4 1123.59 316.9 1132.15 317.4 1141.32 317.9 1150.2 318.4 1159.03 318.9 1167.36 319.4 1175.33 319.9 1182.43 320.4 1189.52 320.9 1195.55 321.4 1201.58 321.9 1206.97 322.4 1211.81 322.9 1215.36 323.4 1219.17 323.9 1222.54 324.4 1225.13 324.9 1227.91 325.4 1230.08 325.9 1231.75 326.4 1234.16 326.9 1234.84 327.4 1236.28 327.9 1236.64 328.4 1238.46 328.9 1239.1 329.4 1239.78 329.9 1239.62 330.4 1240.92 330.9 1241.23 331.4 1242.08 331.9 1242.37 332.4 1242.6 332.9 1243 333.4 1243.93 333.9 1244.21 334.4 1243.54 334.9 1244.26 335.4 1244.88 335.9 1244.74 336.4 1245.19 336.9 1245.15 337.4 1245.97 337.9 1245.77 338.4 1245.54 338.9 1246.14 339.4 1245.88 339.9 1246.22 340.4 1245.43 340.9 1245.01 341.4 1245.76 341.9 1245.48 342.4 1244.91 342.9 1244.32 343.4 1245.89 343.9 1246.17 344.4 1246.19 344.9 1246.65 345.4 1247.18 345.9 1246.98 346.4 1248.18 346.9 1247.56 347.4 1248.25 347.9 1248.44 348.4 1248.44 348.9 1248.5 349.4 1249.21 349.9 1248.48 350.4 1249.14 350.9 1249.8 351.4 1249.07 351.9 1248.9 352.4 1249.34 352.9 1248.58 353.4 1249.41 353.9 1249.34 354.4 1249.54 354.9 1249.59 355.4 1250.17 355.9 1250.05 356.4 1249.74 356.9 1250.59 357.4 1249.85 357.9 1250.74 358.4 1250.1 358.9 1249.99 359.4 1250.2 359.9 1250.89 360.4 1250.47 360.9 1250.46 361.4 1249.93 361.9 1250.53 362.4 1250.47 362.9 1250.48 363.4 1250.37 363.9 1250.13 364.4 1251.15 364.9 1250.41 365.4 1250.98 365.9 1251 366.4 1250.89 366.9 1250.91 367.4 1251.12 367.9 1250.8 368.4 1250.92 368.9 1251.09 369.4 1251.07 369.9 1250.93 370.4 1250.13 370.9 1251.08 371.4 1250.68 371.9 1251.54 372.4 1251.59 372.9 1251.26 373.4 1251.28 373.9 1250.5 374.4 1251.17 374.9 1250.98 375.4 1251.9 375.9 1250.82 376.4 1252.08 376.9 1251.26 377.4 1250.63 377.9 1251.99 378.4 1251.3 378.9 1251.52 379.4 1251.79 379.9 1250.87 380.4 1251.27 380.9 1251.5 381.4 1251.91 381.9 1251.43 382.4 1251.71 382.9 1250.9 383.4 1251.72 383.9 1251.23 384.4 1251.44 384.9 1251.61 385.4 1251.9 385.9 1251.37 386.4 1251.77 386.9 1251.53 387.4 1251.87 387.9 1251.5 388.4 1252.16 388.9 1251.33 389.4 1251.34 389.9 1252.16 390.4 1251.47 390.9 1251.97 391.4 1252 391.9 1251.18 392.4 1251.68 392.9 1251.62 393.4 1251.76 393.9 1251.29 394.4 1251.89 394.9 1251.91 395.4 1251.46 395.9 1251.87 396.4 1251.95 396.9 1251.29 397.4 1251.87 397.9 1252.22 398.4 1252.18 398.9 1251.55 399.4 1251.67 399.9 1251.95 400.4 1252.1 400.9 1252.25 401.4 1252.01 401.9 1252.27 402.4 1251.77 402.9 1252.65 403.4 1251.96 403.9 1251.7 404.4 1251.84 404.9 1251.42 405.4 1251.8 405.9 1251.98 406.4 1252.29 406.9 1252.54 407.4 1251.88 407.9 1251.95 408.4 1252.49 408.9 1252.64 409.4 1252.57 409.9 1252.43 410.4 1251.97 410.9 1252.21 411.4 1251.89 411.9 1252.22 412.4 1252.93 412.9 1253.07 413.4 1252.46 413.9 1252.8 414.4 1253.09 414.9 1252.28 415.4 1252.21 415.9 1252.49 416.4 1252.01 416.9 1253.01 417.4 1252.77 417.9 1252.73 418.4 1252.88 418.9 1253.07 419.4 1252.92 419.9 1252.53 420.4 1253.21 420.9 1252.83 421.4 1253.15 421.9 1252.83 422.4 1253.11 422.9 1252.59 423.4 1253.21 423.9 1253.09 424.4 1253.6 424.9 1252.97 425.4 1252.98 425.9 1253.56 426.4 1252.65 426.9 1253.59 427.4 1253.37 427.9 1253.27 428.4 1253.49 428.9 1253.39 429.4 1253.2 429.9 1253.8 430.4 1253.26 430.9 1253.64 431.4 1253.56 431.9 1253.4 432.4 1253.47 432.9 1253.81 433.4 1253.62 433.9 1254.24 434.4 1254.1 434.9 1253.67 435.4 1254.21 435.9 1253.06 436.4 1254.51 436.9 1253.49 437.4 1253.52 437.9 1254.38 438.4 1253.45 438.9 1253.79 439.4 1254.19 439.9 1253.38 440.4 1254.07 440.9 1254.47 441.4 1253.93 441.9 1254.72 442.4 1253.92 442.9 1254.75 443.4 1254.42 443.9 1254.35 444.4 1254.24 444.9 1254 445.4 1254.72 445.9 1253.95 446.4 1254.37 446.9 1254.62 447.4 1254.55 447.9 1254.63 448.4 1254.17 448.9 1253.95 449.4 1254.48 449.9 1254.35 450.4 1254.78 450.9 1253.72 451.4 1254.4 451.9 1254.55 452.4 1254.24 452.9 1253.84 453.4 1254.4 453.9 1254.75 454.4 1254.14 454.9 1254.04 455.4 1254 455.9 1253.98 456.4 1253.68 456.9 1255.36 457.4 1254.15 457.9 1254.59 458.4 1254.53 458.9 1253.84 459.4 1254.15 459.9 1254.48 460.4 1254.18 460.9 1253.92 461.4 1253.13 461.9 1252.95 462.4 1252.95 462.9 1253.19 463.4 1252.09 463.9 1252.22 464.4 1251.99 464.9 1251.43 465.4 1250.67 465.9 1249.92 466.4 1249.84 466.9 1248.9 467.4 1248.54 467.9 1247.61 468.4 1246.98 468.9 1246.38 469.4 1245.6 469.9 1245.73 470.4 1244.43 470.9 1244.64 471.4 1244.04 471.9 1244.16 472.4 1243.34 472.9 1243.97 473.4 1244.17 473.9 1244.94 474.4 1245.21 474.9 1245.48 475.4 1245.88 475.9 1246.53 476.4 1247.51 476.9 1248.26 477.4 1248.67 477.9 1249.52 478.4 1249.2 478.9 1250.65 479.4 1251.58 479.9 1251.46 480.4 1251.7 480.9 1252.83 481.4 1252.1 481.9 1253.53 482.4 1253.03 482.9 1253.89 483.4 1253.58 483.9 1254.72 484.4 1254.42 484.9 1254.36 485.4 1254.7 485.9 1255.31 486.4 1255.47 486.9 1255.11 487.4 1255.03 487.9 1255.7 488.4 1255.28 488.9 1255.09 489.4 1256 489.9 1254.82 490.4 1255.53 490.9 1256.01 491.4 1255.64 491.9 1255.61 492.4 1255.87 492.9 1255.23 493.4 1255.59 493.9 1255.61 494.4 1255.99 494.9 1255.82 495.4 1255.71 495.9 1256.14 496.4 1256.19 496.9 1255.32 497.4 1256.65 497.9 1255.91 498.4 1255.63 498.9 1256.4 499.4 1254.97 499.9 1255.41 500.4 1255.95 500.9 1255.63 501.4 1255.47 501.9 1255.79 502.4 1256.41 502.9 1255.92 503.4 1256.21 503.9 1256.18 504.4 1255.93 504.9 1255.96 505.4 1255.72 505.9 1256.03 506.4 1256.23 506.9 1255.89 507.4 1255.94 507.9 1256.13 508.4 1255.98 508.9 1256.06 509.4 1255.31 509.9 1256.07 510.4 1255.37 510.9 1256.13 511.4 1255.85 511.9 1255.73 512.4 1255.44 512.9 1256.16 513.4 1255.67 513.9 1255.64 514.4 1255.11 514.9 1256.25 515.4 1255.5 515.9 1255.36 516.4 1256.01 516.9 1255.76 517.4 1254.68 517.9 1255.44 518.4 1255.96 518.9 1255.31 519.4 1255.1 519.9 1255.6 520.4 1255.54 520.9 1254.95 521.4 1255 521.9 1255.02 522.4 1255.03 522.9 1254.77 523.4 1254.98 523.9 1255.46 524.4 1254.72 524.9 1255.64 525.4 1255.5 525.9 1255.63 526.4 1255.69 526.9 1255.2 527.4 1255 527.9 1255.98 528.4 1255.63 528.9 1255.86 529.4 1256.1 529.9 1255.38 530.4 1255.86 530.9 1255.92 531.4 1255.65 531.9 1255.74 532.4 1256.08 532.9 1256.25 533.4 1256.6 533.9 1256.51 534.4 1256.73 534.9 1256.12 535.4 1256.39 535.9 1256.31 536.4 1256.25 536.9 1256.2 537.4 1256.86 537.9 1256.93 538.4 1256.46 538.9 1255.54 539.4 1256.08 539.9 1256.21 540.4 1257.08 540.9 1256.9 541.4 1256.45 541.9 1256.8 542.4 1256.67 542.9 1256.54 543.4 1256.54 543.9 1256.27 544.4 1256.25 544.9 1256.55 545.4 1256.25 545.9 1256.75 546.4 1256.53 546.9 1256.35 547.4 1256.76 547.9 1256.39 548.4 1256.54 548.9 1256.35 549.4 1256.89 549.9 1256.73 550.4 1256.62 550.9 1256.63 551.4 1256.87 551.9 1256.55 552.4 1256.1 552.9 1257.3 553.4 1256.77 553.9 1257 554.4 1256.45 554.9 1256.21 555.4 1256.38 555.9 1256.96 556.4 1256.63 556.9 1256.71 557.4 1256.62 557.9 1256.26 558.4 1257.35 558.9 1256.48 559.4 1256.47 559.9 1256.42 560.4 1256.92 560.9 1257.23 561.4 1256.88 561.9 1256.96 562.4 1256.74 562.9 1257.29 563.4 1256.92 563.9 1256.98 564.4 1256.49 564.9 1257.26 565.4 1257.08 565.9 1256.69 566.4 1256.63 566.9 1257.01 567.4 1256.44 567.9 1256.91 568.4 1256.6 568.9 1256.52 569.4 1257.25 569.9 1256.53 570.4 1256.28 570.9 1257.4 571.4 1256.68 571.9 1257.27 572.4 1256.91 572.9 1256.58 573.4 1256.36 573.9 1256.85 574.4 1257.01 574.9 1256.7 575.4 1256.79 575.9 1256.66 576.4 1256.89 576.9 1256.98 577.4 1256.86 577.9 1256.25 578.4 1256.67 578.9 1256.81 579.4 1256.78 579.9 1256.31 580.4 1256.75 580.9 1256.43 581.4 1256.39 581.9 1257.09 582.4 1256.64 582.9 1257.34 583.4 1257.34 583.9 1256.33 584.4 1257.05 584.9 1256.45 585.4 1257.17 585.9 1257.35 586.4 1257.45 586.9 1257.41 587.4 1256.51 587.9 1257.08 588.4 1256.48 588.9 1257.15 589.4 1257.28 589.9 1256.95 590.4 1257.3 590.9 1256.73 591.4 1256.85 591.9 1256.62 592.4 1256.41 592.9 1257.06 593.4 1257.03 593.9 1256.68 594.4 1256.75 594.9 1256.53 595.4 1257.28 595.9 1257.24 596.4 1256.88 596.9 1256.92 597.4 1256.91 597.9 1256.76 598.4 1257.19 598.9 1257.4 599.4 1256.38 599.9 1257.37 600.4 1256.77 600.9 1256.96 601.4 1256.6 601.9 1256.91 602.4 1257.05 602.9 1257 603.4 1257.97 603.9 1256.96 604.4 1257.01 604.9 1257 605.4 1257.27 605.9 1257.36 606.4 1257.37 606.9 1257.11 607.4 1257.2 607.9 1256.33 608.4 1257.16 608.9 1256.8 609.4 1257.23 609.9 1256.95 610.4 1257.34 610.9 1257.05 611.4 1257.36 611.9 1256.46 612.4 1257.5 612.9 1256.69 613.4 1257.71 613.9 1256.68 614.4 1257.18 614.9 1256.84 615.4 1257.22 615.9 1257.54 616.4 1256.88 616.9 1257.31 617.4 1257.48 617.9 1256.85 618.4 1257.49 618.9 1257.01 619.4 1257.4 619.9 1256.85 620.4 1258.27 620.9 1257.18 621.4 1256.53 621.9 1257.38 622.4 1257.11 622.9 1256.69 623.4 1257.11 623.9 1256.81 624.4 1257.28 624.9 1256.92 625.4 1256.89 625.9 1257.31 626.4 1257.36 626.9 1257.25 627.4 1257.36 627.9 1257.23 628.4 1257.36 628.9 1257.68 629.4 1257.59 629.9 1257.47 630.4 1257.81 630.9 1256.71 631.4 1257.62 631.9 1256.63 632.4 1257.05 632.9 1256.98 633.4 1257.47 633.9 1257.79 634.4 1257.08 634.9 1256.68 635.4 1257.63 635.9 1257.26 636.4 1256.83 636.9 1258.05 637.4 1257.46 637.9 1257.39 638.4 1257.38 638.9 1257.22 639.4 1257.54 639.9 1257.37 640.4 1257.76 640.9 1256.83 641.4 1257.35 641.9 1257.72 642.4 1256.96 642.9 1257.62 643.4 1257.1 643.9 1257.7 644.4 1257.82 644.9 1257.6 645.4 1257.38 645.9 1257.13 646.4 1257.16 646.9 1257.48 647.4 1257.39 647.9 1257.08 648.4 1257.45 648.9 1257.02 649.4 1257.83 649.9 1257.7 650.4 1257.42 650.9 1257.8 651.4 1257.35 651.9 1257.91 652.4 1257.47 652.9 1256.99 653.4 1256.77 653.9 1258.08 654.4 1256.88 654.9 1257.42 655.4 1257.76 655.9 1257.35 656.4 1257.15 656.9 1257.39 657.4 1257.53 657.9 1257.53 658.4 1257.65 658.9 1257.1 659.4 1257.87 659.9 1257.58 660.4 1257.75 660.9 1257.8 661.4 1257.67 661.9 1257.09 662.4 1257.25 662.9 1257.24 663.4 1257.16 663.9 1257.3 664.4 1256.92 664.9 1257.52 665.4 1257.5 665.9 1257.88 666.4 1257.35 666.9 1258.11 667.4 1257.5 667.9 1257.42 668.4 1257.55 668.9 1258.03 669.4 1257.88 669.9 1257.65 670.4 1257.54 670.9 1257.39 671.4 1257.09 671.9 1257.49 672.4 1257.43 672.9 1258.11 673.4 1257.4 673.9 1258.01 674.4 1257.59 674.9 1257.44 675.4 1257.79 675.9 1256.81 676.4 1256.91 676.9 1258.19 677.4 1257.7 677.9 1257.71 678.4 1257.52 678.9 1257.63 679.4 1257.55 679.9 1257.55 680.4 1257.66 680.9 1257.69 681.4 1257.79 681.9 1257.25 682.4 1257.46 682.9 1258.18 683.4 1257.49 683.9 1257.73 684.4 1257.67 684.9 1257.5 685.4 1258.25 685.9 1257.83 686.4 1256.99 686.9 1258 687.4 1257.2 687.9 1257 688.4 1257.39 688.9 1257.92 689.4 1257.06 689.9 1257.95 690.4 1257.34 690.9 1258.06 691.4 1257.9 691.9 1257.39 692.4 1256.84 692.9 1257.64 693.4 1256.91 693.9 1257.92 694.4 1257.5 694.9 1258.07 695.4 1257.46 695.9 1257.32 696.4 1257.82 696.9 1257.31 697.4 1257.68 697.9 1257.63 698.4 1257.42 698.9 1257.22 699.4 1257.88 699.9 1258.24 700.4 1257.59 700.9 1257.37 701.4 1257.58 701.9 1257.27 702.4 1257.03 702.9 1258.05 703.4 1257.74 703.9 1257.58 704.4 1258.3 704.9 1257.7 705.4 1257.69 705.9 1258 706.4 1257.5 706.9 1257.83 707.4 1257.85 707.9 1257.97 708.4 1257.85 708.9 1258.21 709.4 1258.01 709.9 1257.98 710.4 1258.02 710.9 1257.54 711.4 1257.43 711.9 1257.65 712.4 1258.12 712.9 1257.31 713.4 1257.87 713.9 1257.5 714.4 1257.6 714.9 1257.47 715.4 1257.14 715.9 1258.24 716.4 1257.67 716.9 1257.77 717.4 1257.79 717.9 1256.82 718.4 1258.23 718.9 1258.33 719.4 1257.75 719.9 1257.87 720.4 1258.01 720.9 1258 721.4 1258.1 721.9 1258.03 722.4 1257.73 722.9 1257.98 723.4 1257.4 723.9 1257.77 724.4 1258.19 724.9 1258.28 725.4 1257.98 725.9 1258.07 726.4 1257.65 726.9 1258.11 727.4 1257.77 727.9 1257.5 728.4 1258.26 728.9 1257.85 729.4 1257.93 729.9 1257.43 730.4 1257.84 730.9 1257.96 731.4 1258.03 731.9 1258.02 732.4 1258 732.9 1258.15 733.4 1258.27 733.9 1258.22 734.4 1257.56 734.9 1257.92 735.4 1258.31 735.9 1258.19 736.4 1257.78 736.9 1257.87 737.4 1257.84 737.9 1257.95 738.4 1257.19 738.9 1257.17 739.4 1257.69 739.9 1257.39 740.4 1257.54 740.9 1257.55 741.4 1257.92 741.9 1257.84 742.4 1258.35 742.9 1257.92 743.4 1257.81 743.9 1257.86 744.4 1257.83 744.9 1257.57 745.4 1257.48 745.9 1258.36 746.4 1257.67 746.9 1257.62 747.4 1257.49 747.9 1257.68 748.4 1257.45 748.9 1257.65 749.4 1257.32 749.9 1257.4 750.4 1258.62 750.9 1257.98 751.4 1258.04 751.9 1258.37 752.4 1258.09 752.9 1258.06 753.4 1257.82 753.9 1258.27 754.4 1257.69 754.9 1257.85 755.4 1257.79 755.9 1258.36 756.4 1257.95 756.9 1258 757.4 1258.46 757.9 1258.46 758.4 1258.12 758.9 1258.08 759.4 1257.83 759.9 1257.98 760.4 1258.27 760.9 1258.16 761.4 1258.45 761.9 1258.15 762.4 1257.65 762.9 1257.75 763.4 1257.29 763.9 1258.15 764.4 1257.7 764.9 1258.19 765.4 1257.88 765.9 1258.08 766.4 1257.89 766.9 1257.95 767.4 1258.17 767.9 1257.87 768.4 1257.96 768.9 1257.87 769.4 1257.9 769.9 1257.85 770.4 1257.68 770.9 1257.97 771.4 1258.22 771.9 1258.06 772.4 1257.82 772.9 1257.67 773.4 1258.74 773.9 1258.47 774.4 1257.68 774.9 1257.63 775.4 1257.55 775.9 1258.41 776.4 1257.5 776.9 1258.08 777.4 1257.71 777.9 1258.09 778.4 1257.73 778.9 1258.01 779.4 1258.05 779.9 1258.38 780.4 1258.53 780.9 1258.23 781.4 1258.18 781.9 1258.62 782.4 1257.57 782.9 1258.71 783.4 1258 783.9 1257.96 784.4 1258.56 784.9 1257.97 785.4 1258.1 785.9 1258.38 786.4 1258.53 786.9 1257.72 787.4 1258.34 787.9 1258.25 788.4 1258.07 788.9 1258.66 789.4 1258.94 789.9 1258.39 790.4 1258.36 790.9 1257.88 791.4 1258.05 791.9 1257.99 792.4 1258.29 792.9 1258.24 793.4 1257.92 793.9 1258.09 794.4 1257.78 794.9 1258.02 795.4 1258.16 795.9 1258.21 796.4 1258.13 796.9 1258.22 797.4 1258.12 797.9 1257.9 798.4 1258.44 798.9 1257.97 799.4 1258.01 799.9 1258.51 800.4 1258.18 800.9 1258.3 801.4 1258.75 801.9 1257.94 802.4 1257.8 802.9 1258.9 803.4 1258 803.9 1257.95 804.4 1258.91 804.9 1258.3 805.4 1258.14 805.9 1257.51 806.4 1258.17 806.9 1257.96 807.4 1258.41 807.9 1257.55 808.4 1258.29 808.9 1258.74 809.4 1258.27 809.9 1258.01 810.4 1257.39 810.9 1258.07 811.4 1258.02 811.9 1257.91 812.4 1257.79 812.9 1258.67 813.4 1258.7 813.9 1257.88 814.4 1257.98 814.9 1257.97 815.4 1257.87 815.9 1258.38 816.4 1258.43 816.9 1258.58 817.4 1258.28 817.9 1258.37 818.4 1258.74 818.9 1258.43 819.4 1258.39 819.9 1257.67 820.4 1258.22 820.9 1258.17 821.4 1258.31 821.9 1258.7 822.4 1258.1 822.9 1258.8 823.4 1258 823.9 1258.84 824.4 1257.94 824.9 1258.3 825.4 1257.61 825.9 1257.88 826.4 1257.48 826.9 1258.5 827.4 1258.22 827.9 1257.49 828.4 1258.44 828.9 1258.12 829.4 1257.9 829.9 1258.21 830.4 1258.41 830.9 1258.3 831.4 1258.36 831.9 1258.54 832.4 1258.68 832.9 1257.88 833.4 1258.52 833.9 1257.86 834.4 1258.04 834.9 1257.79 835.4 1258.1 835.9 1258.75 836.4 1258.46 836.9 1258.91 837.4 1258.16 837.9 1258.83 838.4 1257.57 838.9 1258.6 839.4 1258.73 839.9 1258.62 840.4 1258.18 840.9 1258.17 841.4 1258.37 841.9 1259.08 842.4 1258.73 842.9 1258.35 843.4 1257.8 843.9 1258.76 844.4 1258.13 844.9 1258.74 845.4 1257.9 845.9 1258.04 846.4 1258.52 846.9 1258.53 847.4 1258.78 847.9 1258.47 848.4 1258.35 848.9 1258.65 849.4 1258.36 849.9 1258.14 850.4 1258.43 850.9 1258.91 851.4 1258.55 851.9 1258.6 852.4 1258.77 852.9 1258.64 853.4 1258.12 853.9 1258.35 854.4 1258.61 854.9 1259.09 855.4 1258.53 855.9 1258.17 856.4 1258.49 856.9 1258.49 857.4 1258.04 857.9 1258.59 858.4 1259.36 858.9 1258.21 859.4 1258.65 859.9 1258.85 860.4 1258.44 860.9 1257.84 861.4 1258.63 861.9 1258.33 862.4 1258.28 862.9 1258.62 863.4 1258.54 863.9 1258.86 864.4 1258.96 864.9 1258.2 865.4 1258.82 865.9 1258.49 866.4 1258.61 866.9 1259.03 867.4 1258.47 867.9 1258.34 868.4 1258.07 868.9 1259.15 869.4 1258.73 869.9 1258.71 870.4 1258.35 870.9 1259.11 871.4 1257.84 871.9 1258.91 872.4 1259.23 872.9 1259.11 873.4 1258.71 873.9 1258.74 874.4 1258.53 874.9 1258.49 875.4 1258.58 875.9 1258.45 876.4 1258.54 876.9 1258.34 877.4 1258.58 877.9 1258.76 878.4 1259.06 878.9 1258.59 879.4 1258.78 879.9 1258.5 880.4 1258.92 880.9 1258.38 881.4 1258.18 881.9 1258.12 882.4 1258.34 882.9 1258.53 883.4 1259.12 883.9 1258.75 884.4 1258.66 884.9 1258.14 885.4 1258.41 885.9 1258.44 886.4 1259.6 886.9 1259.1 887.4 1259.04 887.9 1258.17 888.4 1258.5 888.9 1258.52 889.4 1258.69 889.9 1258.14 890.4 1258.83 890.9 1258.61 891.4 1257.99 891.9 1258.51 892.4 1259.04 892.9 1258.92 893.4 1258.9 893.9 1258.11 894.4 1258.95 894.9 1258.75 895.4 1258.72 895.9 1258.22 896.4 1258.23 896.9 1259.14 897.4 1258.9 897.9 1259.07 898.4 1259.23 898.9 1258.52 899.4 1258.5 899.9 1258.2 900.4 1259.15 900.9 1258.78 901.4 1258.66 901.9 1258.53 902.4 1258.77 902.9 1259.53 903.4 1258.51 903.9 1258.11 904.4 1259.03 904.9 1258.69 905.4 1259.38 905.9 1258.83 906.4 1258.99 906.9 1258.15 907.4 1258.61 907.9 1258.56 908.4 1258.75 908.9 1258.93 909.4 1258.77 909.9 1258.63" stroke="#000" stroke-width="1.75" fill="none" stroke-linejoin="round"/>
<path d="M84.9 1452.93 85.4 1452.44 85.9 1452.67 86.4 1452.59 86.9 1452.5 87.4 1452.56 87.9 1452.58 88.4 1452.65 88.9 1452.73 89.4 1452.83 89.9 1452.72 90.4 1452.86 90.9 1452.76 91.4 1452.72 91.9 1452.68 92.4 1452.57 92.9 1452.49 93.4 1452.72 93.9 1452.71 94.4 1452.79 94.9 1452.79 95.4 1452.56 95.9 1452.65 96.4 1452.59 96.9 1452.91 97.4 1452.75 97.9 1452.79 98.4 1452.64 98.9 1452.59 99.4 1452.69 99.9 1452.77 100.4 1452.85 100.9 1452.56 101.4 1452.83 101.9 1452.66 102.4 1452.71 102.9 1452.73 103.4 1452.72 103.9 1452.85 104.4 1452.9 104.9 1452.82 105.4 1452.68 105.9 1452.82 106.4 1452.81 106.9 1452.86 107.4 1452.75 107.9 1452.45 108.4 1452.55 108.9 1452.58 109.4 1452.75 109.9 1452.56 110.4 1452.68 110.9 1452.56 111.4 1452.31 111.9 1452.45 112.4 1452.49 112.9 1452.42 113.4 1452.1 113.9 1452.33 114.4 1452.13 114.9 1451.85 115.4 1452.02 115.9 1451.75 116.4 1451.78 116.9 1452.11 117.4 1452.18 117.9 1451.88 118.4 1451.69 118.9 1451.8 119.4 1451.44 119.9 1451.11 120.4 1450.73 120.9 1451.04 121.4 1450.36 121.9 1450.03 122.4 1450.08 122.9 1449.86 123.4 1449.34 123.9 1449.16 124.4 1448.45 124.9 1447.86 125.4 1447.16 125.9 1446.15 126.4 1445.28 126.9 1444.48 127.4 1442.73 127.9 1441.48 128.4 1439.97 128.9 1438.09 129.4 1436.3 129.9 1434.05 130.4 1432.09 130.9 1429.87 131.4 1427.57 131.9 1424.88 132.4 1421.63 132.9 1417.92 133.4 1413.6 133.9 1406.77 134.4 1396.65 134.9 1383 135.4 1363.98 135.9 1340.33 136.4 1314.63 136.9 1295.16 137.4 1291.81 137.9 1307.77 138.4 1334.64 138.9 1362.09 139.4 1385.34 139.9 1403.27 140.4 1416.44 140.9 1425.69 141.4 1431.83 141.9 1435.91 142.4 1439.28 142.9 1441.52 143.4 1443.19 143.9 1444.82 144.4 1445.94 144.9 1446.78 145.4 1447.7 145.9 1448.48 146.4 1449.24 146.9 1449.39 147.4 1450.02 147.9 1450.36 148.4 1450.68 148.9 1450.79 149.4 1451.42 149.9 1451.66 150.4 1451.91 150.9 1451.92 151.4 1452.25 151.9 1452.26 152.4 1452.47 152.9 1452.4 153.4 1452.61 153.9 1452.63 154.4 1452.63 154.9 1452.82 155.4 1452.81 155.9 1452.89 156.4 1453.08 156.9 1453.12 157.4 1453.59 157.9 1453.62 158.4 1453.58 158.9 1453.59 159.4 1453.4 159.9 1453.63 160.4 1453.42 160.9 1453.59 161.4 1453.66 161.9 1453.72 162.4 1453.95 162.9 1453.74 163.4 1454.27 163.9 1453.86 164.4 1454.11 164.9 1453.78 165.4 1454.19 165.9 1453.9 166.4 1454.14 166.9 1454.14 167.4 1454.28 167.9 1454.27 168.4 1454.25 168.9 1454.18 169.4 1454.52 169.9 1454.17 170.4 1454.25 170.9 1454.19 171.4 1454.29 171.9 1454.14 172.4 1454.23 172.9 1454.38 173.4 1454.22 173.9 1454.39 174.4 1454.23 174.9 1454.54 175.4 1454.31 175.9 1454.6 176.4 1454.41 176.9 1454.32 177.4 1454.48 177.9 1454.51 178.4 1454.57 178.9 1454.54 179.4 1454.46 179.9 1454.14 180.4 1454.45 180.9 1454.28 181.4 1454.34 181.9 1454.45 182.4 1454.12 182.9 1454.4 183.4 1454.53 183.9 1454.21 184.4 1454.03 184.9 1454.23 185.4 1453.98 185.9 1454.03 186.4 1453.95 186.9 1453.41 187.4 1453.52 187.9 1453.04 188.4 1452.88 188.9 1452.69 189.4 1451.84 189.9 1451 190.4 1449.63 190.9 1447.61 191.4 1444.59 191.9 1440.63 192.4 1435.86 192.9 1431.41 193.4 1429 193.9 1429.43 194.4 1432.92 194.9 1437.79 195.4 1442.02 195.9 1445.65 196.4 1448.65 196.9 1450.31 197.4 1451.19 197.9 1452.18 198.4 1453.09 198.9 1453.55 199.4 1453.31 199.9 1453.62 200.4 1453.72 200.9 1453.69 201.4 1453.33 201.9 1453.67 202.4 1453.41 202.9 1453.15 203.4 1452.77 203.9 1452.83 204.4 1452.95 204.9 1453.12 205.4 1453.45 205.9 1453.63 206.4 1454.09 206.9 1454.23 207.4 1454.12 207.9 1454.31 208.4 1454.55 208.9 1454.45 209.4 1454.79 209.9 1454.52 210.4 1454.66 210.9 1454.73 211.4 1454.49 211.9 1454.86 212.4 1454.65 212.9 1454.58 213.4 1454.59 213.9 1454.44 214.4 1454.49 214.9 1454.93 215.4 1454.68 215.9 1454.65 216.4 1454.72 216.9 1454.77 217.4 1454.56 217.9 1454.64 218.4 1454.7 218.9 1454.8 219.4 1454.67 219.9 1454.87 220.4 1454.56 220.9 1454.52 221.4 1454.34 221.9 1454.51 222.4 1454.58 222.9 1454.41 223.4 1454.38 223.9 1454.2 224.4 1454.2 224.9 1454.16 225.4 1454.14 225.9 1454.22 226.4 1454.04 226.9 1453.98 227.4 1453.88 227.9 1453.47 228.4 1453.54 228.9 1453.11 229.4 1452.62 229.9 1452.37 230.4 1452 230.9 1451.18 231.4 1450.93 231.9 1449.35 232.4 1447.64 232.9 1444.52 233.4 1440.54 233.9 1434.68 234.4 1426.81 234.9 1417.76 235.4 1408.28 235.9 1401.22 236.4 1399.31 236.9 1404.26 237.4 1412.82 237.9 1422.3 238.4 1430.67 238.9 1437.81 239.4 1442.79 239.9 1446.67 240.4 1448.43 240.9 1450.35 241.4 1451.33 241.9 1451.91 242.4 1452.42 242.9 1452.86 243.4 1452.89 243.9 1453.59 244.4 1453.55 244.9 1453.67 245.4 1453.93 245.9 1453.64 246.4 1453.94 246.9 1454.02 247.4 1453.98 247.9 1454.28 248.4 1454.35 248.9 1453.98 249.4 1453.75 249.9 1453.66 250.4 1453.38 250.9 1453.43 251.4 1453.57 251.9 1453.7 252.4 1453.95 252.9 1454.29 253.4 1454.53 253.9 1454.81 254.4 1454.62 254.9 1454.78 255.4 1454.95 255.9 1455.15 256.4 1454.93 256.9 1455.33 257.4 1455.39 257.9 1455.09 258.4 1455.39 258.9 1454.92 259.4 1455.24 259.9 1455.02 260.4 1455.44 260.9 1455.41 261.4 1455.37 261.9 1455.21 262.4 1455.13 262.9 1455.37 263.4 1455.23 263.9 1455.4 264.4 1455.06 264.9 1455.35 265.4 1455.35 265.9 1454.91 266.4 1455.03 266.9 1455.08 267.4 1455.03 267.9 1454.78 268.4 1454.91 268.9 1454.53 269.4 1454.37 269.9 1453.62 270.4 1453.03 270.9 1452.41 271.4 1450.97 271.9 1450.08 272.4 1449.32 272.9 1448.73 273.4 1448.62 273.9 1449.97 274.4 1450.66 274.9 1452 275.4 1452.98 275.9 1453.55 276.4 1454.21 276.9 1454.02 277.4 1454.59 277.9 1454.6 278.4 1454.43 278.9 1454.34 279.4 1454.31 279.9 1454.16 280.4 1453.92 280.9 1454.27 281.4 1454.57 281.9 1454.68 282.4 1454.98 282.9 1454.77 283.4 1455.06 283.9 1455.48 284.4 1455.28 284.9 1455.69 285.4 1455.78 285.9 1455.49 286.4 1455.48 286.9 1455.65 287.4 1455.73 287.9 1455.83 288.4 1455.68 288.9 1455.73 289.4 1455.59 289.9 1455.78 290.4 1455.63 290.9 1455.9 291.4 1455.86 291.9 1455.51 292.4 1455.81 292.9 1455.59 293.4 1455.9 293.9 1455.6 294.4 1455.93 294.9 1455.9 295.4 1456.02 295.9 1455.76 296.4 1455.7 296.9 1455.85 297.4 1455.45 297.9 1455.59 298.4 1455.5 298.9 1455.47 299.4 1455.14 299.9 1454.99 300.4 1454.76 300.9 1454.89 301.4 1454.1 301.9 1453.49 302.4 1452.35 302.9 1451.04 303.4 1449.81 303.9 1447.85 304.4 1447.18 304.9 1446.92 305.4 1447.61 305.9 1448.81 306.4 1450.3 306.9 1451.73 307.4 1453.21 307.9 1453.8 308.4 1454.44 308.9 1454.89 309.4 1455.27 309.9 1455.5 310.4 1455.48 310.9 1455.52 311.4 1455.65 311.9 1455.48 312.4 1455.64 312.9 1455.85 313.4 1455.45 313.9 1455.34 314.4 1455.11 314.9 1455.17 315.4 1455.03 315.9 1454.64 316.4 1454.44 316.9 1454.56 317.4 1454.43 317.9 1454.7 318.4 1454.78 318.9 1455.27 319.4 1455.41 319.9 1455.42 320.4 1455.46 320.9 1456 321.4 1455.5 321.9 1455.53 322.4 1455.3 322.9 1455.76 323.4 1455.64 323.9 1455.58 324.4 1455.32 324.9 1455.5 325.4 1455.31 325.9 1455.16 326.4 1455.19 326.9 1455.14 327.4 1454.91 327.9 1454.64 328.4 1454.53 328.9 1454.03 329.4 1453.31 329.9 1452.49 330.4 1450.99 330.9 1448.96 331.4 1446.01 331.9 1442.28 332.4 1437.84 332.9 1434.13 333.4 1431.67 333.9 1431.8 334.4 1435 334.9 1438.99 335.4 1443 335.9 1446.7 336.4 1449.26 336.9 1451.59 337.4 1452.57 337.9 1453.86 338.4 1454.09 338.9 1454.6 339.4 1455.09 339.9 1455.17 340.4 1455.05 340.9 1455.41 341.4 1455.28 341.9 1455.74 342.4 1455.57 342.9 1455.78 343.4 1455.84 343.9 1455.69 344.4 1456.01 344.9 1456.26 345.4 1455.9 345.9 1455.98 346.4 1456.15 346.9 1456.3 347.4 1456.02 347.9 1456.2 348.4 1456.24 348.9 1456.36 349.4 1456.1 349.9 1456.6 350.4 1456.55 350.9 1456.06 351.4 1456.15 351.9 1456.33 352.4 1456.19 352.9 1456.21 353.4 1456.29 353.9 1456.18 354.4 1456.19 354.9 1456.3 355.4 1456.19 355.9 1456.26 356.4 1456.29 356.9 1456.19 357.4 1455.88 357.9 1455.95 358.4 1455.31 358.9 1455.18 359.4 1455.01 359.9 1454.56 360.4 1454.62 360.9 1454.6 361.4 1454.88 361.9 1455.33 362.4 1455.68 362.9 1455.93 363.4 1456.17 363.9 1456.26 364.4 1456.29 364.9 1456.28 365.4 1456.4 365.9 1456.45 366.4 1456.47 366.9 1456.33 367.4 1456.69 367.9 1456.68 368.4 1456.57 368.9 1456.47 369.4 1456.72 369.9 1456.53 370.4 1456.54 370.9 1456.67 371.4 1456.51 371.9 1456.62 372.4 1456.53 372.9 1456.7 373.4 1456.68 373.9 1456.73 374.4 1456.69 374.9 1456.68 375.4 1456.7 375.9 1456.77 376.4 1456.51 376.9 1456.49 377.4 1456.68 377.9 1456.69 378.4 1456.64 378.9 1456.9 379.4 1456.75 379.9 1456.87 380.4 1456.71 380.9 1456.5 381.4 1456.5 381.9 1456.87 382.4 1456.72 382.9 1456.65 383.4 1456.91 383.9 1456.98 384.4 1456.79 384.9 1456.92 385.4 1456.69 385.9 1456.61 386.4 1456.51 386.9 1456.91 387.4 1456.53 387.9 1456.7 388.4 1456.77 388.9 1456.85 389.4 1456.5 389.9 1456.74 390.4 1456.66 390.9 1456.99 391.4 1456.75 391.9 1456.69 392.4 1457.04 392.9 1456.81 393.4 1456.91 393.9 1456.84 394.4 1456.77 394.9 1456.91 395.4 1456.69 395.9 1456.6 396.4 1456.7 396.9 1456.88 397.4 1456.73 397.9 1456.94 398.4 1456.88 398.9 1456.8 399.4 1456.92 399.9 1456.81 400.4 1456.79 400.9 1456.69 401.4 1456.69 401.9 1456.68 402.4 1456.81 402.9 1456.85 403.4 1456.72 403.9 1456.52 404.4 1456.34 404.9 1456.19 405.4 1455.78 405.9 1455.45 406.4 1454.88 406.9 1454.29 407.4 1453.3 407.9 1453.11 408.4 1452.96 408.9 1452.88 409.4 1453.78 409.9 1454.19 410.4 1454.73 410.9 1455.57 411.4 1455.66 411.9 1456.51 412.4 1456.23 412.9 1456.6 413.4 1456.77 413.9 1456.72 414.4 1456.68 414.9 1456.59 415.4 1456.69 415.9 1456.76 416.4 1456.89 416.9 1456.44 417.4 1456.86 417.9 1456.62 418.4 1456.7 418.9 1456.78 419.4 1456.71 419.9 1456.89 420.4 1456.57 420.9 1456.88 421.4 1456.66 421.9 1456.76 422.4 1456.8 422.9 1456.61 423.4 1456.87 423.9 1457.12 424.4 1456.71 424.9 1456.67 425.4 1457.01 425.9 1457.03 426.4 1456.48 426.9 1456.7 427.4 1456.6 427.9 1456.68 428.4 1456.56 428.9 1456.32 429.4 1456.26 429.9 1456.33 430.4 1455.87 430.9 1455.92 431.4 1455.95 431.9 1456.17 432.4 1456.13 432.9 1456.26 433.4 1456.24 433.9 1456.55 434.4 1456.8 434.9 1456.74 435.4 1456.9 435.9 1456.68 436.4 1456.88 436.9 1456.74 437.4 1456.69 437.9 1456.7 438.4 1456.97 438.9 1456.88 439.4 1456.76 439.9 1456.75 440.4 1456.9 440.9 1456.71 441.4 1456.94 441.9 1456.81 442.4 1456.67 442.9 1456.72 443.4 1456.58 443.9 1456.56 444.4 1456.62 444.9 1456.59 445.4 1456.58 445.9 1456.49 446.4 1456.45 446.9 1456.53 447.4 1456.19 447.9 1455.88 448.4 1456.27 448.9 1455.69 449.4 1455.2 449.9 1454.63 450.4 1453.71 450.9 1452.65 451.4 1451.44 451.9 1450.46 452.4 1449.98 452.9 1450.16 453.4 1451.01 453.9 1451.63 454.4 1453.51 454.9 1454.23 455.4 1454.87 455.9 1455.73 456.4 1455.84 456.9 1456.25 457.4 1456.23 457.9 1456.29 458.4 1456.69 458.9 1456.6 459.4 1456.39 459.9 1456.75 460.4 1456.81 460.9 1456.65 461.4 1456.81 461.9 1456.91 462.4 1456.9 462.9 1456.83 463.4 1456.86 463.9 1456.98 464.4 1456.78 464.9 1456.71 465.4 1456.7 465.9 1457.2 466.4 1456.58 466.9 1456.71 467.4 1456.41 467.9 1456.64 468.4 1456.56 468.9 1456.49 469.4 1456.48 469.9 1456.37 470.4 1455.9 470.9 1455.37 471.4 1454.95 471.9 1454.53 472.4 1454 472.9 1453.87 473.4 1454.03 473.9 1454.33 474.4 1455.07 474.9 1455.02 475.4 1455.7 475.9 1456.17 476.4 1456.1 476.9 1456.18 477.4 1456.84 477.9 1456.75 478.4 1456.73 478.9 1456.85 479.4 1456.55 479.9 1456.54 480.4 1456.94 480.9 1456.73 481.4 1456.47 481.9 1456.68 482.4 1456.92 482.9 1456.52 483.4 1456.43 483.9 1456.3 484.4 1456.58 484.9 1456.56 485.4 1456.43 485.9 1456.38 486.4 1456.33 486.9 1456.15 487.4 1455.96 487.9 1455.89 488.4 1455.28 488.9 1454.67 489.4 1453.37 489.9 1452.28 490.4 1451.14 490.9 1449.55 491.4 1448.53 491.9 1447.73 492.4 1448.52 492.9 1449.52 493.4 1451.07 493.9 1452.39 494.4 1453.57 494.9 1454.49 495.4 1455.31 495.9 1455.94 496.4 1455.93 496.9 1456.2 497.4 1456.27 497.9 1456.38 498.4 1456.67 498.9 1456.56 499.4 1456.52 499.9 1456.8 500.4 1456.78 500.9 1456.8 501.4 1456.8 501.9 1456.71 502.4 1456.93 502.9 1456.73 503.4 1456.87 503.9 1456.87 504.4 1457.02 504.9 1456.84 505.4 1456.99 505.9 1456.63 506.4 1456.91 506.9 1456.92 507.4 1456.91 507.9 1456.61 508.4 1457.01 508.9 1456.82 509.4 1456.81 509.9 1457.15 510.4 1456.89 510.9 1457.06 511.4 1456.68 511.9 1457.03 512.4 1456.96 512.9 1456.98 513.4 1456.8 513.9 1456.99 514.4 1456.91 514.9 1457.14 515.4 1456.87 515.9 1456.71 516.4 1457.1 516.9 1456.79 517.4 1456.91 517.9 1457.05 518.4 1457.19 518.9 1457.02 519.4 1457.05 519.9 1456.97 520.4 1456.96 520.9 1456.93 521.4 1456.99 521.9 1456.8 522.4 1456.96 522.9 1457.1 523.4 1456.95 523.9 1456.9 524.4 1457.02 524.9 1456.77 525.4 1456.85 525.9 1457.18 526.4 1456.93 526.9 1456.85 527.4 1456.63 527.9 1456.42 528.4 1456.21 528.9 1456.21 529.4 1456.25 529.9 1455.96 530.4 1456.1 530.9 1456.03 531.4 1456.24 531.9 1456.44 532.4 1456.96 532.9 1456.67 533.4 1456.6 533.9 1456.93 534.4 1456.82 534.9 1456.93 535.4 1456.75 535.9 1457 536.4 1456.76 536.9 1456.92 537.4 1456.8 537.9 1456.74 538.4 1456.93 538.9 1456.89 539.4 1456.52 539.9 1456.89 540.4 1456.88 540.9 1456.75 541.4 1456.73 541.9 1456.65 542.4 1456.55 542.9 1456.3 543.4 1456.26 543.9 1455.93 544.4 1455.11 544.9 1454.55 545.4 1453.58 545.9 1452.74 546.4 1452.14 546.9 1451.54 547.4 1451.64 547.9 1452.14 548.4 1453.38 548.9 1454.11 549.4 1454.8 549.9 1455.41 550.4 1456.11 550.9 1456.35 551.4 1456.44 551.9 1456.5 552.4 1456.45 552.9 1456.87 553.4 1456.97 553.9 1457.09 554.4 1456.81 554.9 1456.92 555.4 1456.51 555.9 1456.9 556.4 1456.7 556.9 1456.69 557.4 1456.68 557.9 1456.66 558.4 1456.69 558.9 1456.82 559.4 1456.59 559.9 1456.56 560.4 1456.48 560.9 1456.61 561.4 1456.16 561.9 1455.58 562.4 1455.3 562.9 1454.87 563.4 1454.04 563.9 1453.74 564.4 1453.65 564.9 1453.5 565.4 1454.2 565.9 1454.73 566.4 1455.42 566.9 1455.96 567.4 1456.05 567.9 1456.16 568.4 1456.48 568.9 1456.66 569.4 1456.64 569.9 1456.81 570.4 1456.64 570.9 1456.91 571.4 1456.95 571.9 1457.15 572.4 1456.85 572.9 1457.01 573.4 1456.77 573.9 1456.76 574.4 1456.74 574.9 1456.82 575.4 1456.63 575.9 1456.52 576.4 1457.04 576.9 1456.58 577.4 1456.48 577.9 1456.3 578.4 1455.92 578.9 1455.59 579.4 1455.38 579.9 1454.87 580.4 1454.72 580.9 1454.36 581.4 1454.81 581.9 1454.97 582.4 1455.33 582.9 1456 583.4 1456.24 583.9 1456.54 584.4 1456.69 584.9 1456.43 585.4 1456.86 585.9 1457.1 586.4 1456.88 586.9 1457.01 587.4 1457.09 587.9 1457.14 588.4 1456.53 588.9 1456.85 589.4 1456.86 589.9 1456.84 590.4 1457.02 590.9 1456.67 591.4 1456.47 591.9 1456.81 592.4 1456.67 592.9 1456.75 593.4 1456.6 593.9 1456.25 594.4 1456.04 594.9 1455.2 595.4 1454.84 595.9 1454.09 596.4 1454.06 596.9 1453.52 597.4 1453.82 597.9 1454.16 598.4 1454.76 598.9 1455.37 599.4 1455.87 599.9 1456.22 600.4 1456.4 600.9 1456.69 601.4 1456.44 601.9 1456.66 602.4 1457.05 602.9 1456.97 603.4 1456.71 603.9 1456.75 604.4 1456.78 604.9 1456.91 605.4 1457.1 605.9 1456.98 606.4 1457.11 606.9 1456.82 607.4 1457 607.9 1457.04 608.4 1457.08 608.9 1457.13 609.4 1457.05 609.9 1457.15 610.4 1457.21 610.9 1457.11 611.4 1456.87 611.9 1456.95 612.4 1456.92 612.9 1457.27 613.4 1457.16 613.9 1457.06 614.4 1456.97 614.9 1456.97 615.4 1457.26 615.9 1457.03 616.4 1456.97 616.9 1456.94 617.4 1457.15 617.9 1456.78 618.4 1456.97 618.9 1457.14 619.4 1457.16 619.9 1457.12 620.4 1456.99 620.9 1457.15 621.4 1457.26 621.9 1456.9 622.4 1456.89 622.9 1456.94 623.4 1456.98 623.9 1456.86 624.4 1456.8 624.9 1456.51 625.4 1456.88 625.9 1456.51 626.4 1456.56 626.9 1456.38 627.4 1456.46 627.9 1456.12 628.4 1456.11 628.9 1456.32 629.4 1456.39 629.9 1456.41 630.4 1456.64 630.9 1456.61 631.4 1456.71 631.9 1456.66 632.4 1456.88 632.9 1457.05 633.4 1456.92 633.9 1456.95 634.4 1457.11 634.9 1456.91 635.4 1456.88 635.9 1456.98 636.4 1457.19 636.9 1456.89 637.4 1456.92 637.9 1456.94 638.4 1456.79 638.9 1456.74 639.4 1456.88 639.9 1456.3 640.4 1456.39 640.9 1456.13 641.4 1455.77 641.9 1455.16 642.4 1454.7 642.9 1454.17 643.4 1453.85 643.9 1454.28 644.4 1454.67 644.9 1455.19 645.4 1455.79 645.9 1456.38 646.4 1456.4 646.9 1456.8 647.4 1456.74 647.9 1456.87 648.4 1456.74 648.9 1456.96 649.4 1456.87 649.9 1457.01 650.4 1456.8 650.9 1457.17 651.4 1456.81 651.9 1457.1 652.4 1456.75 652.9 1457.04 653.4 1457.09 653.9 1457.17 654.4 1457.28 654.9 1456.89 655.4 1457.05 655.9 1457.04 656.4 1457.08 656.9 1457.25 657.4 1456.99 657.9 1456.93 658.4 1456.99 658.9 1457.21 659.4 1456.97 659.9 1456.82 660.4 1457.02 660.9 1457.25 661.4 1457.31 661.9 1456.98 662.4 1456.98 662.9 1457.18 663.4 1457.22 663.9 1457.07 664.4 1457.08 664.9 1457.18 665.4 1456.84 665.9 1457.26 666.4 1456.89 666.9 1456.76 667.4 1457.21 667.9 1457.01 668.4 1457.09 668.9 1456.72 669.4 1456.92 669.9 1456.83 670.4 1456.68 670.9 1456.48 671.4 1456.2 671.9 1455.89 672.4 1455.4 672.9 1455.57 673.4 1455.06 673.9 1454.99 674.4 1455.44 674.9 1455.67 675.4 1455.93 675.9 1456.78 676.4 1456.6 676.9 1456.46 677.4 1456.76 677.9 1456.85 678.4 1456.94 678.9 1457.07 679.4 1457.07 679.9 1457.28 680.4 1456.96 680.9 1456.98 681.4 1457.18 681.9 1457.2 682.4 1456.98 682.9 1456.92 683.4 1457.13 683.9 1457.01 684.4 1457.01 684.9 1456.89 685.4 1456.67 685.9 1456.46 686.4 1456.3 686.9 1456.16 687.4 1455.95 687.9 1456.28 688.4 1456.46 688.9 1456.61 689.4 1456.56 689.9 1456.76 690.4 1457.06 690.9 1457.13 691.4 1456.88 691.9 1456.84 692.4 1457.1 692.9 1456.87 693.4 1457.37 693.9 1457.08 694.4 1457.21 694.9 1456.84 695.4 1457.13 695.9 1457.15 696.4 1456.9 696.9 1457.39 697.4 1457.13 697.9 1457.19 698.4 1457.09 698.9 1457.17 699.4 1457.23 699.9 1457.19 700.4 1457.2 700.9 1456.91 701.4 1457.14 701.9 1456.96 702.4 1457.18 702.9 1457.04 703.4 1456.89 703.9 1457.38 704.4 1457.11 704.9 1457.1 705.4 1457.15 705.9 1457.12 706.4 1457.24 706.9 1457.38 707.4 1457.09 707.9 1457.25 708.4 1457.25 708.9 1456.97 709.4 1457.25 709.9 1457.29 710.4 1457.13 710.9 1457.11 711.4 1457.01 711.9 1457.3 712.4 1457.06 712.9 1457.18 713.4 1456.96 713.9 1457.11 714.4 1456.91 714.9 1457.03 715.4 1457.26 715.9 1456.99 716.4 1457 716.9 1457.04 717.4 1457.08 717.9 1456.98 718.4 1457.17 718.9 1457.07 719.4 1457.25 719.9 1457.21 720.4 1457.19 720.9 1457.2 721.4 1457.22 721.9 1456.89 722.4 1457.45 722.9 1456.9 723.4 1457.36 723.9 1457.04 724.4 1456.85 724.9 1456.95 725.4 1456.86 725.9 1457.19 726.4 1457.11 726.9 1457.55 727.4 1457.18 727.9 1457.05 728.4 1457.35 728.9 1457.59 729.4 1457.04 729.9 1457.04 730.4 1457.15 730.9 1456.98 731.4 1457.05 731.9 1457.4 732.4 1457.32 732.9 1457.32 733.4 1457.18 733.9 1457.35 734.4 1456.91 734.9 1457.37 735.4 1456.94 735.9 1457.02 736.4 1457.22 736.9 1457 737.4 1457.2 737.9 1457.2 738.4 1457.32 738.9 1457.15 739.4 1457.18 739.9 1457.13 740.4 1457.15 740.9 1457.13 741.4 1457.16 741.9 1457.24 742.4 1457.33 742.9 1457.2 743.4 1456.73 743.9 1457.2 744.4 1456.9 744.9 1457.01 745.4 1457.25 745.9 1456.8 746.4 1457.06 746.9 1457.19 747.4 1457.16 747.9 1457.09 748.4 1456.95 748.9 1457.45 749.4 1456.96 749.9 1457.05 750.4 1457.27 750.9 1457.19 751.4 1457.27 751.9 1457.35 752.4 1457 752.9 1457.24 753.4 1457.06 753.9 1457.18 754.4 1457.15 754.9 1457.04 755.4 1457.17 755.9 1457.03 756.4 1457.6 756.9 1457.54 757.4 1457.17 757.9 1456.93 758.4 1456.75 758.9 1456.89 759.4 1457.34 759.9 1456.97 760.4 1457.09 760.9 1457.06 761.4 1457.05 761.9 1457.05 762.4 1457.06 762.9 1457.33 763.4 1457.12 763.9 1457.37 764.4 1457.04 764.9 1456.97 765.4 1457.16 765.9 1456.65 766.4 1456.83 766.9 1456.36 767.4 1456.55 767.9 1456.3 768.4 1456.3 768.9 1456.17 769.4 1456.71 769.9 1456.52 770.4 1456.44 770.9 1457 771.4 1456.68 771.9 1457 772.4 1457.11 772.9 1457.04 773.4 1457.19 773.9 1457.05 774.4 1457.21 774.9 1457.03 775.4 1457.08 775.9 1457.1 776.4 1457.22 776.9 1457.12 777.4 1457.41 777.9 1457.07 778.4 1457.55 778.9 1457.19 779.4 1457.19 779.9 1457.17 780.4 1457.35 780.9 1457.11 781.4 1457.31 781.9 1457.16 782.4 1456.94 782.9 1457.18 783.4 1457.47 783.9 1457.03 784.4 1457.31 784.9 1456.99 785.4 1457.34 785.9 1456.98 786.4 1457.04 786.9 1457.14 787.4 1457.14 787.9 1457.04 788.4 1457.31 788.9 1457.09 789.4 1456.81 789.9 1456.87 790.4 1456.71 790.9 1456.61 791.4 1456.37 791.9 1456.24 792.4 1456.25 792.9 1456.08 793.4 1456.27 793.9 1456.8 794.4 1456.46 794.9 1456.35 795.4 1456.75 795.9 1456.78 796.4 1456.8 796.9 1457.02 797.4 1457.02 797.9 1457.23 798.4 1457.36 798.9 1456.91 799.4 1457.13 799.9 1456.93 800.4 1456.99 800.9 1457.17 801.4 1457.27 801.9 1457.11 802.4 1457.48 802.9 1456.94 803.4 1457.19 803.9 1457.21 804.4 1457.06 804.9 1457.18 805.4 1456.94 805.9 1457.02 806.4 1457.19 806.9 1457.04 807.4 1457.24 807.9 1457.26 808.4 1457.4 808.9 1457.28 809.4 1457.12 809.9 1457.09 810.4 1457.29 810.9 1457.12 811.4 1457.54 811.9 1457.21 812.4 1457.15 812.9 1457.08 813.4 1457.2 813.9 1457.17 814.4 1457.27 814.9 1457.11 815.4 1457.14 815.9 1457.19 816.4 1457.15 816.9 1457.06 817.4 1457.21 817.9 1457.19 818.4 1457.18 818.9 1457.27 819.4 1457.05 819.9 1457.22 820.4 1457.32 820.9 1457.24 821.4 1457.2 821.9 1457.12 822.4 1457.16 822.9 1457.01 823.4 1457.55 823.9 1457.29 824.4 1457.3 824.9 1457.37 825.4 1457.24 825.9 1457.27 826.4 1457.25 826.9 1457.08 827.4 1456.9 827.9 1457.33 828.4 1457.41 828.9 1457.32 829.4 1457.21 829.9 1457.33 830.4 1457.38 830.9 1457.42 831.4 1457.3 831.9 1457.39 832.4 1456.97 832.9 1457.38 833.4 1457.36 833.9 1457.07 834.4 1457.23 834.9 1457.32 835.4 1457.42 835.9 1457.37 836.4 1457.42 836.9 1457.24 837.4 1457.24 837.9 1457.32 838.4 1457.13 838.9 1457.08 839.4 1457.33 839.9 1457.21 840.4 1457.24 840.9 1457.41 841.4 1456.86 841.9 1457.19 842.4 1457.35 842.9 1457.19 843.4 1457.45 843.9 1457.04 844.4 1457.2 844.9 1457.14 845.4 1457.15 845.9 1457.04 846.4 1457.2 846.9 1457.07 847.4 1457.06 847.9 1457.29 848.4 1457.19 848.9 1456.99 849.4 1457.17 849.9 1457.24 850.4 1457.26 850.9 1457.11 851.4 1457.24 851.9 1456.96 852.4 1456.81 852.9 1456.73 853.4 1456.76 853.9 1456.27 854.4 1456.83 854.9 1456.66 855.4 1456.48 855.9 1456.57 856.4 1456.79 856.9 1457.05 857.4 1456.66 857.9 1457.13 858.4 1457.08 858.9 1457 859.4 1457.2 859.9 1457.02 860.4 1456.94 860.9 1456.91 861.4 1457.52 861.9 1457.13 862.4 1457.15 862.9 1457.19 863.4 1457.16 863.9 1457.07 864.4 1457.34 864.9 1457.27 865.4 1457.31 865.9 1457.03 866.4 1457.45 866.9 1457.3 867.4 1457.41 867.9 1457.18 868.4 1457.19 868.9 1457.04 869.4 1457.47 869.9 1457.3 870.4 1457.07 870.9 1457.24 871.4 1457.24 871.9 1457.27 872.4 1457.4 872.9 1457.41 873.4 1457.32 873.9 1457.09 874.4 1457.12 874.9 1457.12 875.4 1457.15 875.9 1457.32 876.4 1457.17 876.9 1457.23 877.4 1457.37 877.9 1457.18 878.4 1457.55 878.9 1456.95 879.4 1457.35 879.9 1457.12 880.4 1457.28 880.9 1457.24 881.4 1457.24 881.9 1457.13 882.4 1457.29 882.9 1457.12 883.4 1457.28 883.9 1457.16 884.4 1457.08 884.9 1457.45 885.4 1457.27 885.9 1457.15 886.4 1457.34 886.9 1457.38 887.4 1457.52 887.9 1457.32 888.4 1457.38 888.9 1457.12 889.4 1457.57 889.9 1457.19 890.4 1457.29 890.9 1457.3 891.4 1457.4 891.9 1457.28 892.4 1457.26 892.9 1457.29 893.4 1457.52 893.9 1457.45 894.4 1457.38 894.9 1457.37 895.4 1457.14 895.9 1457.21 896.4 1457.1 896.9 1457.57 897.4 1457.01 897.9 1457.08 898.4 1457.15 898.9 1457.2 899.4 1457.01 899.9 1457.1 900.4 1457.4 900.9 1457.03 901.4 1457.43 901.9 1457.34 902.4 1457.16 902.9 1456.86 903.4 1457.17 903.9 1457.27 904.4 1457.18 904.9 1457.22 905.4 1457.29 905.9 1457.25 906.4 1457.55 906.9 1457.38 907.4 1457.47 907.9 1457.31 908.4 1456.91 908.9 1457.24 909.4 1457.31 909.9 1457.1" stroke="#000" stroke-width="1.75" fill="none" stroke-linejoin="round"/>
<path d="M86.5 1790.8 86.95 1789.94 87.4 1787.83 87.85 1791.1 88.3 1789.95 88.75 1789.9 89.2 1789.47 89.65 1791.69 90.1 1790.45 90.55 1790.83 91 1788.13 91.45 1787.71 91.9 1786.6 92.35 1787.77 92.8 1783.44 93.25 1790.67 93.7 1788 94.15 1787.76 94.6 1788.95 95.05 1786.7 95.5 1787.61 95.95 1788.37 96.4 1784.23 96.85 1789.71 97.3 1786.85 97.75 1787.52 98.2 1784.56 98.65 1785.12 99.1 1788.93 99.55 1784.98 100 1785.05 100.45 1786.42 100.9 1787.91 101.35 1781.17 101.8 1787.7 102.25 1785.49 102.7 1786.42 103.15 1783 103.6 1785.12 104.05 1787.21 104.5 1784.14 104.95 1783.08 105.4 1783.26 105.85 1782.94 106.3 1785.05 106.75 1783.87 107.2 1782.52 107.65 1784.56 108.1 1781.18 108.55 1780.43 109 1786.95 109.45 1781.49 109.9 1785.21 110.35 1782.11 110.8 1781.72 111.25 1782.84 111.7 1780.31 112.15 1780.17 112.6 1781.1 113.05 1780.63 113.5 1782.37 113.95 1784.32 114.4 1778.8 114.85 1779.15 115.3 1781.79 115.75 1781.21 116.2 1782.09 116.65 1778.73 117.1 1780.86 117.55 1779.58 118 1776.72 118.45 1780.12 118.9 1776.49 119.35 1779.94 119.8 1778.07 120.25 1778.34 120.7 1782.19 121.15 1780.97 121.6 1778.91 122.05 1778.69 122.5 1776.51 122.95 1779.8 123.4 1778.56 123.85 1775.84 124.3 1774.29 124.75 1776.96 125.2 1776.51 125.65 1778.19 126.1 1774.83 126.55 1774.96 127 1777.08 127.45 1776.39 127.9 1777.74 128.35 1777.91 128.8 1774.31 129.25 1771.66 129.7 1775.69 130.15 1774.2 130.6 1775.72 131.05 1770.51 131.5 1774.83 131.95 1775 132.4 1773.71 132.85 1775.38 133.3 1774.49 133.75 1774.5 134.2 1776.12 134.65 1775.89 135.1 1775.48 135.55 1773.8 136 1773.11 136.45 1773.51 136.9 1772.72 137.35 1770.52 137.8 1771.97 138.25 1772.31 138.7 1769.36 139.15 1767.37 139.6 1769.22 140.05 1765.69 140.5 1762.98 140.95 1763.3 141.4 1758.98 141.85 1759.33 142.3 1754.63 142.75 1751.86 143.2 1749.32 143.65 1744.33 144.1 1736.63 144.55 1726.54 145 1722.25 145.45 1712.61 145.9 1706.69 146.35 1698.1 146.8 1688.33 147.25 1683.66 147.7 1684.65 148.15 1692.37 148.6 1703.27 149.05 1720.82 149.5 1733.99 149.95 1745.45 150.4 1757.18 150.85 1766.31 151.3 1767.24 151.75 1766.87 152.2 1773.38 152.65 1772.51 153.1 1773.62 153.55 1772.33 154 1774.33 154.45 1776.59 154.9 1773.01 155.35 1775.56 155.8 1775.23 156.25 1773.37 156.7 1775.37 157.15 1776.27 157.6 1774 158.05 1777.61 158.5 1773.88 158.95 1777.92 159.4 1777.16 159.85 1776.68 160.3 1775.04 160.75 1775.17 161.2 1772.85 161.65 1776.73 162.1 1776.67 162.55 1777.96 163 1778.88 163.45 1777.59 163.9 1776.78 164.35 1779.16 164.8 1777.56 165.25 1777.66 165.7 1775.85 166.15 1779.8 166.6 1777 167.05 1781.6 167.5 1776.95 167.95 1777.75 168.4 1778.86 168.85 1777.65 169.3 1776.5 169.75 1777.18 170.2 1777.86 170.65 1778.99 171.1 1781.21 171.55 1780.81 172 1780.35 172.45 1781.32 172.9 1776.35 173.35 1779.15 173.8 1779.39 174.25 1778.7 174.7 1781.42 175.15 1779.61 175.6 1778.98 176.05 1782.51 176.5 1780.01 176.95 1780.83 177.4 1778.81 177.85 1783.05 178.3 1781.71 178.75 1784.22 179.2 1785.65 179.65 1783.16 180.1 1781.54 180.55 1780.94 181 1785.2 181.45 1782.19 181.9 1783.74 182.35 1783.2 182.8 1777.19 183.25 1783.29 183.7 1783.41 184.15 1783.58 184.6 1783.11 185.05 1783.85 185.5 1781.83 185.95 1784.69 186.4 1782.89 186.85 1784.14 187.3 1786.77 187.75 1784.44 188.2 1782.42 188.65 1784.9 189.1 1781.92 189.55 1784.77 190 1786.97 190.45 1782.89 190.9 1784.53 191.35 1783.4 191.8 1785.28 192.25 1785.65 192.7 1785.49 193.15 1784.83 193.6 1782.17 194.05 1783.97 194.5 1784.86 194.95 1787.08 195.4 1782.4 195.85 1787.72 196.3 1784.63 196.75 1783.01 197.2 1788.08 197.65 1785.63 198.1 1782.37 198.55 1782.64 199 1780.68 199.45 1774.09 199.9 1775.34 200.35 1768.78 200.8 1769.78 201.25 1767.21 201.7 1766.94 202.15 1771.37 202.6 1774.95 203.05 1779.47 203.5 1779.36 203.95 1782.68 204.4 1786.36 204.85 1786.08 205.3 1786.33 205.75 1788.22 206.2 1785.39 206.65 1791.09 207.1 1786.54 207.55 1788.48 208 1787.64 208.45 1789.65 208.9 1787.3 209.35 1786.78 209.8 1788.57 210.25 1789.24 210.7 1788.03 211.15 1791.78 211.6 1789.67 212.05 1790.77 212.5 1790.67 212.95 1790.32 213.4 1788.33 213.85 1791.44 214.3 1788.14 214.75 1789.06 215.2 1791.23 215.65 1790.52 216.1 1787.19 216.55 1788.55 217 1787.62 217.45 1791.12 217.9 1788.64 218.35 1789.34 218.8 1788.21 219.25 1788.57 219.7 1790.6 220.15 1787.85 220.6 1789.69 221.05 1788.83 221.5 1789.11 221.95 1787.63 222.4 1791.72 222.85 1787.07 223.3 1787.71 223.75 1789.05 224.2 1789.86 224.65 1788.47 225.1 1787.01 225.55 1788.92 226 1788.04 226.45 1788.57 226.9 1792.37 227.35 1786.25 227.8 1789.63 228.25 1790.29 228.7 1788.96 229.15 1789.05 229.6 1791.42 230.05 1789.28 230.5 1786.74 230.95 1788.98 231.4 1790.21 231.85 1788.95 232.3 1788.62 232.75 1789.87 233.2 1788.74 233.65 1789.77 234.1 1790.63 234.55 1788.5 235 1786.92 235.45 1791.72 235.9 1790.17 236.35 1788.16 236.8 1787.02 237.25 1789.27 237.7 1789.42 238.15 1789.48 238.6 1788.4 239.05 1785.28 239.5 1782.17 239.95 1775.56 240.4 1770.85 240.85 1765.26 241.3 1763.53 241.75 1758.48 242.2 1766.24 242.65 1769.76 243.1 1773.47 243.55 1778.72 244 1783.96 244.45 1786.55 244.9 1788.21 245.35 1784.58 245.8 1786.93 246.25 1788.22 246.7 1788.68 247.15 1787.69 247.6 1786.51 248.05 1786.82 248.5 1785.05 248.95 1788.31 249.4 1786.44 249.85 1784.99 250.3 1782.7 250.75 1782.78 251.2 1782.61 251.65 1781.19 252.1 1782.71 252.55 1782.34 253 1779.4 253.45 1774.68 253.9 1776.52 254.35 1773.32 254.8 1772.97 255.25 1775.04 255.7 1767.88 256.15 1767.5 256.6 1767.85 257.05 1769.45 257.5 1766.96 257.95 1764 258.4 1767.67 258.85 1768.11 259.3 1769.24 259.75 1767.73 260.2 1769.9 260.65 1767.75 261.1 1770.94 261.55 1772.33 262 1770.86 262.45 1771.68 262.9 1775.32 263.35 1773.09 263.8 1773.8 264.25 1776.27 264.7 1777.99 265.15 1779.31 265.6 1777.68 266.05 1779.88 266.5 1778.02 266.95 1777.89 267.4 1784 267.85 1778.84 268.3 1777.5 268.75 1780.35 269.2 1778.32 269.65 1780.34 270.1 1774.55 270.55 1776.34 271 1779.36 271.45 1777.5 271.9 1774.91 272.35 1778.24 272.8 1776.86 273.25 1774 273.7 1775.91 274.15 1774.6 274.6 1771.15 275.05 1771.71 275.5 1773.14 275.95 1771.08 276.4 1770.36 276.85 1772.37 277.3 1774.71 277.75 1774.18 278.2 1772.81 278.65 1770.98 279.1 1776.87 279.55 1775.81 280 1778.14 280.45 1777.23 280.9 1777.1 281.35 1778.78 281.8 1777.69 282.25 1778.4 282.7 1778.1 283.15 1776.27 283.6 1781.8 284.05 1782.02 284.5 1779.42 284.95 1779.75 285.4 1784.28 285.85 1781.47 286.3 1779.9 286.75 1778.54 287.2 1783.36 287.65 1782.63 288.1 1779.05 288.55 1781.47 289 1778.67 289.45 1779.58 289.9 1781.77 290.35 1779.38 290.8 1778.51 291.25 1777.05 291.7 1780.19 292.15 1778.65 292.6 1776.68 293.05 1781.77 293.5 1776.88 293.95 1776.73 294.4 1777.8 294.85 1776.12 295.3 1776.03 295.75 1775.93 296.2 1773.61 296.65 1771.92 297.1 1771.87 297.55 1772.81 298 1769.7 298.45 1770.62 298.9 1766.34 299.35 1762.58 299.8 1762.11 300.25 1758.83 300.7 1755.48 301.15 1752.81 301.6 1751.24 302.05 1747.35 302.5 1742.47 302.95 1737.95 303.4 1734.11 303.85 1729.48 304.3 1724.05 304.75 1717.27 305.2 1715.43 305.65 1710.51 306.1 1706.2 306.55 1694.95 307 1697.09 307.45 1693.54 307.9 1686.67 308.35 1692.09 308.8 1686.83 309.25 1690.23 309.7 1693.34 310.15 1697.74 310.6 1699.2 311.05 1702.87 311.5 1705.71 311.95 1713.28 312.4 1719.89 312.85 1721.88 313.3 1731.86 313.75 1729.72 314.2 1738.32 314.65 1743.19 315.1 1748.42 315.55 1752.96 316 1758.05 316.45 1758.7 316.9 1760.31 317.35 1763.84 317.8 1767.84 318.25 1769.28 318.7 1772.31 319.15 1774.41 319.6 1776.39 320.05 1779.37 320.5 1779.87 320.95 1778.12 321.4 1780.14 321.85 1781.35 322.3 1782.21 322.75 1785.15 323.2 1785.98 323.65 1785.6 324.1 1788.15 324.55 1784.59 325 1786.64 325.45 1788.94 325.9 1787.41 326.35 1786.75 326.8 1786.85 327.25 1790.16 327.7 1790.12 328.15 1792.3 328.6 1792.57 329.05 1789.88 329.5 1788.82 329.95 1788.21 330.4 1788.73 330.85 1792.33 331.3 1788.42 331.75 1786.84 332.2 1786.59 332.65 1786.26 333.1 1783.03 333.55 1781.5 334 1780.29 334.45 1782.46 334.9 1779.43 335.35 1780.08 335.8 1780.45 336.25 1777.13 336.7 1782.36 337.15 1781.34 337.6 1784.39 338.05 1783.71 338.5 1789.83 338.95 1790.32 339.4 1789.61 339.85 1794.24 340.3 1791.53 340.75 1795.81 341.2 1793.7 341.65 1798 342.1 1792.44 342.55 1795.38 343 1792.67 343.45 1792.7 343.9 1793.92 344.35 1794.6 344.8 1793.26 345.25 1795.95 345.7 1797.94 346.15 1796.7 346.6 1794.28 347.05 1798.86 347.5 1793.07 347.95 1798.51 348.4 1795.61 348.85 1794.46 349.3 1796.05 349.75 1796.11 350.2 1797.94 350.65 1797.24 351.1 1795.67 351.55 1797.69 352 1795.76 352.45 1794.59 352.9 1794.35 353.35 1794.64 353.8 1796.65 354.25 1795.66 354.7 1797.48 355.15 1794.08 355.6 1796.39 356.05 1796.94 356.5 1796.54 356.95 1796.93 357.4 1791.82 357.85 1794.19 358.3 1795.11 358.75 1796.44 359.2 1798.29 359.65 1799.92 360.1 1795.26 360.55 1796.01 361 1797.68 361.45 1795.5 361.9 1798.15 362.35 1796.17 362.8 1796.32 363.25 1797.32 363.7 1799.12 364.15 1796.63 364.6 1795.19 365.05 1798.51 365.5 1797.18 365.95 1795.04 366.4 1793.9 366.85 1796.17 367.3 1795.4 367.75 1795.14 368.2 1796.64 368.65 1797.39 369.1 1798.32 369.55 1796.41 370 1794.42 370.45 1794.01 370.9 1793.71 371.35 1796.9 371.8 1793.15 372.25 1794.82 372.7 1793.69 373.15 1795.12 373.6 1794.96 374.05 1795.15 374.5 1798.25 374.95 1797.01 375.4 1794.99 375.85 1793.88 376.3 1796.4 376.75 1795.02 377.2 1795.29 377.65 1793.62 378.1 1796.05 378.55 1795.86 379 1796.31 379.45 1795.44 379.9 1795.53 380.35 1793.43 380.8 1796.87 381.25 1795.62 381.7 1797.74 382.15 1794.52 382.6 1794.39 383.05 1796.64 383.5 1794.13 383.95 1795.7 384.4 1794.63 384.85 1794.48 385.3 1791.16 385.75 1795.25 386.2 1794.67 386.65 1792.2 387.1 1796.33 387.55 1790.92 388 1793.71 388.45 1797.89 388.9 1795.4 389.35 1792.63 389.8 1794.91 390.25 1794.91 390.7 1787.86 391.15 1793.08 391.6 1792.78 392.05 1794.97 392.5 1792.23 392.95 1789.59 393.4 1790.63 393.85 1794.37 394.3 1790.41 394.75 1793.19 395.2 1791.02 395.65 1787.7 396.1 1789.59 396.55 1788.17 397 1788.02 397.45 1786.79 397.9 1784.32 398.35 1786.45 398.8 1784.13 399.25 1782.6 399.7 1782.11 400.15 1780.39 400.6 1780.1 401.05 1778.88 401.5 1775.76 401.95 1779.8 402.4 1776.17 402.85 1774.27 403.3 1770.78 403.75 1774.6 404.2 1771.91 404.65 1771.54 405.1 1768.7 405.55 1768.98 406 1765.64 406.45 1765.48 406.9 1766.82 407.35 1766.93 407.8 1762.55 408.25 1759.32 408.7 1761.19 409.15 1760.49 409.6 1757.55 410.05 1757 410.5 1762.11 410.95 1757.81 411.4 1756.3 411.85 1757.83 412.3 1754.45 412.75 1754.06 413.2 1755.64 413.65 1758.45 414.1 1758.85 414.55 1758.02 415 1760.95 415.45 1756.14 415.9 1757.17 416.35 1762.3 416.8 1761.85 417.25 1761.29 417.7 1763.04 418.15 1762.19 418.6 1767.58 419.05 1764.54 419.5 1768.01 419.95 1767.24 420.4 1767.73 420.85 1767.59 421.3 1770.64 421.75 1772.03 422.2 1772.04 422.65 1772.19 423.1 1773.71 423.55 1774.34 424 1780.4 424.45 1778.77 424.9 1779.2 425.35 1782.92 425.8 1782.91 426.25 1784.45 426.7 1786.06 427.15 1785.02 427.6 1782.82 428.05 1787.58 428.5 1787.8 428.95 1787.91 429.4 1787.37 429.85 1790.71 430.3 1790.49 430.75 1793.54 431.2 1789.08 431.65 1789.71 432.1 1792.96 432.55 1793.46 433 1792.4 433.45 1795.22 433.9 1793.67 434.35 1795.93 434.8 1793.95 435.25 1794.98 435.7 1795.63 436.15 1793.19 436.6 1796.64 437.05 1794.16 437.5 1796.76 437.95 1793.9 438.4 1791.99 438.85 1795.85 439.3 1793.13 439.75 1799.17 440.2 1792.83 440.65 1794.12 441.1 1797.75 441.55 1797.28 442 1795.16 442.45 1798.92 442.9 1798.94 443.35 1794.82 443.8 1796 444.25 1796.86 444.7 1797.52 445.15 1796.34 445.6 1797.45 446.05 1794.7 446.5 1796.21 446.95 1794.1 447.4 1796.55 447.85 1797.87 448.3 1794.53 448.75 1797.8 449.2 1794.13 449.65 1791.76 450.1 1794.47 450.55 1795.36 451 1796.73 451.45 1796.44 451.9 1793.08 452.35 1793.43 452.8 1795.52 453.25 1794.36 453.7 1791.99 454.15 1791.33 454.6 1793.87 455.05 1792.34 455.5 1791.99 455.95 1790.07 456.4 1789.31 456.85 1789.6 457.3 1788.64 457.75 1791.23 458.2 1789.92 458.65 1789.11 459.1 1782.57 459.55 1786.38 460 1788.99 460.45 1787 460.9 1788.37 461.35 1784.03 461.8 1785.71 462.25 1788.49 462.7 1785.92 463.15 1792.86 463.6 1788.77 464.05 1790.32 464.5 1792.7 464.95 1788.47 465.4 1790.19 465.85 1788.28 466.3 1793.08 466.75 1789.49 467.2 1789.87 467.65 1792.54 468.1 1791.69 468.55 1794.18 469 1792 469.45 1793.34 469.9 1794.65 470.35 1795.08 470.8 1794.28 471.25 1795.06 471.7 1801.51 472.15 1796.84 472.6 1796.75 473.05 1795.31 473.5 1796.32 473.95 1799.85 474.4 1798.68 474.85 1801.49 475.3 1798.14 475.75 1798.81 476.2 1799.83 476.65 1801.02 477.1 1798.64 477.55 1801.68 478 1799.74 478.45 1800.3 478.9 1799.63 479.35 1801.79 479.8 1803.69 480.25 1800.39 480.7 1797.96 481.15 1798.29 481.6 1801.26 482.05 1801.51 482.5 1801.39 482.95 1801.64 483.4 1800.45 483.85 1802.45 484.3 1801.64 484.75 1799.58 485.2 1799.27 485.65 1800.71 486.1 1799.99 486.55 1796.93 487 1798.41 487.45 1797.39 487.9 1796.49 488.35 1798.75 488.8 1799.66 489.25 1798.07 489.7 1801.63 490.15 1801.73 490.6 1803.04 491.05 1802.68 491.5 1799.68 491.95 1801.37 492.4 1803.73 492.85 1801.91 493.3 1801.62 493.75 1801.38 494.2 1803.01 494.65 1801.35 495.1 1801.74 495.55 1801.74 496 1800.8 496.45 1799.24 496.9 1799.27 497.35 1803.06 497.8 1804.36 498.25 1801.7 498.7 1802.14 499.15 1802.41 499.6 1801.08 500.05 1802.76 500.5 1803.03 500.95 1800.81 501.4 1799.56 501.85 1802.87 502.3 1800.77 502.75 1802.33 503.2 1800.85 503.65 1803.35 504.1 1804.49 504.55 1800.28 505 1803.22 505.45 1802.15 505.9 1801.48 506.35 1800.52 506.8 1801.74 507.25 1798.9 507.7 1804.05 508.15 1802.67 508.6 1802.22 509.05 1804.07 509.5 1802.42 509.95 1802.85 510.4 1803.31 510.85 1800.61 511.3 1801.32 511.75 1801.16 512.2 1802.25 512.65 1802.76 513.1 1804.55 513.55 1801.58 514 1802.35 514.45 1801.82 514.9 1803.87 515.35 1802.51 515.8 1803.89 516.25 1803.52 516.7 1801.64 517.15 1804.63 517.6 1803.29 518.05 1803.85 518.5 1801.71 518.95 1803.06 519.4 1802.15 519.85 1803.34 520.3 1802.14 520.75 1803.98 521.2 1801.14 521.65 1803.88 522.1 1803.82 522.55 1801.63 523 1803.21 523.45 1804.23 523.9 1804.23 524.35 1804.82 524.8 1803.86 525.25 1802.92 525.7 1804.39 526.15 1802.09 526.6 1802.68 527.05 1803.18 527.5 1803.98 527.95 1805.18 528.4 1804.73 528.85 1803.9 529.3 1804.13 529.75 1804.88 530.2 1803.54 530.65 1803.49 531.1 1804.13 531.55 1806.1 532 1804.57 532.45 1803.28 532.9 1804.77 533.35 1802.08 533.8 1805.08 534.25 1803.37 534.7 1802.87 535.15 1804.08 535.6 1803.67 536.05 1803.73 536.5 1801.26 536.95 1802.46 537.4 1804.81 537.85 1802.24 538.3 1800.7 538.75 1804.46 539.2 1804.81 539.65 1805.97 540.1 1805.02 540.55 1803.26 541 1803.4 541.45 1801.68 541.9 1802.86 542.35 1801.66 542.8 1802.82 543.25 1801.74 543.7 1802.73 544.15 1803.66 544.6 1803.02 545.05 1804.6 545.5 1803.36 545.95 1803.01 546.4 1803.15 546.85 1802.32 547.3 1804.89 547.75 1803.09 548.2 1803.72 548.65 1803.03 549.1 1805.32 549.55 1805.74 550 1804.21 550.45 1802.94 550.9 1801.9 551.35 1804.85 551.8 1805.51 552.25 1804.8 552.7 1802.79 553.15 1800.9 553.6 1806.07 554.05 1803.83 554.5 1805.63 554.95 1805.47 555.4 1804.44 555.85 1804.77 556.3 1804.51 556.75 1802.55 557.2 1801.56 557.65 1805.15 558.1 1804.55 558.55 1803.06 559 1806 559.45 1800.59 559.9 1803.59 560.35 1803.14 560.8 1802.37 561.25 1803.64 561.7 1803.52 562.15 1806.03 562.6 1804.56 563.05 1804.52 563.5 1805.1 563.95 1803.64 564.4 1805.33 564.85 1805.79 565.3 1804.44 565.75 1802.71 566.2 1803.84 566.65 1804.03 567.1 1806.76 567.55 1804.28 568 1805.95 568.45 1803.41 568.9 1803.53 569.35 1802.83 569.8 1803.35 570.25 1805.96 570.7 1804.15 571.15 1803.51 571.6 1804.38 572.05 1804.34 572.5 1803.61 572.95 1802.61 573.4 1805.35 573.85 1804.69 574.3 1806.02 574.75 1803.17 575.2 1803.78 575.65 1802.19 576.1 1804.51 576.55 1805.5 577 1801.15 577.45 1804.98 577.9 1804.24 578.35 1804 578.8 1804.44 579.25 1804.05 579.7 1803.2 580.15 1805.6 580.6 1803.97 581.05 1801.6 581.5 1805.06 581.95 1804.54 582.4 1802.9 582.85 1803.28 583.3 1803.76 583.75 1804.64 584.2 1803.52 584.65 1804.32 585.1 1805.87 585.55 1803.79 586 1804.22 586.45 1803.62 586.9 1805.16 587.35 1804.94 587.8 1804.99 588.25 1803.49 588.7 1803.16 589.15 1804.84 589.6 1804.49 590.05 1803.62 590.5 1804.01 590.95 1804.14 591.4 1805.38 591.85 1803.2 592.3 1804.16 592.75 1802.28 593.2 1802.24 593.65 1803.16 594.1 1801.17 594.55 1803.89 595 1803.03 595.45 1802.65 595.9 1803.13 596.35 1805.17 596.8 1801.65 597.25 1803.15 597.7 1804.24 598.15 1803.5 598.6 1800.56 599.05 1804.18 599.5 1803.68 599.95 1803.01 600.4 1802.32 600.85 1803.43 601.3 1801.52 601.75 1803.92 602.2 1802.84 602.65 1801.23 603.1 1801.68 603.55 1801.71 604 1803.26 604.45 1803.66 604.9 1802.36 605.35 1802.87 605.8 1801.49 606.25 1804.08 606.7 1805.3 607.15 1800.23 607.6 1802.11 608.05 1802.4 608.5 1800.92 608.95 1801.84 609.4 1803.19 609.85 1805.11 610.3 1803.34 610.75 1804.43 611.2 1805.08 611.65 1801.8 612.1 1802.65 612.55 1801.49 613 1800.18 613.45 1803.99 613.9 1801.67 614.35 1802.61 614.8 1802.28 615.25 1802.98 615.7 1803.78 616.15 1802.18 616.6 1802.06 617.05 1802.57 617.5 1801.96 617.95 1801.96 618.4 1803.18 618.85 1804.69 619.3 1800.82 619.75 1802.68 620.2 1802.44 620.65 1803.02 621.1 1801.86 621.55 1803.64 622 1804.16 622.45 1801.21 622.9 1800.9 623.35 1802.96 623.8 1801.92 624.25 1800.44 624.7 1802.61 625.15 1801.48 625.6 1801.71 626.05 1803.25 626.5 1800.82 626.95 1804.33 627.4 1802.23 627.85 1802.76 628.3 1802.55 628.75 1801.46 629.2 1801.99 629.65 1799.84 630.1 1804.1 630.55 1801.76 631 1805.61 631.45 1803.07 631.9 1804.31 632.35 1803.29 632.8 1803.31 633.25 1802.96 633.7 1804.12 634.15 1801.35 634.6 1802.29 635.05 1802.38 635.5 1802.98 635.95 1804.1 636.4 1803.34 636.85 1802.14 637.3 1800.85 637.75 1801.8 638.2 1804.21 638.65 1803.89 639.1 1803.18 639.55 1804.93 640 1801.64 640.45 1806.18 640.9 1802.03 641.35 1805.58 641.8 1802.09 642.25 1804.24 642.7 1803.37 643.15 1801.33 643.6 1802.95 644.05 1802.7 644.5 1803.03 644.95 1803.7 645.4 1803.84 645.85 1805.02 646.3 1805.63 646.75 1802.02 647.2 1803.5 647.65 1805.77 648.1 1805.71 648.55 1803.61 649 1804.76 649.45 1802.81 649.9 1804.47 650.35 1802.25 650.8 1802.58 651.25 1803.59 651.7 1802.7 652.15 1803.24 652.6 1803.71 653.05 1803.96 653.5 1803.95 653.95 1803.36 654.4 1806.27 654.85 1805.94 655.3 1805.32 655.75 1802.26 656.2 1803.64 656.65 1804.65 657.1 1803.88 657.55 1804.83 658 1803.49 658.45 1804.75 658.9 1802 659.35 1805.62 659.8 1805.19 660.25 1804.27 660.7 1802.51 661.15 1803.15 661.6 1806.15 662.05 1804.43 662.5 1804.66 662.95 1804.05 663.4 1804.06 663.85 1806.64 664.3 1805.22 664.75 1804.3 665.2 1806.31 665.65 1802.95 666.1 1806.3 666.55 1805.78 667 1804.2 667.45 1807.1 667.9 1802.94 668.35 1806.71 668.8 1804.73 669.25 1804.04 669.7 1803.4 670.15 1805.09 670.6 1803.01 671.05 1806.26 671.5 1806.82 671.95 1806.99 672.4 1806.07 672.85 1804.67 673.3 1804.39 673.75 1803.59 674.2 1805.82 674.65 1804.79 675.1 1806.47 675.55 1803.62 676 1805.24 676.45 1803.85 676.9 1805.07 677.35 1805.24 677.8 1806.6 678.25 1806.65 678.7 1807.03 679.15 1804.1 679.6 1806.07 680.05 1806.19 680.5 1804.13 680.95 1804.82 681.4 1806.33 681.85 1803.84 682.3 1807.38 682.75 1803.93 683.2 1805.73 683.65 1803.33 684.1 1806.28 684.55 1805.25 685 1803.14 685.45 1806.73 685.9 1804.98 686.35 1806.53 686.8 1807.09 687.25 1806.55 687.7 1806.11 688.15 1805.02 688.6 1805.65 689.05 1806.32 689.5 1806.06 689.95 1804.92 690.4 1807.86 690.85 1803.69 691.3 1804 691.75 1803.34 692.2 1806.7 692.65 1804.69 693.1 1805.13 693.55 1805.36 694 1807.94 694.45 1804.02 694.9 1806.4 695.35 1806.24 695.8 1807.3 696.25 1806.81 696.7 1805.77 697.15 1805.8 697.6 1806.69 698.05 1805.72 698.5 1803.97 698.95 1805.19 699.4 1805.96 699.85 1805.74 700.3 1806.69 700.75 1806.55 701.2 1804.1 701.65 1804.47 702.1 1807.82 702.55 1804.18 703 1805.55 703.45 1805.05 703.9 1807.18 704.35 1804.64 704.8 1805.15 705.25 1805.3 705.7 1805.55 706.15 1808.8 706.6 1804.56 707.05 1805.6 707.5 1805.97 707.95 1806.87 708.4 1807.1 708.85 1807.58 709.3 1805.1 709.75 1805.28 710.2 1805.46 710.65 1807.46 711.1 1804.8 711.55 1807.97 712 1807.2 712.45 1805.83 712.9 1806.36 713.35 1804.86 713.8 1807.05 714.25 1806.03 714.7 1805.84 715.15 1804.38 715.6 1806.76 716.05 1805.95 716.5 1806.02 716.95 1807.57 717.4 1806.85 717.85 1804.47 718.3 1806.34 718.75 1807.56 719.2 1807 719.65 1803.76 720.1 1804.97 720.55 1805.31 721 1805.94 721.45 1807.66 721.9 1804.91 722.35 1807.8 722.8 1807.91 723.25 1804.88 723.7 1807.89 724.15 1808.08 724.6 1808.51 725.05 1806.61 725.5 1806.18 725.95 1806.89 726.4 1806.84 726.85 1807.28 727.3 1805.88 727.75 1805.79 728.2 1807.26 728.65 1806.51 729.1 1805.41 729.55 1805.82 730 1806.5 730.45 1806.88 730.9 1807.65 731.35 1809.11 731.8 1805.94 732.25 1806.06 732.7 1806.77 733.15 1805.23 733.6 1805.34 734.05 1805.28 734.5 1807.32 734.95 1807.42 735.4 1804.76 735.85 1808.52 736.3 1805.67 736.75 1806.9 737.2 1806.01 737.65 1806.86 738.1 1807.91 738.55 1806.78 739 1808.02 739.45 1805.53 739.9 1806.16 740.35 1806.77 740.8 1807.17 741.25 1808.37 741.7 1805.64 742.15 1805.14 742.6 1805.62 743.05 1805.73 743.5 1805.9 743.95 1806.64 744.4 1805.75 744.85 1807.92 745.3 1807.04 745.75 1805.93 746.2 1805.12 746.65 1806.31 747.1 1807.58 747.55 1805.12 748 1806.21 748.45 1806.76 748.9 1807.23 749.35 1806.1 749.8 1805.21 750.25 1804.79 750.7 1808.34 751.15 1806.18 751.6 1805.26 752.05 1806.27 752.5 1806.1 752.95 1806.18 753.4 1807.06 753.85 1806.38 754.3 1809.28 754.75 1805.18 755.2 1807.2 755.65 1807.23 756.1 1806.77 756.55 1806.37 757 1807.24 757.45 1805.46 757.9 1807.29 758.35 1805.19 758.8 1806.78 759.25 1805.8 759.7 1806.13 760.15 1806.06 760.6 1806.35 761.05 1806.53 761.5 1808.41 761.95 1805.33 762.4 1806.65 762.85 1806.92 763.3 1806.54 763.75 1806.17 764.2 1806.69 764.65 1805.89 765.1 1807.09 765.55 1803.96 766 1808.65 766.45 1806.44 766.9 1805.46 767.35 1807.49 767.8 1807.47 768.25 1807.58 768.7 1805.77 769.15 1806.7 769.6 1807.74 770.05 1806.41 770.5 1806.33 770.95 1804.39 771.4 1807.28 771.85 1804.6 772.3 1807.53 772.75 1805.24 773.2 1807.23 773.65 1806.91 774.1 1807.57 774.55 1808.29 775 1808.43 775.45 1806.43 775.9 1805.93 776.35 1808.65 776.8 1808.32 777.25 1806.97 777.7 1807.11 778.15 1807.99 778.6 1806.1 779.05 1807.49 779.5 1808.28 779.95 1809.08 780.4 1806.14 780.85 1807.5 781.3 1805.06 781.75 1805.5 782.2 1805.88 782.65 1806.69 783.1 1808.04 783.55 1806.8 784 1806.54 784.45 1807.77 784.9 1807.83 785.35 1807.65 785.8 1807.1 786.25 1805.61 786.7 1807.63 787.15 1806.71 787.6 1808.33 788.05 1808.36 788.5 1807.99 788.95 1809.75 789.4 1807.41 789.85 1807.08 790.3 1805.45 790.75 1808 791.2 1806.97 791.65 1806.71 792.1 1806.17 792.55 1808.61 793 1808.97 793.45 1806.7 793.9 1805.22 794.35 1806.87 794.8 1807.73 795.25 1808.24 795.7 1808.22 796.15 1807.62 796.6 1805.78 797.05 1806.26 797.5 1806.92 797.95 1806.89 798.4 1807.36 798.85 1810.35 799.3 1806.05 799.75 1807.87 800.2 1808.55 800.65 1806.33 801.1 1807.88 801.55 1806.93 802 1806.23 802.45 1806.56 802.9 1805.49 803.35 1807.31 803.8 1807.81 804.25 1806.96 804.7 1807.36 805.15 1808.01 805.6 1809.17 806.05 1809.57 806.5 1807.57 806.95 1808.41 807.4 1807.06 807.85 1807.18 808.3 1809.38 808.75 1807.21 809.2 1807.75 809.65 1808.08 810.1 1808.39 810.55 1808.37 811 1806.25 811.45 1806.9 811.9 1808.54 812.35 1807.05 812.8 1807.58 813.25 1806.37 813.7 1806.87 814.15 1808.88 814.6 1805.36 815.05 1807.09 815.5 1806.96 815.95 1808.4 816.4 1806.41 816.85 1806.87 817.3 1805.84 817.75 1808.92 818.2 1807.87 818.65 1808.5 819.1 1807.7 819.55 1807.71 820 1810.01 820.45 1805.43 820.9 1808.65 821.35 1809.74 821.8 1809.07 822.25 1807.33 822.7 1808.78 823.15 1809.38 823.6 1809.22 824.05 1807.22 824.5 1808.24 824.95 1805.21 825.4 1805.23 825.85 1809.01 826.3 1807.76 826.75 1806.48 827.2 1807.48 827.65 1806.97 828.1 1809.4 828.55 1806.55 829 1808.28 829.45 1806.81 829.9 1809.74 830.35 1808.45 830.8 1807.75 831.25 1808.37 831.7 1807.74 832.15 1807.11 832.6 1807.84 833.05 1806.79 833.5 1808.88 833.95 1810.51 834.4 1805.55 834.85 1809.22 835.3 1807.69 835.75 1806.47 836.2 1807.43 836.65 1808.41 837.1 1807.87 837.55 1807.34 838 1808.42 838.45 1806.87 838.9 1807.55 839.35 1809.85 839.8 1809.08 840.25 1806.42 840.7 1808.76 841.15 1808.01 841.6 1806.35 842.05 1808.06 842.5 1807.99 842.95 1807.43 843.4 1810.08 843.85 1807.84 844.3 1806.73 844.75 1807.07 845.2 1807.1 845.65 1807.67 846.1 1807.58 846.55 1809.01 847 1808.73 847.45 1807.17 847.9 1807.17 848.35 1809.04 848.8 1807.09 849.25 1808.79 849.7 1807.22 850.15 1806.74 850.6 1807.4 851.05 1807.53 851.5 1806.86 851.95 1808.97 852.4 1806.53 852.85 1807.02 853.3 1807.57 853.75 1809.04 854.2 1808.13 854.65 1808.54 855.1 1806.67 855.55 1809.65 856 1807.5 856.45 1805.5 856.9 1807.83 857.35 1806.27 857.8 1807.63 858.25 1808.08 858.7 1809.26 859.15 1807.16 859.6 1807.83 860.05 1807.13 860.5 1806.02 860.95 1806.23 861.4 1808.11 861.85 1809.24 862.3 1807.26 862.75 1806.51 863.2 1810.37 863.65 1809.17 864.1 1807.75 864.55 1807.05 865 1808.11 865.45 1808.64 865.9 1808.43 866.35 1810.54 866.8 1807.94 867.25 1810.08 867.7 1807.93 868.15 1809.74 868.6 1808.27 869.05 1808.31 869.5 1806.91 869.95 1807.55 870.4 1808.28 870.85 1808.55 871.3 1806.76 871.75 1808.37 872.2 1809.35 872.65 1808.37 873.1 1809.29 873.55 1809.21 874 1810.63 874.45 1809.15 874.9 1809.17 875.35 1806.33 875.8 1808.75 876.25 1809.59 876.7 1810.13 877.15 1807.43 877.6 1807.95 878.05 1808.31 878.5 1808.8 878.95 1808.21 879.4 1809.33 879.85 1808.84 880.3 1807.92 880.75 1809.22 881.2 1810.72 881.65 1809.44 882.1 1808.41 882.55 1806.73 883 1808.78 883.45 1807.69 883.9 1807.4 884.35 1807.45 884.8 1808.21 885.25 1808.26 885.7 1807.83 886.15 1807.87 886.6 1809.12 887.05 1807.51 887.5 1811.81 887.95 1810.11 888.4 1808.25 888.85 1806.76 889.3 1809.99 889.75 1809.32 890.2 1807.83 890.65 1810.75 891.1 1808.19 891.55 1808.62 892 1807.79 892.45 1807.71 892.9 1807.55 893.35 1808.04 893.8 1805.28 894.25 1808.78 894.7 1807.23 895.15 1808.57 895.6 1809.29 896.05 1808.57 896.5 1808.43 896.95 1809.54" stroke="#000" stroke-width="1.75" fill="none" stroke-linejoin="round"/>
<path d="M86.5 2002.28 86.95 2001.62 87.4 1999.77 87.85 2003.93 88.3 1997.93 88.75 2000.34 89.2 2001.62 89.65 2000.99 90.1 2000.74 90.55 1997.84 91 2002.36 91.45 1997.93 91.9 1998.8 92.35 1998.69 92.8 1998.46 93.25 1997.4 93.7 2000.62 94.15 1997.98 94.6 1999.3 95.05 1994.87 95.5 1998.24 95.95 1996.69 96.4 1997.51 96.85 1996.99 97.3 1997.16 97.75 1996.08 98.2 1996.15 98.65 1996.05 99.1 1996 99.55 1995.5 100 1994.59 100.45 1995.72 100.9 1993.41 101.35 1997.97 101.8 1995.8 102.25 1996.69 102.7 1993.78 103.15 1991.66 103.6 1991.09 104.05 1992.06 104.5 1992.13 104.95 1992.31 105.4 1992.14 105.85 1993.57 106.3 1988.49 106.75 1994.89 107.2 1991.38 107.65 1992 108.1 1988.64 108.55 1991.77 109 1988.8 109.45 1991.78 109.9 1991.24 110.35 1990.87 110.8 1990.09 111.25 1989.74 111.7 1989.46 112.15 1991.26 112.6 1989.73 113.05 1989.79 113.5 1993.12 113.95 1989.15 114.4 1987.31 114.85 1984.94 115.3 1984.43 115.75 1988.41 116.2 1989.45 116.65 1986.12 117.1 1985.73 117.55 1987.12 118 1987.46 118.45 1988.56 118.9 1986.65 119.35 1985.59 119.8 1987.56 120.25 1984.69 120.7 1983.69 121.15 1984.04 121.6 1985.12 122.05 1984.76 122.5 1985.26 122.95 1985.14 123.4 1988.74 123.85 1985.34 124.3 1980.96 124.75 1981.95 125.2 1984.38 125.65 1982.63 126.1 1987.43 126.55 1983.03 127 1983.01 127.45 1983.72 127.9 1983.02 128.35 1984.19 128.8 1982.75 129.25 1983.58 129.7 1981.94 130.15 1978.51 130.6 1983.41 131.05 1985.32 131.5 1980.92 131.95 1981.46 132.4 1983.57 132.85 1981.3 133.3 1982.23 133.75 1981.54 134.2 1982.81 134.65 1981.48 135.1 1984.89 135.55 1981.55 136 1980.92 136.45 1978.88 136.9 1981.28 137.35 1979.46 137.8 1981.94 138.25 1981.7 138.7 1984.99 139.15 1979.25 139.6 1980.65 140.05 1982.04 140.5 1977.01 140.95 1981.36 141.4 1983.29 141.85 1980.38 142.3 1980.22 142.75 1982.27 143.2 1980.7 143.65 1980.71 144.1 1981.61 144.55 1978.93 145 1983.34 145.45 1979.61 145.9 1980.17 146.35 1979.52 146.8 1975.91 147.25 1977.47 147.7 1979.52 148.15 1980.08 148.6 1981.98 149.05 1984.43 149.5 1981.25 149.95 1979.87 150.4 1979.05 150.85 1982.5 151.3 1979.25 151.75 1980.3 152.2 1982.65 152.65 1980.29 153.1 1980.37 153.55 1980.92 154 1978.08 154.45 1980.65 154.9 1981.21 155.35 1981.6 155.8 1980.48 156.25 1977.59 156.7 1979.93 157.15 1982.57 157.6 1980.12 158.05 1980 158.5 1982.43 158.95 1982.55 159.4 1981.99 159.85 1982.8 160.3 1983.27 160.75 1982.91 161.2 1982.83 161.65 1985.44 162.1 1980.76 162.55 1986.41 163 1983.35 163.45 1981.86 163.9 1984.37 164.35 1985.07 164.8 1981.56 165.25 1983.99 165.7 1985.24 166.15 1985.37 166.6 1984.25 167.05 1982.58 167.5 1984.35 167.95 1988.24 168.4 1983.29 168.85 1989.97 169.3 1985.07 169.75 1985.16 170.2 1984.56 170.65 1985.88 171.1 1986.12 171.55 1984.27 172 1989.45 172.45 1988.24 172.9 1987.05 173.35 1984.45 173.8 1986.13 174.25 1986.6 174.7 1988.37 175.15 1987.03 175.6 1985.5 176.05 1987.22 176.5 1987.35 176.95 1987.87 177.4 1989.43 177.85 1986.97 178.3 1985.8 178.75 1990.42 179.2 1990.23 179.65 1986.8 180.1 1990.16 180.55 1988.26 181 1990.4 181.45 1990.28 181.9 1987.27 182.35 1988 182.8 1989.61 183.25 1987.73 183.7 1988.22 184.15 1988.88 184.6 1990.18 185.05 1990.45 185.5 1989.5 185.95 1990.51 186.4 1993.01 186.85 1992.15 187.3 1992.04 187.75 1990.39 188.2 1990.55 188.65 1989.82 189.1 1990.58 189.55 1989.14 190 1992.02 190.45 1991.77 190.9 1991.44 191.35 1991.69 191.8 1990.76 192.25 1994.18 192.7 1994.17 193.15 1995.28 193.6 1994.03 194.05 1993.34 194.5 1995.23 194.95 1991.87 195.4 1991.76 195.85 1995.66 196.3 1995.07 196.75 1994.81 197.2 1996.7 197.65 1994.55 198.1 1995.12 198.55 1995.55 199 1993.03 199.45 1995.71 199.9 1996.19 200.35 1995.21 200.8 1994.26 201.25 1994.21 201.7 1992.05 202.15 1994.4 202.6 1998.09 203.05 1998.03 203.5 1995.94 203.95 1994.95 204.4 1998.25 204.85 1998.25 205.3 1997.44 205.75 1995.49 206.2 1998.1 206.65 1998.45 207.1 1996.29 207.55 1995.8 208 1996.61 208.45 1997.75 208.9 1998.18 209.35 1998.46 209.8 1997.74 210.25 1997 210.7 1998.5 211.15 1999.73 211.6 1998.45 212.05 1999.41 212.5 1998.22 212.95 1997.21 213.4 1997.81 213.85 1998.24 214.3 1996.09 214.75 1998.33 215.2 1997.68 215.65 1999.05 216.1 2000.03 216.55 1999.07 217 1998.27 217.45 1999.34 217.9 1997.29 218.35 1999.91 218.8 2001.29 219.25 2000.09 219.7 2001.62 220.15 1998.59 220.6 1996.46 221.05 2000.33 221.5 2003.12 221.95 1998.17 222.4 2002.15 222.85 1998.79 223.3 2002.2 223.75 1998.77 224.2 1999.38 224.65 2000.59 225.1 1997.39 225.55 2000.13 226 1999.8 226.45 2001.53 226.9 2000.48 227.35 2000.36 227.8 2000.01 228.25 2003.34 228.7 2001.13 229.15 2000.67 229.6 1996.99 230.05 2002.91 230.5 2000.58 230.95 2001 231.4 2001.97 231.85 2001.06 232.3 2002.99 232.75 2000.65 233.2 2001.48 233.65 2000.88 234.1 2001.56 234.55 2000.98 235 2001.16 235.45 2000.81 235.9 2000.66 236.35 2001.3 236.8 1999.13 237.25 1998.95 237.7 2000.12 238.15 2000.24 238.6 2002.02 239.05 1997.54 239.5 2002.21 239.95 1998.96 240.4 1998.4 240.85 2000.22 241.3 2000.15 241.75 2001.12 242.2 1996.14 242.65 2001.2 243.1 2000.03 243.55 2001.54 244 1998.8 244.45 1996.65 244.9 1998.52 245.35 1998.4 245.8 1999.68 246.25 1999.85 246.7 1994.82 247.15 1995.35 247.6 1997.79 248.05 1996.13 248.5 1998.49 248.95 1998.63 249.4 1999.45 249.85 1995.6 250.3 1996.57 250.75 1995.1 251.2 1993.52 251.65 1991.63 252.1 1992.94 252.55 1991.29 253 1988.6 253.45 1987 253.9 1982.93 254.35 1984.68 254.8 1982.71 255.25 1979.17 255.7 1981.26 256.15 1977.5 256.6 1974.18 257.05 1974.02 257.5 1971.44 257.95 1971.04 258.4 1969.6 258.85 1971.55 259.3 1968.82 259.75 1970.7 260.2 1972.48 260.65 1972.94 261.1 1974.56 261.55 1974.29 262 1975.67 262.45 1978.39 262.9 1978.46 263.35 1981.65 263.8 1980.45 264.25 1982.31 264.7 1982.42 265.15 1985.29 265.6 1982.68 266.05 1985.9 266.5 1986.81 266.95 1986.04 267.4 1987.5 267.85 1983.92 268.3 1982.68 268.75 1984.32 269.2 1984.51 269.65 1985.8 270.1 1984.05 270.55 1984.03 271 1984.26 271.45 1987.23 271.9 1983.4 272.35 1984.22 272.8 1984.74 273.25 1986.7 273.7 1982.12 274.15 1981.37 274.6 1984.09 275.05 1982.94 275.5 1983.37 275.95 1981.31 276.4 1987.21 276.85 1982.37 277.3 1985.68 277.75 1986.08 278.2 1986.68 278.65 1988.11 279.1 1984.98 279.55 1983.97 280 1986.62 280.45 1987.82 280.9 1986.29 281.35 1986.22 281.8 1988.68 282.25 1985.3 282.7 1990.07 283.15 1984.7 283.6 1985.83 284.05 1987.12 284.5 1985.94 284.95 1988.58 285.4 1986.3 285.85 1986.51 286.3 1986.79 286.75 1989.05 287.2 1987.08 287.65 1986.71 288.1 1988.73 288.55 1985.33 289 1984.44 289.45 1986.23 289.9 1986.73 290.35 1984.32 290.8 1985.39 291.25 1986.14 291.7 1985 292.15 1985.47 292.6 1984.55 293.05 1986.47 293.5 1981.44 293.95 1985.74 294.4 1979.26 294.85 1981.94 295.3 1981.47 295.75 1983.35 296.2 1979.76 296.65 1973.27 297.1 1974.85 297.55 1970.25 298 1971.4 298.45 1969.5 298.9 1965.64 299.35 1960.11 299.8 1957.12 300.25 1950.63 300.7 1948.92 301.15 1940.28 301.6 1938.18 302.05 1932.64 302.5 1925.9 302.95 1922.68 303.4 1916.3 303.85 1912.3 304.3 1903.4 304.75 1898.29 305.2 1890.2 305.65 1888.34 306.1 1880.31 306.55 1875.69 307 1870.87 307.45 1871.31 307.9 1868.67 308.35 1866.77 308.8 1868.19 309.25 1870.57 309.7 1871.61 310.15 1875.76 310.6 1878.68 311.05 1884.7 311.5 1890.96 311.95 1895.58 312.4 1899.3 312.85 1908.51 313.3 1917.47 313.75 1918.77 314.2 1925.29 314.65 1932.81 315.1 1937.14 315.55 1942.78 316 1946.09 316.45 1952.08 316.9 1958.91 317.35 1958.16 317.8 1967.74 318.25 1967.71 318.7 1976.05 319.15 1976.25 319.6 1978.89 320.05 1978.86 320.5 1985.25 320.95 1984.77 321.4 1985.08 321.85 1989.63 322.3 1990.54 322.75 1993.27 323.2 1990.16 323.65 1992.34 324.1 1992.23 324.55 1991.81 325 1993.65 325.45 1994.4 325.9 1995.58 326.35 1996.29 326.8 1996.48 327.25 1997.38 327.7 1997.05 328.15 1997.58 328.6 1998.61 329.05 2001.4 329.5 1998.64 329.95 1998.15 330.4 2003.45 330.85 2000.48 331.3 1999.48 331.75 2000.44 332.2 1997.52 332.65 2000.19 333.1 1999.75 333.55 2000.31 334 1999.72 334.45 2001.29 334.9 2004.3 335.35 2000.83 335.8 2002.54 336.25 2004.26 336.7 2002.68 337.15 2001.46 337.6 2003.93 338.05 2004.4 338.5 2001.86 338.95 2001.8 339.4 2001.15 339.85 2002.83 340.3 2003.29 340.75 2002.98 341.2 2003.32 341.65 2004.71 342.1 2004.69 342.55 2007.69 343 2002.16 343.45 2002.36 343.9 2003.67 344.35 2005.35 344.8 2007.22 345.25 2006.34 345.7 2006.7 346.15 2003.12 346.6 2005.68 347.05 2007.95 347.5 2006.42 347.95 2004.56 348.4 2000.91 348.85 2005.71 349.3 2006.37 349.75 2007.95 350.2 2006.15 350.65 2003.84 351.1 2007.58 351.55 2005.07 352 2006.89 352.45 2007.45 352.9 2005.48 353.35 2008.04 353.8 2004.23 354.25 2008.55 354.7 2004.47 355.15 2004.52 355.6 2006.12 356.05 2006.32 356.5 2007.1 356.95 2007.55 357.4 2006.54 357.85 2005.44 358.3 2008.48 358.75 2004.02 359.2 2008.51 359.65 2005.27 360.1 2007.24 360.55 2007.82 361 2004.28 361.45 2007.24 361.9 2007.55 362.35 2006.61 362.8 2008.59 363.25 2007.51 363.7 2005.84 364.15 2006.05 364.6 2005.91 365.05 2004.34 365.5 2008.6 365.95 2003.57 366.4 2008.53 366.85 2010.08 367.3 2008.66 367.75 2007.55 368.2 2006.72 368.65 2005.77 369.1 2006.27 369.55 2008.89 370 2005.74 370.45 2006.73 370.9 2008.42 371.35 2006.98 371.8 2006.84 372.25 2006.9 372.7 2005.99 373.15 2008.08 373.6 2007.31 374.05 2006.7 374.5 2005.69 374.95 2007.09 375.4 2005.83 375.85 2004 376.3 2006.55 376.75 2002.06 377.2 2006.72 377.65 2005.16 378.1 2005.11 378.55 2004.63 379 2007.55 379.45 2005.78 379.9 2004.26 380.35 2004.96 380.8 2004.36 381.25 2007.44 381.7 2004.33 382.15 2004.35 382.6 2004.95 383.05 2004.43 383.5 2002.76 383.95 2005.71 384.4 2004.43 384.85 2005.19 385.3 2000.68 385.75 2003.52 386.2 2004.27 386.65 2004.35 387.1 2002.08 387.55 2007.24 388 2005.24 388.45 2003.55 388.9 2000.41 389.35 1999.37 389.8 2004 390.25 2003.92 390.7 1998.57 391.15 2002.77 391.6 2002.94 392.05 1999.62 392.5 1999.56 392.95 1999.08 393.4 1997.86 393.85 2001.88 394.3 1997.28 394.75 1996.49 395.2 1997.86 395.65 1998.93 396.1 1996.09 396.55 1992.53 397 1994.4 397.45 1992.13 397.9 1989.03 398.35 1991.58 398.8 1990.06 399.25 1987.72 399.7 1985.74 400.15 1989.11 400.6 1985.45 401.05 1983.67 401.5 1982.68 401.95 1983.01 402.4 1979.57 402.85 1980.62 403.3 1977.98 403.75 1976.33 404.2 1974.63 404.65 1971.58 405.1 1973.53 405.55 1970.38 406 1967.81 406.45 1966.05 406.9 1966.62 407.35 1967.36 407.8 1963.48 408.25 1959.67 408.7 1959 409.15 1956.8 409.6 1956.45 410.05 1956.07 410.5 1954.9 410.95 1955.73 411.4 1953.83 411.85 1954.18 412.3 1953.63 412.75 1951.69 413.2 1953.94 413.65 1953.07 414.1 1953.96 414.55 1951.53 415 1954.17 415.45 1955.16 415.9 1953.82 416.35 1957.6 416.8 1956.75 417.25 1958.06 417.7 1960.17 418.15 1958.12 418.6 1958.45 419.05 1962.94 419.5 1965.63 419.95 1968.24 420.4 1969.59 420.85 1973.44 421.3 1972.53 421.75 1972.58 422.2 1974.82 422.65 1975.19 423.1 1978.68 423.55 1978.5 424 1979.65 424.45 1981.28 424.9 1981.66 425.35 1983.76 425.8 1986.09 426.25 1987.56 426.7 1988.73 427.15 1991.75 427.6 1990.28 428.05 1992.9 428.5 1992.74 428.95 1995.18 429.4 1996.71 429.85 1995.38 430.3 1996.19 430.75 1999.04 431.2 1997.97 431.65 2000.18 432.1 2000.55 432.55 2001.55 433 2000.96 433.45 2002.59 433.9 2002.56 434.35 2004.12 434.8 2005.41 435.25 2005.25 435.7 2004.81 436.15 2005.17 436.6 2006.51 437.05 2005.36 437.5 2005.7 437.95 2007.57 438.4 2009.69 438.85 2005.89 439.3 2009.71 439.75 2006.75 440.2 2007.63 440.65 2006.95 441.1 2007.23 441.55 2011.34 442 2007.25 442.45 2008.57 442.9 2006.94 443.35 2009.52 443.8 2007.42 444.25 2006.45 444.7 2007.46 445.15 2008.65 445.6 2006.62 446.05 2007.42 446.5 2004.89 446.95 2012.24 447.4 2007.74 447.85 2008.46 448.3 2006.69 448.75 2009.24 449.2 2006.2 449.65 2009.76 450.1 2006.72 450.55 2005.1 451 2005.93 451.45 2003.15 451.9 2006.29 452.35 2010.32 452.8 2008.4 453.25 2003.95 453.7 2003.31 454.15 1999.6 454.6 2004.89 455.05 2001.15 455.5 2000.61 455.95 2000.87 456.4 2000.28 456.85 1996.93 457.3 1999.82 457.75 1996.19 458.2 1997.68 458.65 1993.92 459.1 1997.03 459.55 1993.75 460 1992.86 460.45 1994.34 460.9 1991.97 461.35 1992.49 461.8 1996.46 462.25 1992.57 462.7 1994.97 463.15 1991.27 463.6 1994.45 464.05 1991.61 464.5 1994.53 464.95 1994.16 465.4 1995.18 465.85 1997.11 466.3 1996.37 466.75 1997.09 467.2 1996.09 467.65 1995.99 468.1 2001.54 468.55 1999.05 469 2001.98 469.45 2001.02 469.9 2002.58 470.35 2005.24 470.8 2004.92 471.25 2005.07 471.7 2004.81 472.15 2008.46 472.6 2008.64 473.05 2006.8 473.5 2007.72 473.95 2008.57 474.4 2011.91 474.85 2009.09 475.3 2010.42 475.75 2011.2 476.2 2011.38 476.65 2010.34 477.1 2012.26 477.55 2011.39 478 2014.06 478.45 2011.49 478.9 2011.61 479.35 2013.14 479.8 2013.1 480.25 2014.86 480.7 2012.81 481.15 2015.36 481.6 2014.53 482.05 2014.38 482.5 2014.31 482.95 2013.37 483.4 2017.35 483.85 2014.25 484.3 2014.36 484.75 2016.68 485.2 2012.97 485.65 2017.64 486.1 2015.2 486.55 2015.21 487 2014.04 487.45 2013.82 487.9 2013.7 488.35 2015.74 488.8 2015.43 489.25 2012.81 489.7 2013.61 490.15 2014.88 490.6 2018.22 491.05 2016.48 491.5 2014.38 491.95 2015.38 492.4 2014.22 492.85 2015.21 493.3 2014.12 493.75 2015.47 494.2 2013.71 494.65 2013.73 495.1 2018.11 495.55 2014.12 496 2014.22 496.45 2016.61 496.9 2017.61 497.35 2018 497.8 2015.79 498.25 2013.72 498.7 2014.79 499.15 2013.95 499.6 2015.19 500.05 2014.91 500.5 2014.22 500.95 2016.39 501.4 2014.89 501.85 2015.9 502.3 2014.65 502.75 2013.93 503.2 2014.52 503.65 2016.09 504.1 2018.1 504.55 2015.48 505 2014.63 505.45 2014.53 505.9 2015.87 506.35 2015.13 506.8 2015.57 507.25 2015.7 507.7 2014.87 508.15 2012.16 508.6 2014.91 509.05 2014.61 509.5 2014.47 509.95 2012.81 510.4 2014.15 510.85 2014.38 511.3 2014.32 511.75 2014.45 512.2 2012.37 512.65 2014.56 513.1 2014.74 513.55 2012.25 514 2015.91 514.45 2014.32 514.9 2015.05 515.35 2016.15 515.8 2014.57 516.25 2013.84 516.7 2016.28 517.15 2016.22 517.6 2014.95 518.05 2014.56 518.5 2013.71 518.95 2014.34 519.4 2013.42 519.85 2016.38 520.3 2015.43 520.75 2013.74 521.2 2015.32 521.65 2015.89 522.1 2015.83 522.55 2014.88 523 2013.83 523.45 2014.74 523.9 2015.45 524.35 2013.84 524.8 2015.78 525.25 2011.33 525.7 2016.62 526.15 2016.55 526.6 2017.48 527.05 2014 527.5 2016.79 527.95 2013.95 528.4 2014.43 528.85 2015.31 529.3 2014.99 529.75 2015.43 530.2 2014.3 530.65 2014.96 531.1 2018.46 531.55 2014.07 532 2014.56 532.45 2016.3 532.9 2016.8 533.35 2014.85 533.8 2015.17 534.25 2015.51 534.7 2016.91 535.15 2014.33 535.6 2015.99 536.05 2016.11 536.5 2014.11 536.95 2017.82 537.4 2017.52 537.85 2012.78 538.3 2016 538.75 2017.78 539.2 2017 539.65 2018.46 540.1 2016.06 540.55 2016.66 541 2015.6 541.45 2016.54 541.9 2017.55 542.35 2014.59 542.8 2018.18 543.25 2017.09 543.7 2015.32 544.15 2016.29 544.6 2017.81 545.05 2017.26 545.5 2019.95 545.95 2018.83 546.4 2017.13 546.85 2017.15 547.3 2016.31 547.75 2018.41 548.2 2016.01 548.65 2018.82 549.1 2017.82 549.55 2016.11 550 2016.87 550.45 2017.52 550.9 2015.85 551.35 2017.3 551.8 2018.54 552.25 2017.93 552.7 2019.05 553.15 2016.35 553.6 2017.29 554.05 2019.23 554.5 2015.1 554.95 2015.61 555.4 2018.5 555.85 2017.34 556.3 2016.38 556.75 2016.72 557.2 2017.62 557.65 2018.02 558.1 2014.66 558.55 2016.96 559 2016.19 559.45 2016.14 559.9 2016.41 560.35 2016.41 560.8 2016.64 561.25 2018.99 561.7 2016.66 562.15 2017.16 562.6 2018.28 563.05 2016.85 563.5 2017.27 563.95 2018.37 564.4 2019.39 564.85 2015.45 565.3 2017.21 565.75 2017.18 566.2 2017.32 566.65 2017.78 567.1 2016.51 567.55 2017.23 568 2017.7 568.45 2019.58 568.9 2019.73 569.35 2018.48 569.8 2019.11 570.25 2020.35 570.7 2016.25 571.15 2015.23 571.6 2016.88 572.05 2019.06 572.5 2016.81 572.95 2014.67 573.4 2016.81 573.85 2017.44 574.3 2018.13 574.75 2017.38 575.2 2016.29 575.65 2016.75 576.1 2017.02 576.55 2016.84 577 2018.33 577.45 2018.12 577.9 2017.77 578.35 2018.13 578.8 2016.3 579.25 2018.54 579.7 2019.17 580.15 2016.95 580.6 2020.1 581.05 2018.77 581.5 2017.91 581.95 2017.36 582.4 2017.11 582.85 2015.61 583.3 2016.48 583.75 2015.57 584.2 2016.45 584.65 2019.19 585.1 2017.84 585.55 2016.23 586 2018.73 586.45 2019.13 586.9 2013.97 587.35 2016.18 587.8 2017.4 588.25 2017.32 588.7 2016.31 589.15 2015.87 589.6 2016.88 590.05 2018.7 590.5 2017.99 590.95 2016.41 591.4 2017.05 591.85 2015.75 592.3 2016.94 592.75 2015.34 593.2 2018.08 593.65 2018.47 594.1 2014.26 594.55 2017.07 595 2017.49 595.45 2016.62 595.9 2014.56 596.35 2017.73 596.8 2016.95 597.25 2017.13 597.7 2017.17 598.15 2016.49 598.6 2014.57 599.05 2016.3 599.5 2015.53 599.95 2015.26 600.4 2015.75 600.85 2015.67 601.3 2016 601.75 2015.1 602.2 2016.36 602.65 2016.72 603.1 2017 603.55 2018.82 604 2013.09 604.45 2016.15 604.9 2014.97 605.35 2017.16 605.8 2017.56 606.25 2015.46 606.7 2015.92 607.15 2016.82 607.6 2016.44 608.05 2015.95 608.5 2016.38 608.95 2014.86 609.4 2016.7 609.85 2014.43 610.3 2015.59 610.75 2019.15 611.2 2015.3 611.65 2013.3 612.1 2017.82 612.55 2017.46 613 2016.23 613.45 2016.92 613.9 2017.39 614.35 2016.3 614.8 2014.8 615.25 2013.65 615.7 2016.43 616.15 2015.72 616.6 2013.61 617.05 2017.08 617.5 2015.69 617.95 2018.64 618.4 2015.61 618.85 2017.1 619.3 2015.27 619.75 2014.82 620.2 2016.32 620.65 2015.72 621.1 2017.76 621.55 2013.82 622 2015.72 622.45 2015.84 622.9 2012.46 623.35 2015.63 623.8 2015.95 624.25 2015.62 624.7 2016.65 625.15 2017.76 625.6 2014.27 626.05 2014.21 626.5 2015.73 626.95 2014.92 627.4 2014.44 627.85 2014.16 628.3 2017.61 628.75 2013.41 629.2 2016.82 629.65 2017.75 630.1 2015.29 630.55 2016.39 631 2016.49 631.45 2014.94 631.9 2015.6 632.35 2017.97 632.8 2017.6 633.25 2018.4 633.7 2015.51 634.15 2017.18 634.6 2015.71 635.05 2015.49 635.5 2018.42 635.95 2015.82 636.4 2017.04 636.85 2016.53 637.3 2017.17 637.75 2014.08 638.2 2018.53 638.65 2016.4 639.1 2014.55 639.55 2017.07 640 2015.71 640.45 2016.57 640.9 2017.97 641.35 2015.31 641.8 2017.74 642.25 2016.83 642.7 2018.71 643.15 2014.68 643.6 2017.96 644.05 2015.07 644.5 2014.82 644.95 2018.16 645.4 2013.55 645.85 2014.81 646.3 2016.26 646.75 2019.75 647.2 2016.41 647.65 2016.55 648.1 2016.49 648.55 2018.9 649 2017.91 649.45 2019.09 649.9 2016.75 650.35 2017.86 650.8 2017.79 651.25 2014.17 651.7 2017.99 652.15 2015.7 652.6 2016.08 653.05 2018.18 653.5 2017.49 653.95 2014.73 654.4 2017.66 654.85 2016.24 655.3 2019.87 655.75 2018.57 656.2 2016.71 656.65 2020.87 657.1 2017.19 657.55 2016.53 658 2017.67 658.45 2019.58 658.9 2019.12 659.35 2017.08 659.8 2019.37 660.25 2016.39 660.7 2017.39 661.15 2016.3 661.6 2019.95 662.05 2020.41 662.5 2020.76 662.95 2018.53 663.4 2018.04 663.85 2020.13 664.3 2018.49 664.75 2017.63 665.2 2019.76 665.65 2019.7 666.1 2015.84 666.55 2017.24 667 2017.12 667.45 2017.18 667.9 2018.14 668.35 2019.24 668.8 2016.11 669.25 2016.05 669.7 2017.36 670.15 2018.52 670.6 2020.39 671.05 2017.55 671.5 2019.19 671.95 2016.67 672.4 2018.34 672.85 2022.31 673.3 2017.14 673.75 2018.77 674.2 2018.13 674.65 2019.56 675.1 2018.75 675.55 2016.86 676 2020.14 676.45 2017.71 676.9 2018.36 677.35 2019.99 677.8 2016.64 678.25 2016.49 678.7 2019.22 679.15 2019.26 679.6 2018.42 680.05 2019.72 680.5 2018.43 680.95 2019.43 681.4 2019.45 681.85 2018.61 682.3 2020.34 682.75 2017.61 683.2 2020.68 683.65 2018.27 684.1 2019.36 684.55 2019.3 685 2020.58 685.45 2018.47 685.9 2020.39 686.35 2018.09 686.8 2016.6 687.25 2019.94 687.7 2019.36 688.15 2017.55 688.6 2017.03 689.05 2020.17 689.5 2018.37 689.95 2018.15 690.4 2018.01 690.85 2019.78 691.3 2019.39 691.75 2020.02 692.2 2021.24 692.65 2017.93 693.1 2019.6 693.55 2019.87 694 2017.73 694.45 2018.76 694.9 2018.26 695.35 2019.7 695.8 2021.43 696.25 2020 696.7 2020.36 697.15 2020.14 697.6 2018.52 698.05 2020.21 698.5 2019.48 698.95 2019.51 699.4 2021.06 699.85 2018.61 700.3 2020.45 700.75 2017.08 701.2 2020.02 701.65 2018.92 702.1 2019.12 702.55 2018.49 703 2019.39 703.45 2019.53 703.9 2019.5 704.35 2021.43 704.8 2023.01 705.25 2019.56 705.7 2018.88 706.15 2019.12 706.6 2021.47 707.05 2018.64 707.5 2018.41 707.95 2019.02 708.4 2018.92 708.85 2018.72 709.3 2020.05 709.75 2018.82 710.2 2017.57 710.65 2018.83 711.1 2020 711.55 2020.06 712 2018.97 712.45 2019 712.9 2018.42 713.35 2018.09 713.8 2019.71 714.25 2017.18 714.7 2021.02 715.15 2020.49 715.6 2019.64 716.05 2019.63 716.5 2020.45 716.95 2019.69 717.4 2018.48 717.85 2019.65 718.3 2021.35 718.75 2018.21 719.2 2017.92 719.65 2020.59 720.1 2020.82 720.55 2018.82 721 2020.03 721.45 2020.48 721.9 2019.81 722.35 2019.44 722.8 2019.2 723.25 2020.65 723.7 2019.01 724.15 2019.65 724.6 2019.49 725.05 2021.56 725.5 2017.71 725.95 2019.66 726.4 2018.58 726.85 2019.64 727.3 2019.5 727.75 2020.95 728.2 2020.17 728.65 2019.56 729.1 2019.62 729.55 2018.44 730 2019.36 730.45 2019.88 730.9 2019.91 731.35 2018.7 731.8 2019.65 732.25 2019.12 732.7 2020.11 733.15 2019.62 733.6 2019.76 734.05 2020.59 734.5 2020.95 734.95 2018.88 735.4 2021.78 735.85 2019.84 736.3 2021.24 736.75 2019.8 737.2 2017.1 737.65 2020.47 738.1 2020.56 738.55 2019.2 739 2019.58 739.45 2018.4 739.9 2019.14 740.35 2018.02 740.8 2020.97 741.25 2020.73 741.7 2019.9 742.15 2020.97 742.6 2019.96 743.05 2023.32 743.5 2021.33 743.95 2020.18 744.4 2023.52 744.85 2019.68 745.3 2018.59 745.75 2019.3 746.2 2017.2 746.65 2019.62 747.1 2021.14 747.55 2018.51 748 2019.81 748.45 2019.56 748.9 2017.89 749.35 2020.7 749.8 2019.79 750.25 2021.06 750.7 2020.41 751.15 2017.75 751.6 2019.37 752.05 2020.34 752.5 2020 752.95 2021.9 753.4 2020.14 753.85 2020.89 754.3 2018.91 754.75 2019.29 755.2 2022.87 755.65 2017.39 756.1 2020.41 756.55 2019.93 757 2018.97 757.45 2019.99 757.9 2019.59 758.35 2019.14 758.8 2020.43 759.25 2022.12 759.7 2018.32 760.15 2020.39 760.6 2019.87 761.05 2022.84 761.5 2021.27 761.95 2018.98 762.4 2020.7 762.85 2022.22 763.3 2022.25 763.75 2019.84 764.2 2022.31 764.65 2018.98 765.1 2019.8 765.55 2021.63 766 2020.2 766.45 2021.68 766.9 2021.99 767.35 2020.44 767.8 2019.62 768.25 2019.81 768.7 2020.88 769.15 2020.55 769.6 2018.84 770.05 2022.97 770.5 2020.87 770.95 2018.65 771.4 2020.24 771.85 2022.32 772.3 2022.4 772.75 2021.51 773.2 2018.57 773.65 2021.2 774.1 2021.43 774.55 2021.97 775 2019.65 775.45 2019.19 775.9 2020.09 776.35 2022.13 776.8 2021.21 777.25 2019.72 777.7 2022.87 778.15 2020.9 778.6 2022.99 779.05 2021.18 779.5 2020.58 779.95 2021.13 780.4 2019.88 780.85 2021.92 781.3 2019.71 781.75 2021.39 782.2 2023.64 782.65 2019.36 783.1 2021.13 783.55 2021.8 784 2021.32 784.45 2019.33 784.9 2021.62 785.35 2020.59 785.8 2021.59 786.25 2021.82 786.7 2021.34 787.15 2021.69 787.6 2022.14 788.05 2021.96 788.5 2021.56 788.95 2021.35 789.4 2020.72 789.85 2020.93 790.3 2020.23 790.75 2020.96 791.2 2019.98 791.65 2019.99 792.1 2017.97 792.55 2023.06 793 2021.15 793.45 2020.48 793.9 2021.77 794.35 2019.61 794.8 2023.07 795.25 2020.97 795.7 2021.22 796.15 2020.72 796.6 2021.34 797.05 2020.22 797.5 2022.39 797.95 2022.54 798.4 2022.27 798.85 2021.74 799.3 2021.6 799.75 2021.4 800.2 2019.1 800.65 2021.33 801.1 2022.26 801.55 2020.12 802 2021.4 802.45 2020.3 802.9 2018.43 803.35 2021.75 803.8 2018.91 804.25 2020.71 804.7 2021.47 805.15 2020.42 805.6 2021.64 806.05 2021.46 806.5 2022.57 806.95 2020.33 807.4 2020.52 807.85 2021.88 808.3 2019.41 808.75 2021.61 809.2 2022.29 809.65 2019.52 810.1 2021.38 810.55 2024.31 811 2021.25 811.45 2019.75 811.9 2021.81 812.35 2020.15 812.8 2022.32 813.25 2020.55 813.7 2021.9 814.15 2021.4 814.6 2022.41 815.05 2022.89 815.5 2019.36 815.95 2020.64 816.4 2022.9 816.85 2023.14 817.3 2021.16 817.75 2020.04 818.2 2023.61 818.65 2020.6 819.1 2023.86 819.55 2022.54 820 2021.5 820.45 2020.55 820.9 2022.52 821.35 2022.04 821.8 2020.25 822.25 2021.74 822.7 2021.67 823.15 2021.31 823.6 2022.45 824.05 2024.44 824.5 2022.89 824.95 2022.31 825.4 2021.57 825.85 2021.47 826.3 2023.59 826.75 2022.29 827.2 2021.93 827.65 2023.04 828.1 2020.96 828.55 2022.24 829 2020.3 829.45 2022.89 829.9 2021.73 830.35 2021.51 830.8 2020.87 831.25 2022.76 831.7 2022.35 832.15 2023.48 832.6 2020.7 833.05 2022.7 833.5 2023.64 833.95 2019.79 834.4 2022.37 834.85 2022.66 835.3 2022.22 835.75 2021.68 836.2 2022.86 836.65 2020.81 837.1 2022.93 837.55 2022.55 838 2022.61 838.45 2019.95 838.9 2021.61 839.35 2022.05 839.8 2022.19 840.25 2021.44 840.7 2024.91 841.15 2022.35 841.6 2021.24 842.05 2022.16 842.5 2022.11 842.95 2023.37 843.4 2021.1 843.85 2019.66 844.3 2022.03 844.75 2022.33 845.2 2021.52 845.65 2022.08 846.1 2022.37 846.55 2021.11 847 2021.92 847.45 2022.76 847.9 2021.97 848.35 2020.72 848.8 2024.61 849.25 2022.35 849.7 2022.51 850.15 2023.03 850.6 2023.68 851.05 2021.78 851.5 2021.72 851.95 2021.7 852.4 2019.81 852.85 2022.6 853.3 2022.5 853.75 2020.72 854.2 2022.82 854.65 2022.1 855.1 2022.43 855.55 2023.27 856 2022.65 856.45 2023.18 856.9 2023.39 857.35 2023.22 857.8 2022.88 858.25 2023.7 858.7 2022.4 859.15 2022.01 859.6 2020.26 860.05 2022.79 860.5 2020.91 860.95 2024.68 861.4 2023.04 861.85 2023.09 862.3 2022.71 862.75 2022.88 863.2 2023.31 863.65 2021.51 864.1 2022.91 864.55 2022.75 865 2023.05 865.45 2023.12 865.9 2023.54 866.35 2023.52 866.8 2023.57 867.25 2021.83 867.7 2024.29 868.15 2022.43 868.6 2023.52 869.05 2022.36 869.5 2023.68 869.95 2022.98 870.4 2021.68 870.85 2024.89 871.3 2022.31 871.75 2023.29 872.2 2024.01 872.65 2023.9 873.1 2022.1 873.55 2024.01 874 2024.49 874.45 2022.49 874.9 2023.1 875.35 2022.73 875.8 2022.57 876.25 2023.58 876.7 2020.99 877.15 2021.55 877.6 2024.11 878.05 2022.31 878.5 2024.9 878.95 2024.05 879.4 2022.83 879.85 2024.41 880.3 2021.93 880.75 2021.16 881.2 2024.8 881.65 2023.19 882.1 2026.58 882.55 2025.34 883 2021.62 883.45 2023.34 883.9 2023.26 884.35 2022.14 884.8 2024.64 885.25 2022.99 885.7 2023.66 886.15 2023.11 886.6 2023.4 887.05 2022.13 887.5 2023.12 887.95 2023.08 888.4 2024.27 888.85 2022.68 889.3 2021.18 889.75 2024.18 890.2 2022.84 890.65 2022.65 891.1 2023.45 891.55 2021.69 892 2023.94 892.45 2023.25 892.9 2022.33 893.35 2023.6 893.8 2023.54 894.25 2024.74 894.7 2022.17 895.15 2022.7 895.6 2021.7 896.05 2023.65 896.5 2022.84 896.95 2023.71" stroke="#000" stroke-width="1.75" fill="none" stroke-linejoin="round"/>
<path d="M86.5 2236.37 87 2236.48 87.5 2236.63 88 2236.48 88.5 2236.41 89 2236.35 89.5 2236.7 90 2236.57 90.5 2236.51 91 2236.47 91.5 2236.26 92 2236.65 92.5 2236.51 93 2236.65 93.5 2236.88 94 2236.62 94.5 2236.66 95 2236.83 95.5 2236.66 96 2236.72 96.5 2236.53 97 2236.58 97.5 2236.48 98 2236.87 98.5 2236.92 99 2236.67 99.5 2236.73 100 2236.7 100.5 2237.16 101 2236.92 101.5 2236.75 102 2236.88 102.5 2236.98 103 2236.63 103.5 2236.88 104 2236.88 104.5 2236.79 105 2236.9 105.5 2236.97 106 2236.79 106.5 2236.73 107 2236.92 107.5 2236.8 108 2236.84 108.5 2237.06 109 2236.82 109.5 2236.75 110 2236.54 110.5 2236.77 111 2236.74 111.5 2236.75 112 2236.72 112.5 2236.72 113 2236.62 113.5 2236.57 114 2236.6 114.5 2236.37 115 2236.29 115.5 2236.25 116 2236.37 116.5 2236.04 117 2236.18 117.5 2236.17 118 2236.18 118.5 2235.92 119 2236.02 119.5 2235.94 120 2235.77 120.5 2235.77 121 2235.63 121.5 2235.38 122 2235.37 122.5 2235.14 123 2235.39 123.5 2234.89 124 2234.61 124.5 2234.24 125 2234.16 125.5 2233.88 126 2233.41 126.5 2232.72 127 2232.19 127.5 2231.5 128 2230.89 128.5 2229.81 129 2228.86 129.5 2227.93 130 2226.02 130.5 2224.74 131 2223.1 131.5 2221.04 132 2219.43 132.5 2217.1 133 2214.9 133.5 2212.47 134 2209.92 134.5 2206.6 135 2202.97 135.5 2198.11 136 2191.35 136.5 2181.87 137 2167.14 137.5 2147.2 138 2122.88 138.5 2097.12 139 2078.69 139.5 2079.57 140 2099.25 140.5 2127.49 141 2155.02 141.5 2177.03 142 2193.46 142.5 2205.12 143 2212.98 143.5 2218.19 144 2222.12 144.5 2224.55 145 2226.66 145.5 2228.48 146 2229.99 146.5 2231.03 147 2231.76 147.5 2232.38 148 2232.78 148.5 2233.72 149 2233.94 149.5 2234.69 150 2234.69 150.5 2234.69 151 2235.41 151.5 2235.5 152 2235.6 152.5 2235.9 153 2236.05 153.5 2236.25 154 2236.08 154.5 2236.48 155 2236.66 155.5 2236.52 156 2237 156.5 2236.88 157 2236.69 157.5 2237.32 158 2237.1 158.5 2237.24 159 2237.27 159.5 2237.66 160 2237.43 160.5 2237.38 161 2237.45 161.5 2237.68 162 2237.74 162.5 2237.6 163 2237.88 163.5 2237.68 164 2237.85 164.5 2237.95 165 2237.95 165.5 2237.99 166 2238.03 166.5 2237.94 167 2238.09 167.5 2238.14 168 2237.92 168.5 2237.91 169 2238.19 169.5 2238.16 170 2238.2 170.5 2238.3 171 2238.26 171.5 2238.14 172 2238.31 172.5 2238.13 173 2238.51 173.5 2238.42 174 2238.27 174.5 2238.18 175 2238.36 175.5 2238.27 176 2238.18 176.5 2238.38 177 2238.32 177.5 2238.43 178 2238.28 178.5 2238.59 179 2238.56 179.5 2238.06 180 2237.98 180.5 2238.14 181 2238.5 181.5 2238.36 182 2238.26 182.5 2238.26 183 2238.01 183.5 2238.19 184 2237.98 184.5 2238.12 185 2237.98 185.5 2237.89 186 2237.82 186.5 2237.89 187 2237.98 187.5 2237.29 188 2237.47 188.5 2237.06 189 2237.01 189.5 2236.45 190 2235.38 190.5 2234.29 191 2232.58 191.5 2229.8 192 2225.66 192.5 2221.02 193 2216.65 193.5 2213.87 194 2214.13 194.5 2217.42 195 2222.12 195.5 2226.61 196 2230.17 196.5 2232.66 197 2234.68 197.5 2235.77 198 2236.56 198.5 2236.88 199 2237.12 199.5 2237.51 200 2237.67 200.5 2237.88 201 2237.42 201.5 2237.5 202 2237.41 202.5 2237.6 203 2236.75 203.5 2237.09 204 2236.82 204.5 2236.92 205 2237.45 205.5 2237.71 206 2237.38 206.5 2237.89 207 2238.24 207.5 2238.28 208 2238.61 208.5 2238.37 209 2238.5 209.5 2238.24 210 2238.67 210.5 2238.61 211 2238.73 211.5 2238.52 212 2238.91 212.5 2238.55 213 2238.91 213.5 2238.93 214 2238.52 214.5 2238.69 215 2238.56 215.5 2238.38 216 2238.73 216.5 2238.64 217 2238.83 217.5 2238.86 218 2238.36 218.5 2238.55 219 2238.64 219.5 2238.69 220 2238.56 220.5 2238.4 221 2238.45 221.5 2238.55 222 2238.22 222.5 2238.16 223 2238.12 223.5 2238.16 224 2238.39 224.5 2238.04 225 2238.13 225.5 2238.12 226 2237.98 226.5 2237.69 227 2237.47 227.5 2237.27 228 2236.99 228.5 2236.62 229 2236.42 229.5 2235.99 230 2235.09 230.5 2234.07 231 2232.73 231.5 2230.47 232 2227.12 232.5 2221.95 233 2214.96 233.5 2205.95 234 2196.46 234.5 2188.16 235 2184.53 235.5 2187.82 236 2195.86 236.5 2205.4 237 2214.47 237.5 2221.7 238 2227.11 238.5 2230.33 239 2232.62 239.5 2234.34 240 2235.47 240.5 2235.84 241 2236.54 241.5 2236.81 242 2237.29 242.5 2237.31 243 2237.56 243.5 2237.76 244 2237.91 244.5 2237.86 245 2238.09 245.5 2238.05 246 2238.45 246.5 2238.32 247 2237.92 247.5 2237.78 248 2237.71 248.5 2237.4 249 2237.31 249.5 2237.55 250 2237.81 250.5 2237.99 251 2238.4 251.5 2238.45 252 2238.62 252.5 2238.72 253 2238.82 253.5 2238.85 254 2239.23 254.5 2239.19 255 2239.07 255.5 2239.13 256 2239.01 256.5 2239.25 257 2239.15 257.5 2239.17 258 2239.16 258.5 2238.99 259 2239.14 259.5 2239.46 260 2239.11 260.5 2239.1 261 2239.2 261.5 2239.1 262 2239.08 262.5 2239.05 263 2239.07 263.5 2239.19 264 2238.82 264.5 2238.92 265 2238.88 265.5 2239 266 2238.75 266.5 2238.74 267 2238.25 267.5 2238.06 268 2236.97 268.5 2236.6 269 2235.05 269.5 2234.03 270 2232.97 270.5 2232.66 271 2233.24 271.5 2234.03 272 2234.98 272.5 2236.23 273 2237.34 273.5 2237.86 274 2238.17 274.5 2238.52 275 2238.61 275.5 2238.24 276 2238.29 276.5 2238.2 277 2238.31 277.5 2238.08 278 2238.1 278.5 2238.04 279 2238.48 279.5 2238.59 280 2239.05 280.5 2239.13 281 2239.46 281.5 2239.43 282 2239.5 282.5 2239.59 283 2239.71 283.5 2239.54 284 2239.53 284.5 2239.65 285 2240.1 285.5 2239.57 286 2239.54 286.5 2239.72 287 2239.45 287.5 2239.77 288 2239.52 288.5 2239.64 289 2239.65 289.5 2239.56 290 2239.76 290.5 2239.69 291 2239.83 291.5 2239.76 292 2239.6 292.5 2239.76 293 2239.73 293.5 2239.63 294 2239.62 294.5 2239.71 295 2239.4 295.5 2239.62 296 2239.37 296.5 2239.29 297 2239.15 297.5 2239.05 298 2237.99 298.5 2237.15 299 2236.47 299.5 2234.92 300 2233.51 300.5 2231.9 301 2231.42 301.5 2231.33 302 2231.96 302.5 2233.75 303 2235.07 303.5 2236.31 304 2237.17 304.5 2238.45 305 2238.56 305.5 2239.12 306 2239.13 306.5 2239.21 307 2239.59 307.5 2239.6 308 2239.62 308.5 2239.48 309 2239.62 309.5 2239.59 310 2239.63 310.5 2239.29 311 2239.18 311.5 2239.02 312 2238.33 312.5 2238.5 313 2238.59 313.5 2238.5 314 2238.64 314.5 2238.94 315 2239.25 315.5 2239 316 2239.31 316.5 2239.38 317 2239.36 317.5 2239.75 318 2239.47 318.5 2239.62 319 2239.68 319.5 2239.73 320 2239.3 320.5 2239.24 321 2239.11 321.5 2239.38 322 2239.08 322.5 2239.16 323 2239.09 323.5 2239.01 324 2238.31 324.5 2238.09 325 2237.48 325.5 2236.26 326 2235.27 326.5 2233.28 327 2229.96 327.5 2226.5 328 2222.17 328.5 2218.19 329 2215.8 329.5 2216.54 330 2220.3 330.5 2224.4 331 2228.35 331.5 2231.88 332 2234.07 332.5 2236.07 333 2237.06 333.5 2237.5 334 2238.23 334.5 2238.84 335 2239.1 335.5 2239.26 336 2239.32 336.5 2239.48 337 2239.3 337.5 2239.62 338 2240.17 338.5 2239.79 339 2239.75 339.5 2240.19 340 2239.9 340.5 2239.92 341 2240 341.5 2240.07 342 2239.86 342.5 2240.07 343 2240.03 343.5 2239.84 344 2240.17 344.5 2240.13 345 2240.07 345.5 2240.09 346 2240.33 346.5 2239.75 347 2240.31 347.5 2240.21 348 2240.2 348.5 2240.15 349 2240.15 349.5 2240.32 350 2240.04 350.5 2240.41 351 2239.89 351.5 2240.08 352 2239.82 352.5 2239.89 353 2239.48 353.5 2238.81 354 2238.81 354.5 2238.37 355 2238.51 355.5 2238.59 356 2238.76 356.5 2239.09 357 2239.56 357.5 2239.78 358 2239.95 358.5 2239.95 359 2240.28 359.5 2240.17 360 2240.04 360.5 2240.1 361 2240.66 361.5 2240.36 362 2240.28 362.5 2240.3 363 2240.39 363.5 2240.44 364 2240.44 364.5 2240.59 365 2240.4 365.5 2240.56 366 2240.51 366.5 2240.45 367 2240.62 367.5 2240.6 368 2240.41 368.5 2240.64 369 2240.48 369.5 2240.34 370 2240.86 370.5 2240.78 371 2240.29 371.5 2240.61 372 2240.61 372.5 2240.53 373 2240.46 373.5 2240.64 374 2240.64 374.5 2240.54 375 2240.72 375.5 2240.38 376 2240.23 376.5 2240.75 377 2240.86 377.5 2240.38 378 2240.46 378.5 2240.97 379 2240.62 379.5 2240.81 380 2240.83 380.5 2240.67 381 2240.51 381.5 2240.91 382 2240.71 382.5 2240.49 383 2240.49 383.5 2240.68 384 2240.43 384.5 2241.02 385 2240.78 385.5 2240.82 386 2240.65 386.5 2240.77 387 2240.35 387.5 2240.57 388 2240.75 388.5 2240.49 389 2240.54 389.5 2240.5 390 2240.82 390.5 2240.83 391 2240.65 391.5 2240.75 392 2240.63 392.5 2240.43 393 2240.5 393.5 2240.55 394 2240.7 394.5 2240.59 395 2240.74 395.5 2240.45 396 2240.64 396.5 2240.5 397 2240.62 397.5 2240.32 398 2240.23 398.5 2239.52 399 2239.52 399.5 2238.91 400 2238.39 400.5 2237.67 401 2236.9 401.5 2237.16 402 2237.33 402.5 2237.64 403 2238.43 403.5 2238.89 404 2239.68 404.5 2239.67 405 2240.25 405.5 2240.35 406 2240.19 406.5 2240.44 407 2240.66 407.5 2240.42 408 2240.51 408.5 2240.61 409 2240.59 409.5 2240.67 410 2240.67 410.5 2240.71 411 2240.6 411.5 2240.69 412 2240.53 412.5 2240.91 413 2240.64 413.5 2240.75 414 2240.65 414.5 2240.83 415 2240.62 415.5 2241 416 2240.79 416.5 2240.73 417 2240.92 417.5 2240.86 418 2240.71 418.5 2240.52 419 2240.7 419.5 2240.7 420 2240.49 420.5 2240.61 421 2240.4 421.5 2240.44 422 2240.15 422.5 2239.86 423 2239.55 423.5 2239.66 424 2239.54 424.5 2240.26 425 2240.29 425.5 2240.46 426 2240.44 426.5 2240.61 427 2240.34 427.5 2240.59 428 2240.45 428.5 2240.78 429 2240.67 429.5 2240.92 430 2240.54 430.5 2240.75 431 2240.85 431.5 2240.61 432 2240.72 432.5 2240.86 433 2240.44 433.5 2240.67 434 2240.62 434.5 2240.61 435 2240.3 435.5 2240.55 436 2240.26 436.5 2240.81 437 2240.5 437.5 2240.52 438 2240.35 438.5 2240.44 439 2240.21 439.5 2240.2 440 2240.16 440.5 2239.71 441 2239.3 441.5 2238.67 442 2237.82 442.5 2236.65 443 2235.51 443.5 2234.46 444 2233.71 444.5 2234.1 445 2235.28 445.5 2236.23 446 2237.31 446.5 2238.12 447 2238.95 447.5 2239.72 448 2240.21 448.5 2240.21 449 2240.12 449.5 2240.11 450 2240.39 450.5 2240.79 451 2240.64 451.5 2240.44 452 2240.57 452.5 2240.59 453 2240.81 453.5 2240.86 454 2240.8 454.5 2240.38 455 2240.82 455.5 2240.9 456 2240.57 456.5 2240.73 457 2240.71 457.5 2240.38 458 2240.35 458.5 2240.49 459 2240.45 459.5 2240.55 460 2240.25 460.5 2240.12 461 2239.96 461.5 2239.94 462 2239.28 462.5 2239.04 463 2238.52 463.5 2237.91 464 2237.9 464.5 2237.9 465 2238.42 465.5 2239.01 466 2239.35 466.5 2239.76 467 2240.06 467.5 2240.2 468 2240.61 468.5 2240.27 469 2240.54 469.5 2240.39 470 2240.5 470.5 2240.59 471 2240.95 471.5 2240.59 472 2240.58 472.5 2240.65 473 2240.52 473.5 2240.39 474 2240.67 474.5 2240.61 475 2240.45 475.5 2240.42 476 2240.6 476.5 2240.29 477 2240.11 477.5 2240 478 2239.46 478.5 2239.7 479 2239.09 479.5 2238.33 480 2236.93 480.5 2235.99 481 2234.34 481.5 2233.01 482 2232.39 482.5 2232.35 483 2232.91 483.5 2234.48 484 2236.02 484.5 2237.31 485 2238.27 485.5 2239.14 486 2239.64 486.5 2239.89 487 2240.3 487.5 2240.16 488 2240.36 488.5 2240.26 489 2240.51 489.5 2240.68 490 2240.85 490.5 2240.5 491 2240.42 491.5 2240.51 492 2240.62 492.5 2240.83 493 2240.54 493.5 2240.71 494 2241.05 494.5 2240.8 495 2240.88 495.5 2240.85 496 2240.63 496.5 2240.97 497 2241.06 497.5 2240.77 498 2240.79 498.5 2240.73 499 2240.92 499.5 2240.77 500 2241.05 500.5 2240.83 501 2240.88 501.5 2240.95 502 2240.68 502.5 2240.52 503 2240.88 503.5 2240.71 504 2240.57 504.5 2240.77 505 2240.95 505.5 2240.75 506 2240.99 506.5 2240.75 507 2240.79 507.5 2240.52 508 2240.7 508.5 2240.84 509 2240.82 509.5 2240.63 510 2240.87 510.5 2241.27 511 2240.99 511.5 2240.87 512 2240.64 512.5 2240.61 513 2240.79 513.5 2240.65 514 2240.92 514.5 2240.64 515 2240.75 515.5 2240.66 516 2240.66 516.5 2240.48 517 2240.37 517.5 2240.29 518 2240.21 518.5 2239.98 519 2239.72 519.5 2239.74 520 2239.92 520.5 2240.04 521 2240.25 521.5 2240.45 522 2240.83 522.5 2240.63 523 2240.61 523.5 2240.82 524 2240.86 524.5 2240.79 525 2240.64 525.5 2240.78 526 2240.91 526.5 2240.54 527 2240.74 527.5 2240.66 528 2240.85 528.5 2240.94 529 2240.64 529.5 2240.67 530 2240.77 530.5 2240.77 531 2240.77 531.5 2240.26 532 2240.39 532.5 2239.71 533 2239.28 533.5 2238.41 534 2237.74 534.5 2236.64 535 2236.06 535.5 2235.48 536 2235.75 536.5 2236.22 537 2237.1 537.5 2238.16 538 2238.99 538.5 2239.59 539 2239.93 539.5 2239.98 540 2240.35 540.5 2240.74 541 2240.45 541.5 2240.66 542 2240.73 542.5 2240.68 543 2240.73 543.5 2240.87 544 2240.73 544.5 2241.1 545 2240.58 545.5 2240.81 546 2240.7 546.5 2240.49 547 2240.87 547.5 2240.72 548 2240.61 548.5 2240.58 549 2240.02 549.5 2240 550 2239.69 550.5 2238.99 551 2238.39 551.5 2238.05 552 2237.37 552.5 2237.41 553 2237.92 553.5 2238.62 554 2239.1 554.5 2239.52 555 2240.06 555.5 2240.11 556 2240.19 556.5 2240.56 557 2240.49 557.5 2240.61 558 2240.61 558.5 2240.66 559 2240.5 559.5 2240.51 560 2240.81 560.5 2240.75 561 2240.74 561.5 2240.78 562 2240.85 562.5 2240.63 563 2240.45 563.5 2240.72 564 2240.95 564.5 2240.56 565 2240.51 565.5 2240.2 566 2239.72 566.5 2239.47 567 2238.99 567.5 2238.59 568 2238.75 568.5 2238.49 569 2238.77 569.5 2239.05 570 2239.65 570.5 2240.33 571 2240.32 571.5 2240.79 572 2240.63 572.5 2240.59 573 2240.5 573.5 2240.66 574 2240.84 574.5 2240.4 575 2240.8 575.5 2240.93 576 2240.88 576.5 2240.46 577 2240.53 577.5 2240.66 578 2240.39 578.5 2240.66 579 2240.51 579.5 2240.63 580 2240.46 580.5 2240.3 581 2240 581.5 2239.69 582 2239.19 582.5 2238.34 583 2238.12 583.5 2237.69 584 2237.35 584.5 2237.74 585 2238.43 585.5 2238.79 586 2239.49 586.5 2239.67 587 2240.19 587.5 2240.72 588 2240.77 588.5 2240.88 589 2240.96 589.5 2240.79 590 2240.8 590.5 2240.96 591 2240.81 591.5 2240.66 592 2241.03 592.5 2241.06 593 2240.99 593.5 2241.01 594 2240.78 594.5 2240.99 595 2240.93 595.5 2240.99 596 2240.85 596.5 2240.87 597 2240.72 597.5 2240.96 598 2240.72 598.5 2240.67 599 2240.87 599.5 2240.92 600 2240.83 600.5 2241.12 601 2241.03 601.5 2240.74 602 2240.84 602.5 2240.83 603 2241.36 603.5 2240.81 604 2240.85 604.5 2240.98 605 2241.02 605.5 2240.9 606 2241.16 606.5 2240.69 607 2241.07 607.5 2240.8 608 2241.17 608.5 2241.12 609 2240.84 609.5 2240.89 610 2240.7 610.5 2240.63 611 2240.74 611.5 2240.3 612 2240.76 612.5 2240.23 613 2240.65 613.5 2240.22 614 2240.07 614.5 2240.05 615 2240.31 615.5 2239.99 616 2240.54 616.5 2240.43 617 2240.5 617.5 2240.59 618 2240.7 618.5 2240.91 619 2240.94 619.5 2240.95 620 2240.61 620.5 2241.07 621 2240.91 621.5 2240.88 622 2240.64 622.5 2240.96 623 2240.78 623.5 2240.86 624 2240.87 624.5 2240.97 625 2240.61 625.5 2240.18 626 2240.21 626.5 2239.61 627 2239.35 627.5 2238.67 628 2238.58 628.5 2238.42 629 2237.77 629.5 2238.25 630 2238.8 630.5 2239.02 631 2239.64 631.5 2240.14 632 2240.43 632.5 2240.28 633 2240.69 633.5 2240.85 634 2240.92 634.5 2240.7 635 2240.71 635.5 2240.76 636 2241.12 636.5 2241.02 637 2240.71 637.5 2240.98 638 2240.88 638.5 2240.81 639 2241.03 639.5 2240.91 640 2241.11 640.5 2241.18 641 2240.86 641.5 2241.05 642 2241.18 642.5 2240.9 643 2240.87 643.5 2240.92 644 2241.03 644.5 2240.73 645 2241.04 645.5 2240.89 646 2241.07 646.5 2240.98 647 2241.37 647.5 2240.97 648 2241.12 648.5 2240.98 649 2241.13 649.5 2241.01 650 2240.65 650.5 2240.64 651 2240.77 651.5 2240.87 652 2241.13 652.5 2240.81 653 2240.95 653.5 2240.74 654 2240.82 654.5 2240.59 655 2240.44 655.5 2240.23 656 2239.78 656.5 2239.84 657 2239.39 657.5 2239 658 2238.89 658.5 2239.19 659 2239.48 659.5 2239.82 660 2240.05 660.5 2240.63 661 2240.6 661.5 2240.61 662 2240.82 662.5 2240.93 663 2240.98 663.5 2240.87 664 2240.87 664.5 2240.75 665 2240.9 665.5 2241.03 666 2240.8 666.5 2241.01 667 2241.06 667.5 2240.91 668 2240.83 668.5 2240.86 669 2240.48 669.5 2240.39 670 2240.37 670.5 2240.23 671 2240.17 671.5 2239.74 672 2240.33 672.5 2240.17 673 2240.51 673.5 2240.5 674 2240.75 674.5 2240.68 675 2240.88 675.5 2240.97 676 2241.09 676.5 2240.97 677 2240.91 677.5 2240.71 678 2240.78 678.5 2240.85 679 2240.91 679.5 2241.17 680 2240.83 680.5 2241.01 681 2241.02 681.5 2241.16 682 2240.93 682.5 2241.01 683 2241.04 683.5 2241.07 684 2241.26 684.5 2240.96 685 2240.97 685.5 2241.04 686 2240.77 686.5 2241.2 687 2241.14 687.5 2240.96 688 2241.16 688.5 2240.99 689 2241.22 689.5 2241.36 690 2241.24 690.5 2241.3 691 2241.39 691.5 2241.19 692 2241.06 692.5 2240.97 693 2241.5 693.5 2240.7 694 2241.55 694.5 2240.99 695 2241.09 695.5 2241 696 2241.08 696.5 2240.95 697 2241.05 697.5 2241.06 698 2241.13 698.5 2240.84 699 2241.47 699.5 2240.84 700 2241 700.5 2241.12 701 2240.91 701.5 2241.03 702 2241.03 702.5 2240.77 703 2241 703.5 2241 704 2241.11 704.5 2241.28 705 2240.92 705.5 2241.02 706 2241.12 706.5 2240.93 707 2241.17 707.5 2241.03 708 2241.35 708.5 2240.8 709 2240.95 709.5 2240.7 710 2241 710.5 2240.94 711 2240.92 711.5 2240.76 712 2241.08 712.5 2240.92 713 2240.92 713.5 2241.21 714 2241.33 714.5 2240.85 715 2240.68 715.5 2240.97 716 2241.11 716.5 2241.19 717 2241.1 717.5 2240.95 718 2241.06 718.5 2241.04 719 2240.96 719.5 2241.14 720 2241.02 720.5 2241.09 721 2241.13 721.5 2241.14 722 2240.76 722.5 2241.02 723 2240.96 723.5 2241.18 724 2240.86 724.5 2241.06 725 2241.39 725.5 2241.07 726 2240.94 726.5 2241.04 727 2241.06 727.5 2241.11 728 2241.1 728.5 2241.13 729 2240.91 729.5 2240.79 730 2240.86 730.5 2241.04 731 2241.14 731.5 2241.03 732 2241.41 732.5 2241.04 733 2241.1 733.5 2241.19 734 2241.12 734.5 2241.14 735 2240.99 735.5 2241.08 736 2240.92 736.5 2241.26 737 2241.03 737.5 2241.07 738 2241.19 738.5 2240.9 739 2241.02 739.5 2240.69 740 2241.16 740.5 2241.18 741 2241.08 741.5 2241.03 742 2240.71 742.5 2241.13 743 2240.92 743.5 2240.81 744 2241.24 744.5 2240.64 745 2240.78 745.5 2241.09 746 2241.03 746.5 2240.71 747 2240.2 747.5 2240.56 748 2240.64 748.5 2240.4 749 2240.05 749.5 2240.28 750 2240.27 750.5 2240.22 751 2240.36 751.5 2240.58 752 2240.54 752.5 2241.01 753 2240.67 753.5 2240.91 754 2240.99 754.5 2240.95 755 2240.88 755.5 2241.05 756 2241.05 756.5 2241.24 757 2240.8 757.5 2241.14 758 2240.93 758.5 2241.06 759 2241.23 759.5 2241.15 760 2241.07 760.5 2241.44 761 2240.82 761.5 2240.98 762 2241.13 762.5 2240.8 763 2240.84 763.5 2240.88 764 2240.97 764.5 2240.93 765 2240.84 765.5 2241 766 2241.16 766.5 2240.86 767 2241.04 767.5 2241.1 768 2240.97 768.5 2241.14 769 2240.93 769.5 2241.2 770 2240.7 770.5 2240.98 771 2240.96 771.5 2240.51 772 2240.21 772.5 2240.18 773 2240.22 773.5 2239.95 774 2240.23 774.5 2240.37 775 2240.64 775.5 2240.51 776 2240.69 776.5 2240.76 777 2240.81 777.5 2240.84 778 2241 778.5 2241.12 779 2241.17 779.5 2241.1 780 2240.87 780.5 2241.12 781 2241.13 781.5 2241.19 782 2240.93 782.5 2241.05 783 2241.22 783.5 2241.2 784 2241.24 784.5 2241.35 785 2241.1 785.5 2241.13 786 2241.22 786.5 2241.14 787 2241.08 787.5 2240.98 788 2241.27 788.5 2240.9 789 2240.89 789.5 2241.16 790 2240.95 790.5 2241.12 791 2240.99 791.5 2241.17 792 2240.83 792.5 2241.36 793 2241.13 793.5 2241.06 794 2241.16 794.5 2241.18 795 2241.2 795.5 2241.22 796 2240.83 796.5 2241.01 797 2241.01 797.5 2241.09 798 2241.21 798.5 2241.26 799 2241.18 799.5 2240.95 800 2240.89 800.5 2241.12 801 2240.8 801.5 2240.89 802 2241.01 802.5 2240.96 803 2240.96 803.5 2241.12 804 2241.05 804.5 2241.22 805 2241.14 805.5 2240.98 806 2241.21 806.5 2241.31 807 2241.21 807.5 2241.02 808 2241.02 808.5 2241.21 809 2241.04 809.5 2240.9 810 2241.48 810.5 2241.12 811 2241.22 811.5 2241.25 812 2241.17 812.5 2241 813 2241.04 813.5 2240.92 814 2241.03 814.5 2240.65 815 2240.95 815.5 2241.12 816 2241.06 816.5 2241.32 817 2240.99 817.5 2241.15 818 2240.82 818.5 2241.18 819 2241.03 819.5 2240.94 820 2241.24 820.5 2240.86 821 2241.08 821.5 2240.9 822 2241.21 822.5 2241.02 823 2241.21 823.5 2241 824 2240.99 824.5 2241 825 2241.23 825.5 2241 826 2241.19 826.5 2240.95 827 2241.22 827.5 2241.17 828 2241.18 828.5 2240.97 829 2240.9 829.5 2241.01 830 2240.81 830.5 2240.71 831 2240.83 831.5 2240.61 832 2240.76 832.5 2240.8 833 2240.27 833.5 2240.66 834 2240.67 834.5 2240.44 835 2240.52 835.5 2240.78 836 2240.94 836.5 2240.83 837 2240.99 837.5 2241.23 838 2240.81 838.5 2241.12 839 2241.07 839.5 2241.3 840 2241.43 840.5 2241 841 2241.06 841.5 2241.08 842 2240.92 842.5 2241.07 843 2240.82 843.5 2241.13 844 2241.25 844.5 2240.93 845 2240.8 845.5 2240.93 846 2241.09 846.5 2241.1 847 2241.14 847.5 2241.28 848 2241.02 848.5 2241.16 849 2241.2 849.5 2240.88 850 2241.24 850.5 2241.28 851 2240.9 851.5 2241.36 852 2241.09 852.5 2241.13 853 2241.24 853.5 2240.99 854 2241.07 854.5 2241.23 855 2241.51 855.5 2241.24 856 2241.19 856.5 2241.21 857 2241.32 857.5 2241.13 858 2241.05 858.5 2241.21 859 2241.38 859.5 2241.29 860 2241.05 860.5 2241.32 861 2241.04 861.5 2241.03 862 2241.17 862.5 2241.17 863 2241.3 863.5 2241.35 864 2241.04 864.5 2241.16 865 2240.84 865.5 2241.23 866 2241.05 866.5 2241.17 867 2241.19 867.5 2241.11 868 2241.08 868.5 2241.21 869 2240.88 869.5 2241.31 870 2241.4 870.5 2241.09 871 2241.33 871.5 2241.18 872 2241.13 872.5 2241.18 873 2241.28 873.5 2241.32 874 2240.89 874.5 2241.09 875 2241.18 875.5 2241.22 876 2241.05 876.5 2240.87 877 2240.92 877.5 2241.18 878 2240.95 878.5 2241.03 879 2241.05 879.5 2241.01 880 2241.13 880.5 2241.09 881 2240.84 881.5 2241.27 882 2241.19 882.5 2241.01 883 2240.92 883.5 2241.03 884 2241.1 884.5 2241.19 885 2241.38 885.5 2241.28 886 2241.21 886.5 2241.25 887 2241 887.5 2241.1 888 2241.12 888.5 2241.43 889 2241.29 889.5 2241.3 890 2241.3 890.5 2241.04 891 2241.09 891.5 2241.07 892 2241.34 892.5 2241.11 893 2241.14 893.5 2241.05 894 2241.37 894.5 2241.08 895 2241.11 895.5 2241.02 896 2241.15 896.5 2241.25 897 2241.22" stroke="#000" stroke-width="1.75" fill="none" stroke-linejoin="round"/>
<text x="675.6" y="182.7" class="lb" style="font-size:31.85px">ZIF-8@Bamboo</text>
<text x="746.3" y="403.9" class="lb" style="font-size:32.1px">Bamboo</text>
<text x="776.3" y="624.6" class="lb" style="font-size:32.3px">ZIF-8</text>
<text x="686" y="984.1" class="lb" style="font-size:32.0px">ZIF-8@Modal</text>
<text x="742.1" y="1210.6" class="lb" style="font-size:32.5px">Modal</text>
<text x="771.2" y="1430.8" class="lb" style="font-size:32.2px">ZIF-8</text>
<text x="676.6" y="1777.9" class="lb" style="font-size:31.3px">ZIF-8@Cotton</text>
<text x="731.9" y="2000.6" class="lb" style="font-size:31.7px">Cotton</text>
<text x="761.4" y="2216.1" class="lb" style="font-size:31.6px">ZIF-8</text>
</svg>
</body></html>
